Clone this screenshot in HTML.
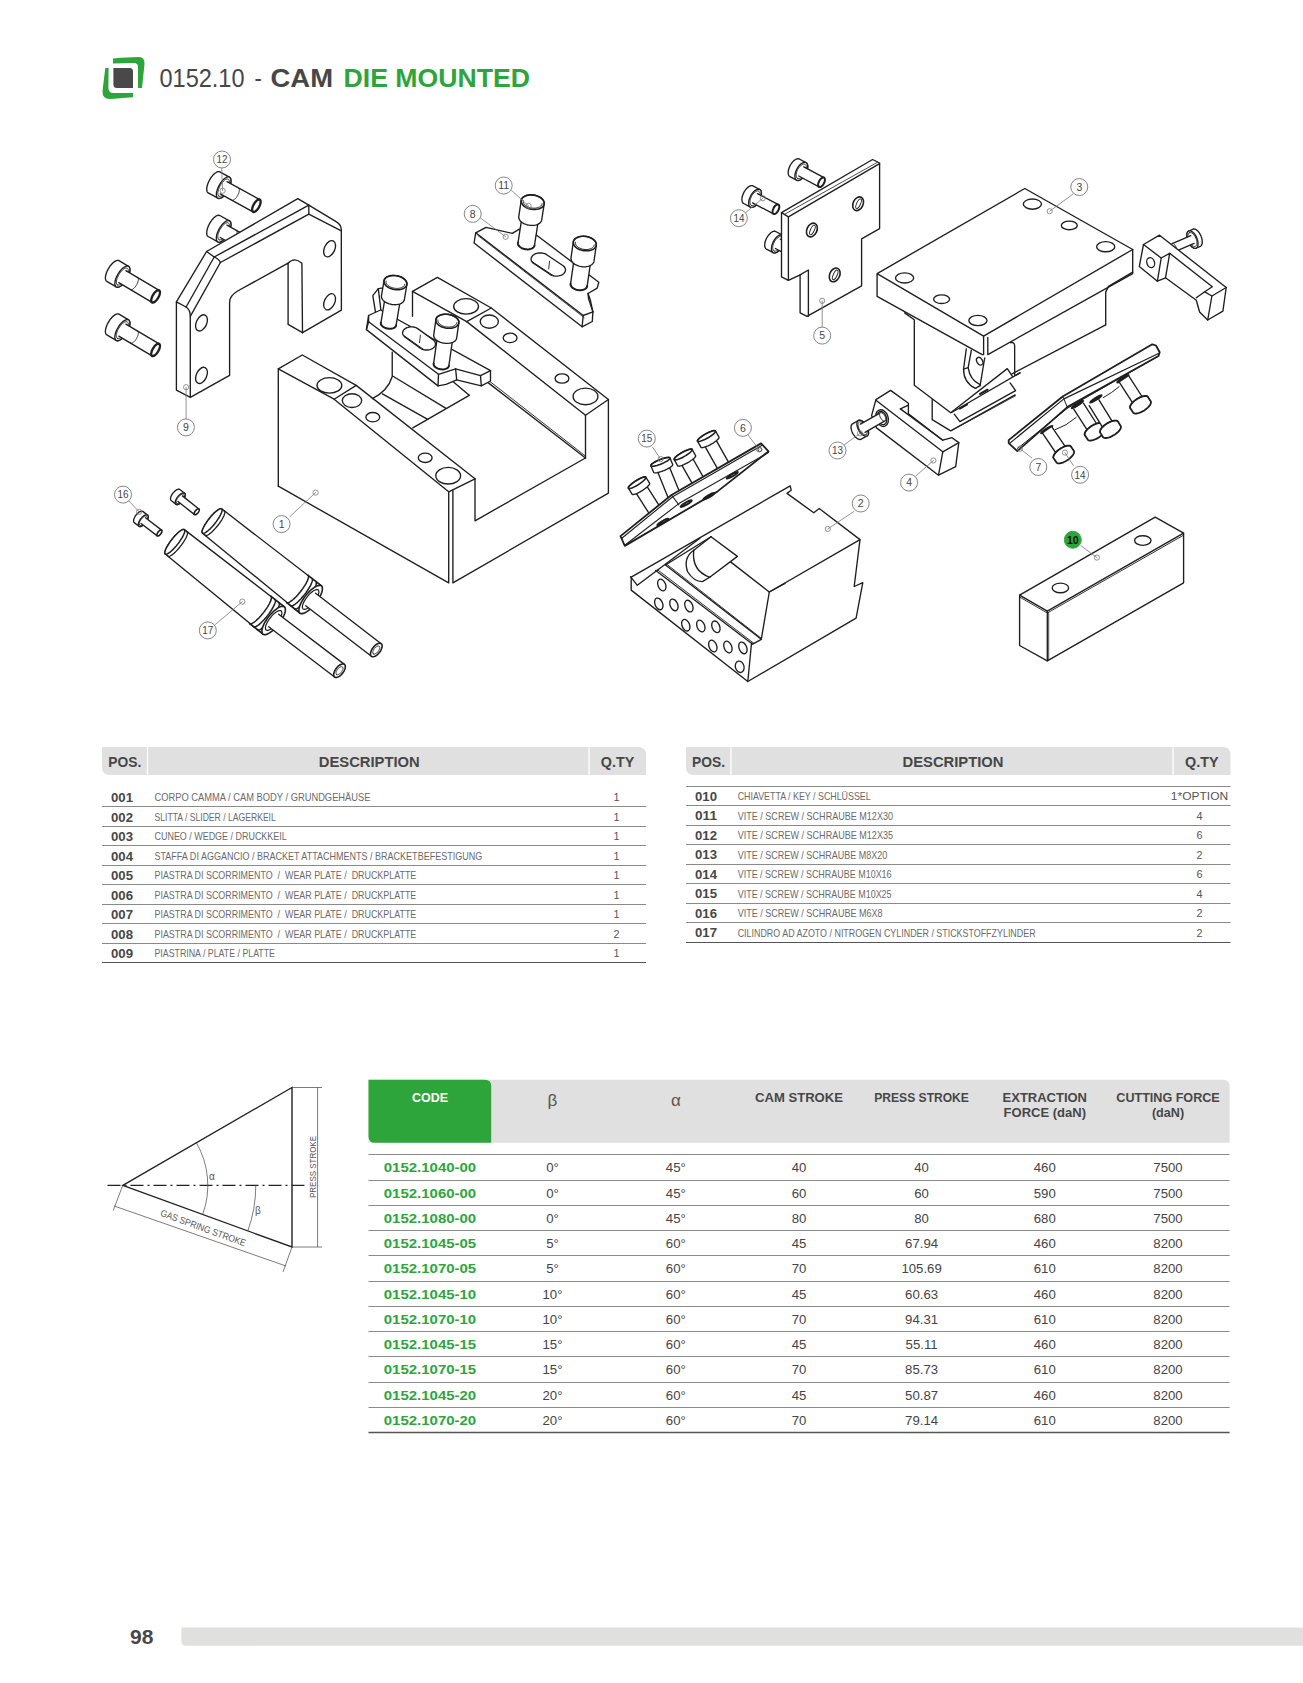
<!DOCTYPE html>
<html><head><meta charset="utf-8"><style>
html,body{margin:0;padding:0;background:#fff;}
svg{display:block;font-family:"Liberation Sans",sans-serif;}
</style></head><body>
<svg width="1303" height="1683" viewBox="0 0 1303 1683">
<g>
<path d="M105.3,68 L108.6,68 L108.4,88 Q108.6,93 113.5,93 L133,93 L133,97.3 Q118,98.5 110,99 Q102.3,99.2 102.5,91 Z" fill="#2ea53b"/>
<path d="M113,58.5 Q128,57 139,57 Q144.8,57 144.5,64 L142,88 L138,88 L138,67 Q138,63 134,63 L113,63.5 Z" fill="#2ea53b"/>
<path d="M113.4,68 L130,68 Q133,68 133,71.5 L133,88 L117,88 Q113.4,88 113.4,84.5 Z" fill="#494949"/>
</g><text xml:space="preserve" x="159.5" y="86.5" font-size="26" font-weight="normal" fill="#474747" text-anchor="start" textLength="85" lengthAdjust="spacingAndGlyphs" >0152.10</text><text xml:space="preserve" x="254.4" y="86.5" font-size="26" font-weight="normal" fill="#474747" text-anchor="start" textLength="7.3" lengthAdjust="spacingAndGlyphs" >-</text><text xml:space="preserve" x="270.5" y="86.5" font-size="26" font-weight="bold" fill="#474747" text-anchor="start" textLength="62.5" lengthAdjust="spacingAndGlyphs" >CAM</text><text xml:space="preserve" x="343.5" y="86.5" font-size="26" font-weight="bold" fill="#2ea53b" text-anchor="start" textLength="186.5" lengthAdjust="spacingAndGlyphs" >DIE MOUNTED</text><path d="M102,747 L638,747 Q646,747 646,755 L646,775 L110,775 Q102,775 102,767 Z" fill="#e0e0e0"/><line x1="147.5" y1="747" x2="147.5" y2="775" stroke="#fff" stroke-width="1.3"/><line x1="589" y1="747" x2="589" y2="775" stroke="#fff" stroke-width="1.3"/><text xml:space="preserve" x="124.75" y="767.3" font-size="14.5" font-weight="bold" fill="#474747" text-anchor="middle" textLength="33" lengthAdjust="spacingAndGlyphs" >POS.</text><text xml:space="preserve" x="369.25" y="767.3" font-size="14.5" font-weight="bold" fill="#474747" text-anchor="middle" textLength="101" lengthAdjust="spacingAndGlyphs" >DESCRIPTION</text><text xml:space="preserve" x="617.5" y="767.3" font-size="14.5" font-weight="bold" fill="#474747" text-anchor="middle" textLength="33.5" lengthAdjust="spacingAndGlyphs" >Q.TY</text><text xml:space="preserve" x="111" y="802.0" font-size="12.6" font-weight="bold" fill="#474747" text-anchor="start" textLength="22" lengthAdjust="spacingAndGlyphs" >001</text><text xml:space="preserve" x="154.5" y="801.4" font-size="10.6" font-weight="normal" fill="#6a6a6a" text-anchor="start" textLength="216" lengthAdjust="spacingAndGlyphs" >CORPO CAMMA / CAM BODY / GRUNDGEHÄUSE</text><text xml:space="preserve" x="616.5" y="801.4" font-size="10.8" font-weight="normal" fill="#555" text-anchor="middle" >1</text><line x1="102" y1="806.5" x2="646" y2="806.5" stroke="#8a8a8a" stroke-width="1"/><text xml:space="preserve" x="111" y="821.5" font-size="12.6" font-weight="bold" fill="#474747" text-anchor="start" textLength="22" lengthAdjust="spacingAndGlyphs" >002</text><text xml:space="preserve" x="154.5" y="820.9" font-size="10.6" font-weight="normal" fill="#6a6a6a" text-anchor="start" textLength="121.3" lengthAdjust="spacingAndGlyphs" >SLITTA / SLIDER / LAGERKEIL</text><text xml:space="preserve" x="616.5" y="820.9" font-size="10.8" font-weight="normal" fill="#555" text-anchor="middle" >1</text><line x1="102" y1="826.5" x2="646" y2="826.5" stroke="#8a8a8a" stroke-width="1"/><text xml:space="preserve" x="111" y="841.0" font-size="12.6" font-weight="bold" fill="#474747" text-anchor="start" textLength="22" lengthAdjust="spacingAndGlyphs" >003</text><text xml:space="preserve" x="154.5" y="840.4" font-size="10.6" font-weight="normal" fill="#6a6a6a" text-anchor="start" textLength="132.2" lengthAdjust="spacingAndGlyphs" >CUNEO / WEDGE / DRUCKKEIL</text><text xml:space="preserve" x="616.5" y="840.4" font-size="10.8" font-weight="normal" fill="#555" text-anchor="middle" >1</text><line x1="102" y1="845.5" x2="646" y2="845.5" stroke="#8a8a8a" stroke-width="1"/><text xml:space="preserve" x="111" y="860.5" font-size="12.6" font-weight="bold" fill="#474747" text-anchor="start" textLength="22" lengthAdjust="spacingAndGlyphs" >004</text><text xml:space="preserve" x="154.5" y="859.9" font-size="10.6" font-weight="normal" fill="#6a6a6a" text-anchor="start" textLength="327.7" lengthAdjust="spacingAndGlyphs" >STAFFA DI AGGANCIO / BRACKET ATTACHMENTS / BRACKETBEFESTIGUNG</text><text xml:space="preserve" x="616.5" y="859.9" font-size="10.8" font-weight="normal" fill="#555" text-anchor="middle" >1</text><line x1="102" y1="865.5" x2="646" y2="865.5" stroke="#8a8a8a" stroke-width="1"/><text xml:space="preserve" x="111" y="880.0" font-size="12.6" font-weight="bold" fill="#474747" text-anchor="start" textLength="22" lengthAdjust="spacingAndGlyphs" >005</text><text xml:space="preserve" x="154.5" y="879.4" font-size="10.6" font-weight="normal" fill="#6a6a6a" text-anchor="start" textLength="261.8" lengthAdjust="spacingAndGlyphs" >PIASTRA DI SCORRIMENTO  /  WEAR PLATE /  DRUCKPLATTE</text><text xml:space="preserve" x="616.5" y="879.4" font-size="10.8" font-weight="normal" fill="#555" text-anchor="middle" >1</text><line x1="102" y1="884.5" x2="646" y2="884.5" stroke="#8a8a8a" stroke-width="1"/><text xml:space="preserve" x="111" y="899.5" font-size="12.6" font-weight="bold" fill="#474747" text-anchor="start" textLength="22" lengthAdjust="spacingAndGlyphs" >006</text><text xml:space="preserve" x="154.5" y="898.9" font-size="10.6" font-weight="normal" fill="#6a6a6a" text-anchor="start" textLength="261.8" lengthAdjust="spacingAndGlyphs" >PIASTRA DI SCORRIMENTO  /  WEAR PLATE /  DRUCKPLATTE</text><text xml:space="preserve" x="616.5" y="898.9" font-size="10.8" font-weight="normal" fill="#555" text-anchor="middle" >1</text><line x1="102" y1="904.5" x2="646" y2="904.5" stroke="#8a8a8a" stroke-width="1"/><text xml:space="preserve" x="111" y="919.0" font-size="12.6" font-weight="bold" fill="#474747" text-anchor="start" textLength="22" lengthAdjust="spacingAndGlyphs" >007</text><text xml:space="preserve" x="154.5" y="918.4" font-size="10.6" font-weight="normal" fill="#6a6a6a" text-anchor="start" textLength="261.8" lengthAdjust="spacingAndGlyphs" >PIASTRA DI SCORRIMENTO  /  WEAR PLATE /  DRUCKPLATTE</text><text xml:space="preserve" x="616.5" y="918.4" font-size="10.8" font-weight="normal" fill="#555" text-anchor="middle" >1</text><line x1="102" y1="923.5" x2="646" y2="923.5" stroke="#8a8a8a" stroke-width="1"/><text xml:space="preserve" x="111" y="938.5" font-size="12.6" font-weight="bold" fill="#474747" text-anchor="start" textLength="22" lengthAdjust="spacingAndGlyphs" >008</text><text xml:space="preserve" x="154.5" y="937.9" font-size="10.6" font-weight="normal" fill="#6a6a6a" text-anchor="start" textLength="261.8" lengthAdjust="spacingAndGlyphs" >PIASTRA DI SCORRIMENTO  /  WEAR PLATE /  DRUCKPLATTE</text><text xml:space="preserve" x="616.5" y="937.9" font-size="10.8" font-weight="normal" fill="#555" text-anchor="middle" >2</text><line x1="102" y1="943.5" x2="646" y2="943.5" stroke="#8a8a8a" stroke-width="1"/><text xml:space="preserve" x="111" y="958.0" font-size="12.6" font-weight="bold" fill="#474747" text-anchor="start" textLength="22" lengthAdjust="spacingAndGlyphs" >009</text><text xml:space="preserve" x="154.5" y="957.4" font-size="10.6" font-weight="normal" fill="#6a6a6a" text-anchor="start" textLength="120.5" lengthAdjust="spacingAndGlyphs" >PIASTRINA / PLATE / PLATTE</text><text xml:space="preserve" x="616.5" y="957.4" font-size="10.8" font-weight="normal" fill="#555" text-anchor="middle" >1</text><line x1="102" y1="962.5" x2="646" y2="962.5" stroke="#555" stroke-width="1.2"/><path d="M686,747 L1222.5,747 Q1230.5,747 1230.5,755 L1230.5,775 L694,775 Q686,775 686,767 Z" fill="#e0e0e0"/><line x1="731" y1="747" x2="731" y2="775" stroke="#fff" stroke-width="1.3"/><line x1="1173" y1="747" x2="1173" y2="775" stroke="#fff" stroke-width="1.3"/><text xml:space="preserve" x="708.5" y="767.3" font-size="14.5" font-weight="bold" fill="#474747" text-anchor="middle" textLength="33" lengthAdjust="spacingAndGlyphs" >POS.</text><text xml:space="preserve" x="953.0" y="767.3" font-size="14.5" font-weight="bold" fill="#474747" text-anchor="middle" textLength="101" lengthAdjust="spacingAndGlyphs" >DESCRIPTION</text><text xml:space="preserve" x="1201.75" y="767.3" font-size="14.5" font-weight="bold" fill="#474747" text-anchor="middle" textLength="33.5" lengthAdjust="spacingAndGlyphs" >Q.TY</text><line x1="686" y1="786.5" x2="1230.5" y2="786.5" stroke="#8a8a8a" stroke-width="1"/><text xml:space="preserve" x="695" y="800.9" font-size="12.6" font-weight="bold" fill="#474747" text-anchor="start" textLength="22" lengthAdjust="spacingAndGlyphs" >010</text><text xml:space="preserve" x="737.7" y="800.3" font-size="10.6" font-weight="normal" fill="#6a6a6a" text-anchor="start" textLength="133" lengthAdjust="spacingAndGlyphs" >CHIAVETTA / KEY / SCHLÜSSEL</text><text xml:space="preserve" x="1199.5" y="800.3" font-size="10.8" font-weight="normal" fill="#555" text-anchor="middle" textLength="57.3" lengthAdjust="spacingAndGlyphs" >1*OPTION</text><line x1="686" y1="805.5" x2="1230.5" y2="805.5" stroke="#8a8a8a" stroke-width="1"/><text xml:space="preserve" x="695" y="820.4" font-size="12.6" font-weight="bold" fill="#474747" text-anchor="start" textLength="22" lengthAdjust="spacingAndGlyphs" >011</text><text xml:space="preserve" x="737.7" y="819.8" font-size="10.6" font-weight="normal" fill="#6a6a6a" text-anchor="start" textLength="155.3" lengthAdjust="spacingAndGlyphs" >VITE / SCREW / SCHRAUBE M12X30</text><text xml:space="preserve" x="1199.5" y="819.8" font-size="10.8" font-weight="normal" fill="#555" text-anchor="middle" >4</text><line x1="686" y1="825.5" x2="1230.5" y2="825.5" stroke="#8a8a8a" stroke-width="1"/><text xml:space="preserve" x="695" y="839.9" font-size="12.6" font-weight="bold" fill="#474747" text-anchor="start" textLength="22" lengthAdjust="spacingAndGlyphs" >012</text><text xml:space="preserve" x="737.7" y="839.3" font-size="10.6" font-weight="normal" fill="#6a6a6a" text-anchor="start" textLength="155.3" lengthAdjust="spacingAndGlyphs" >VITE / SCREW / SCHRAUBE M12X35</text><text xml:space="preserve" x="1199.5" y="839.3" font-size="10.8" font-weight="normal" fill="#555" text-anchor="middle" >6</text><line x1="686" y1="844.5" x2="1230.5" y2="844.5" stroke="#8a8a8a" stroke-width="1"/><text xml:space="preserve" x="695" y="859.4" font-size="12.6" font-weight="bold" fill="#474747" text-anchor="start" textLength="22" lengthAdjust="spacingAndGlyphs" >013</text><text xml:space="preserve" x="737.7" y="858.8" font-size="10.6" font-weight="normal" fill="#6a6a6a" text-anchor="start" textLength="149.6" lengthAdjust="spacingAndGlyphs" >VITE / SCREW / SCHRAUBE M8X20</text><text xml:space="preserve" x="1199.5" y="858.8" font-size="10.8" font-weight="normal" fill="#555" text-anchor="middle" >2</text><line x1="686" y1="864.5" x2="1230.5" y2="864.5" stroke="#8a8a8a" stroke-width="1"/><text xml:space="preserve" x="695" y="878.9" font-size="12.6" font-weight="bold" fill="#474747" text-anchor="start" textLength="22" lengthAdjust="spacingAndGlyphs" >014</text><text xml:space="preserve" x="737.7" y="878.3" font-size="10.6" font-weight="normal" fill="#6a6a6a" text-anchor="start" textLength="153.9" lengthAdjust="spacingAndGlyphs" >VITE / SCREW / SCHRAUBE M10X16</text><text xml:space="preserve" x="1199.5" y="878.3" font-size="10.8" font-weight="normal" fill="#555" text-anchor="middle" >6</text><line x1="686" y1="883.5" x2="1230.5" y2="883.5" stroke="#8a8a8a" stroke-width="1"/><text xml:space="preserve" x="695" y="898.4" font-size="12.6" font-weight="bold" fill="#474747" text-anchor="start" textLength="22" lengthAdjust="spacingAndGlyphs" >015</text><text xml:space="preserve" x="737.7" y="897.8" font-size="10.6" font-weight="normal" fill="#6a6a6a" text-anchor="start" textLength="153.9" lengthAdjust="spacingAndGlyphs" >VITE / SCREW / SCHRAUBE M10X25</text><text xml:space="preserve" x="1199.5" y="897.8" font-size="10.8" font-weight="normal" fill="#555" text-anchor="middle" >4</text><line x1="686" y1="903.5" x2="1230.5" y2="903.5" stroke="#8a8a8a" stroke-width="1"/><text xml:space="preserve" x="695" y="917.9" font-size="12.6" font-weight="bold" fill="#474747" text-anchor="start" textLength="22" lengthAdjust="spacingAndGlyphs" >016</text><text xml:space="preserve" x="737.7" y="917.3" font-size="10.6" font-weight="normal" fill="#6a6a6a" text-anchor="start" textLength="144.8" lengthAdjust="spacingAndGlyphs" >VITE / SCREW / SCHRAUBE M6X8</text><text xml:space="preserve" x="1199.5" y="917.3" font-size="10.8" font-weight="normal" fill="#555" text-anchor="middle" >2</text><line x1="686" y1="922.5" x2="1230.5" y2="922.5" stroke="#8a8a8a" stroke-width="1"/><text xml:space="preserve" x="695" y="937.4" font-size="12.6" font-weight="bold" fill="#474747" text-anchor="start" textLength="22" lengthAdjust="spacingAndGlyphs" >017</text><text xml:space="preserve" x="737.7" y="936.8" font-size="10.6" font-weight="normal" fill="#6a6a6a" text-anchor="start" textLength="297.9" lengthAdjust="spacingAndGlyphs" >CILINDRO AD AZOTO / NITROGEN CYLINDER / STICKSTOFFZYLINDER</text><text xml:space="preserve" x="1199.5" y="936.8" font-size="10.8" font-weight="normal" fill="#555" text-anchor="middle" >2</text><line x1="686" y1="942.5" x2="1230.5" y2="942.5" stroke="#555" stroke-width="1.2"/><path d="M368.5,1079.7 L1223.5,1079.7 Q1229.6,1079.7 1229.6,1085.7 L1229.6,1142.8 L368.5,1142.8 Z" fill="#e0e0e0"/><path d="M368.5,1079.7 L485,1079.7 Q491.2,1079.7 491.2,1086 L491.2,1142.8 L375,1142.8 Q368.5,1142.8 368.5,1136.5 Z" fill="#2ea53b"/><text xml:space="preserve" x="430" y="1101.8" font-size="12.6" font-weight="bold" fill="#fff" text-anchor="middle" textLength="36" lengthAdjust="spacingAndGlyphs" >CODE</text><text xml:space="preserve" x="552.5" y="1106" font-size="17" font-weight="normal" fill="#555" text-anchor="middle" >β</text><text xml:space="preserve" x="675.8" y="1106" font-size="17" font-weight="normal" fill="#555" text-anchor="middle" >α</text><text xml:space="preserve" x="799" y="1102" font-size="12.6" font-weight="bold" fill="#474747" text-anchor="middle" textLength="88" lengthAdjust="spacingAndGlyphs" >CAM STROKE</text><text xml:space="preserve" x="921.6" y="1102" font-size="12.6" font-weight="bold" fill="#474747" text-anchor="middle" textLength="94.6" lengthAdjust="spacingAndGlyphs" >PRESS STROKE</text><text xml:space="preserve" x="1044.8" y="1102" font-size="12.6" font-weight="bold" fill="#474747" text-anchor="middle" textLength="84.4" lengthAdjust="spacingAndGlyphs" >EXTRACTION</text><text xml:space="preserve" x="1044.8" y="1117.3" font-size="12.6" font-weight="bold" fill="#474747" text-anchor="middle" textLength="82.4" lengthAdjust="spacingAndGlyphs" >FORCE (daN)</text><text xml:space="preserve" x="1168" y="1102" font-size="12.6" font-weight="bold" fill="#474747" text-anchor="middle" textLength="103.4" lengthAdjust="spacingAndGlyphs" >CUTTING FORCE</text><text xml:space="preserve" x="1168" y="1117.3" font-size="12.6" font-weight="bold" fill="#474747" text-anchor="middle" >(daN)</text><line x1="368.5" y1="1154.5" x2="1229.6" y2="1154.5" stroke="#8a8a8a" stroke-width="1"/><text xml:space="preserve" x="430" y="1172.4" font-size="13" font-weight="bold" fill="#2ea53b" text-anchor="middle" textLength="92.4" lengthAdjust="spacingAndGlyphs" >0152.1040-00</text><text xml:space="preserve" x="552.5" y="1172.4" font-size="13.2" font-weight="normal" fill="#444" text-anchor="middle" >0°</text><text xml:space="preserve" x="675.8" y="1172.4" font-size="13.2" font-weight="normal" fill="#444" text-anchor="middle" >45°</text><text xml:space="preserve" x="799" y="1172.4" font-size="13.2" font-weight="normal" fill="#444" text-anchor="middle" >40</text><text xml:space="preserve" x="921.6" y="1172.4" font-size="13.2" font-weight="normal" fill="#444" text-anchor="middle" >40</text><text xml:space="preserve" x="1044.8" y="1172.4" font-size="13.2" font-weight="normal" fill="#444" text-anchor="middle" >460</text><text xml:space="preserve" x="1168" y="1172.4" font-size="13.2" font-weight="normal" fill="#444" text-anchor="middle" >7500</text><line x1="368.5" y1="1180.5" x2="1229.6" y2="1180.5" stroke="#8a8a8a" stroke-width="1"/><text xml:space="preserve" x="430" y="1197.65" font-size="13" font-weight="bold" fill="#2ea53b" text-anchor="middle" textLength="92.4" lengthAdjust="spacingAndGlyphs" >0152.1060-00</text><text xml:space="preserve" x="552.5" y="1197.65" font-size="13.2" font-weight="normal" fill="#444" text-anchor="middle" >0°</text><text xml:space="preserve" x="675.8" y="1197.65" font-size="13.2" font-weight="normal" fill="#444" text-anchor="middle" >45°</text><text xml:space="preserve" x="799" y="1197.65" font-size="13.2" font-weight="normal" fill="#444" text-anchor="middle" >60</text><text xml:space="preserve" x="921.6" y="1197.65" font-size="13.2" font-weight="normal" fill="#444" text-anchor="middle" >60</text><text xml:space="preserve" x="1044.8" y="1197.65" font-size="13.2" font-weight="normal" fill="#444" text-anchor="middle" >590</text><text xml:space="preserve" x="1168" y="1197.65" font-size="13.2" font-weight="normal" fill="#444" text-anchor="middle" >7500</text><line x1="368.5" y1="1205.5" x2="1229.6" y2="1205.5" stroke="#8a8a8a" stroke-width="1"/><text xml:space="preserve" x="430" y="1222.9" font-size="13" font-weight="bold" fill="#2ea53b" text-anchor="middle" textLength="92.4" lengthAdjust="spacingAndGlyphs" >0152.1080-00</text><text xml:space="preserve" x="552.5" y="1222.9" font-size="13.2" font-weight="normal" fill="#444" text-anchor="middle" >0°</text><text xml:space="preserve" x="675.8" y="1222.9" font-size="13.2" font-weight="normal" fill="#444" text-anchor="middle" >45°</text><text xml:space="preserve" x="799" y="1222.9" font-size="13.2" font-weight="normal" fill="#444" text-anchor="middle" >80</text><text xml:space="preserve" x="921.6" y="1222.9" font-size="13.2" font-weight="normal" fill="#444" text-anchor="middle" >80</text><text xml:space="preserve" x="1044.8" y="1222.9" font-size="13.2" font-weight="normal" fill="#444" text-anchor="middle" >680</text><text xml:space="preserve" x="1168" y="1222.9" font-size="13.2" font-weight="normal" fill="#444" text-anchor="middle" >7500</text><line x1="368.5" y1="1230.5" x2="1229.6" y2="1230.5" stroke="#8a8a8a" stroke-width="1"/><text xml:space="preserve" x="430" y="1248.15" font-size="13" font-weight="bold" fill="#2ea53b" text-anchor="middle" textLength="92.4" lengthAdjust="spacingAndGlyphs" >0152.1045-05</text><text xml:space="preserve" x="552.5" y="1248.15" font-size="13.2" font-weight="normal" fill="#444" text-anchor="middle" >5°</text><text xml:space="preserve" x="675.8" y="1248.15" font-size="13.2" font-weight="normal" fill="#444" text-anchor="middle" >60°</text><text xml:space="preserve" x="799" y="1248.15" font-size="13.2" font-weight="normal" fill="#444" text-anchor="middle" >45</text><text xml:space="preserve" x="921.6" y="1248.15" font-size="13.2" font-weight="normal" fill="#444" text-anchor="middle" >67.94</text><text xml:space="preserve" x="1044.8" y="1248.15" font-size="13.2" font-weight="normal" fill="#444" text-anchor="middle" >460</text><text xml:space="preserve" x="1168" y="1248.15" font-size="13.2" font-weight="normal" fill="#444" text-anchor="middle" >8200</text><line x1="368.5" y1="1255.5" x2="1229.6" y2="1255.5" stroke="#8a8a8a" stroke-width="1"/><text xml:space="preserve" x="430" y="1273.4" font-size="13" font-weight="bold" fill="#2ea53b" text-anchor="middle" textLength="92.4" lengthAdjust="spacingAndGlyphs" >0152.1070-05</text><text xml:space="preserve" x="552.5" y="1273.4" font-size="13.2" font-weight="normal" fill="#444" text-anchor="middle" >5°</text><text xml:space="preserve" x="675.8" y="1273.4" font-size="13.2" font-weight="normal" fill="#444" text-anchor="middle" >60°</text><text xml:space="preserve" x="799" y="1273.4" font-size="13.2" font-weight="normal" fill="#444" text-anchor="middle" >70</text><text xml:space="preserve" x="921.6" y="1273.4" font-size="13.2" font-weight="normal" fill="#444" text-anchor="middle" >105.69</text><text xml:space="preserve" x="1044.8" y="1273.4" font-size="13.2" font-weight="normal" fill="#444" text-anchor="middle" >610</text><text xml:space="preserve" x="1168" y="1273.4" font-size="13.2" font-weight="normal" fill="#444" text-anchor="middle" >8200</text><line x1="368.5" y1="1281.5" x2="1229.6" y2="1281.5" stroke="#8a8a8a" stroke-width="1"/><text xml:space="preserve" x="430" y="1298.65" font-size="13" font-weight="bold" fill="#2ea53b" text-anchor="middle" textLength="92.4" lengthAdjust="spacingAndGlyphs" >0152.1045-10</text><text xml:space="preserve" x="552.5" y="1298.65" font-size="13.2" font-weight="normal" fill="#444" text-anchor="middle" >10°</text><text xml:space="preserve" x="675.8" y="1298.65" font-size="13.2" font-weight="normal" fill="#444" text-anchor="middle" >60°</text><text xml:space="preserve" x="799" y="1298.65" font-size="13.2" font-weight="normal" fill="#444" text-anchor="middle" >45</text><text xml:space="preserve" x="921.6" y="1298.65" font-size="13.2" font-weight="normal" fill="#444" text-anchor="middle" >60.63</text><text xml:space="preserve" x="1044.8" y="1298.65" font-size="13.2" font-weight="normal" fill="#444" text-anchor="middle" >460</text><text xml:space="preserve" x="1168" y="1298.65" font-size="13.2" font-weight="normal" fill="#444" text-anchor="middle" >8200</text><line x1="368.5" y1="1306.5" x2="1229.6" y2="1306.5" stroke="#8a8a8a" stroke-width="1"/><text xml:space="preserve" x="430" y="1323.9" font-size="13" font-weight="bold" fill="#2ea53b" text-anchor="middle" textLength="92.4" lengthAdjust="spacingAndGlyphs" >0152.1070-10</text><text xml:space="preserve" x="552.5" y="1323.9" font-size="13.2" font-weight="normal" fill="#444" text-anchor="middle" >10°</text><text xml:space="preserve" x="675.8" y="1323.9" font-size="13.2" font-weight="normal" fill="#444" text-anchor="middle" >60°</text><text xml:space="preserve" x="799" y="1323.9" font-size="13.2" font-weight="normal" fill="#444" text-anchor="middle" >70</text><text xml:space="preserve" x="921.6" y="1323.9" font-size="13.2" font-weight="normal" fill="#444" text-anchor="middle" >94.31</text><text xml:space="preserve" x="1044.8" y="1323.9" font-size="13.2" font-weight="normal" fill="#444" text-anchor="middle" >610</text><text xml:space="preserve" x="1168" y="1323.9" font-size="13.2" font-weight="normal" fill="#444" text-anchor="middle" >8200</text><line x1="368.5" y1="1331.5" x2="1229.6" y2="1331.5" stroke="#8a8a8a" stroke-width="1"/><text xml:space="preserve" x="430" y="1349.15" font-size="13" font-weight="bold" fill="#2ea53b" text-anchor="middle" textLength="92.4" lengthAdjust="spacingAndGlyphs" >0152.1045-15</text><text xml:space="preserve" x="552.5" y="1349.15" font-size="13.2" font-weight="normal" fill="#444" text-anchor="middle" >15°</text><text xml:space="preserve" x="675.8" y="1349.15" font-size="13.2" font-weight="normal" fill="#444" text-anchor="middle" >60°</text><text xml:space="preserve" x="799" y="1349.15" font-size="13.2" font-weight="normal" fill="#444" text-anchor="middle" >45</text><text xml:space="preserve" x="921.6" y="1349.15" font-size="13.2" font-weight="normal" fill="#444" text-anchor="middle" >55.11</text><text xml:space="preserve" x="1044.8" y="1349.15" font-size="13.2" font-weight="normal" fill="#444" text-anchor="middle" >460</text><text xml:space="preserve" x="1168" y="1349.15" font-size="13.2" font-weight="normal" fill="#444" text-anchor="middle" >8200</text><line x1="368.5" y1="1356.5" x2="1229.6" y2="1356.5" stroke="#8a8a8a" stroke-width="1"/><text xml:space="preserve" x="430" y="1374.4" font-size="13" font-weight="bold" fill="#2ea53b" text-anchor="middle" textLength="92.4" lengthAdjust="spacingAndGlyphs" >0152.1070-15</text><text xml:space="preserve" x="552.5" y="1374.4" font-size="13.2" font-weight="normal" fill="#444" text-anchor="middle" >15°</text><text xml:space="preserve" x="675.8" y="1374.4" font-size="13.2" font-weight="normal" fill="#444" text-anchor="middle" >60°</text><text xml:space="preserve" x="799" y="1374.4" font-size="13.2" font-weight="normal" fill="#444" text-anchor="middle" >70</text><text xml:space="preserve" x="921.6" y="1374.4" font-size="13.2" font-weight="normal" fill="#444" text-anchor="middle" >85.73</text><text xml:space="preserve" x="1044.8" y="1374.4" font-size="13.2" font-weight="normal" fill="#444" text-anchor="middle" >610</text><text xml:space="preserve" x="1168" y="1374.4" font-size="13.2" font-weight="normal" fill="#444" text-anchor="middle" >8200</text><line x1="368.5" y1="1382.5" x2="1229.6" y2="1382.5" stroke="#8a8a8a" stroke-width="1"/><text xml:space="preserve" x="430" y="1399.65" font-size="13" font-weight="bold" fill="#2ea53b" text-anchor="middle" textLength="92.4" lengthAdjust="spacingAndGlyphs" >0152.1045-20</text><text xml:space="preserve" x="552.5" y="1399.65" font-size="13.2" font-weight="normal" fill="#444" text-anchor="middle" >20°</text><text xml:space="preserve" x="675.8" y="1399.65" font-size="13.2" font-weight="normal" fill="#444" text-anchor="middle" >60°</text><text xml:space="preserve" x="799" y="1399.65" font-size="13.2" font-weight="normal" fill="#444" text-anchor="middle" >45</text><text xml:space="preserve" x="921.6" y="1399.65" font-size="13.2" font-weight="normal" fill="#444" text-anchor="middle" >50.87</text><text xml:space="preserve" x="1044.8" y="1399.65" font-size="13.2" font-weight="normal" fill="#444" text-anchor="middle" >460</text><text xml:space="preserve" x="1168" y="1399.65" font-size="13.2" font-weight="normal" fill="#444" text-anchor="middle" >8200</text><line x1="368.5" y1="1407.5" x2="1229.6" y2="1407.5" stroke="#8a8a8a" stroke-width="1"/><text xml:space="preserve" x="430" y="1424.9" font-size="13" font-weight="bold" fill="#2ea53b" text-anchor="middle" textLength="92.4" lengthAdjust="spacingAndGlyphs" >0152.1070-20</text><text xml:space="preserve" x="552.5" y="1424.9" font-size="13.2" font-weight="normal" fill="#444" text-anchor="middle" >20°</text><text xml:space="preserve" x="675.8" y="1424.9" font-size="13.2" font-weight="normal" fill="#444" text-anchor="middle" >60°</text><text xml:space="preserve" x="799" y="1424.9" font-size="13.2" font-weight="normal" fill="#444" text-anchor="middle" >70</text><text xml:space="preserve" x="921.6" y="1424.9" font-size="13.2" font-weight="normal" fill="#444" text-anchor="middle" >79.14</text><text xml:space="preserve" x="1044.8" y="1424.9" font-size="13.2" font-weight="normal" fill="#444" text-anchor="middle" >610</text><text xml:space="preserve" x="1168" y="1424.9" font-size="13.2" font-weight="normal" fill="#444" text-anchor="middle" >8200</text><line x1="368.5" y1="1432.5" x2="1229.6" y2="1432.5" stroke="#555" stroke-width="1.3"/><text xml:space="preserve" x="130" y="1644" font-size="21" font-weight="bold" fill="#474747" text-anchor="start" textLength="23.4" lengthAdjust="spacingAndGlyphs" >98</text><path d="M181.4,1627.5 L1303,1627.5 L1303,1645.7 L186,1645.7 Q181.4,1645.7 181.4,1641 Z" fill="#e0e0df"/><g stroke="#222" fill="none"><path d="M292,1087.5 L122.8,1185.3 L292,1247 Z" stroke-width="1.4"/><line x1="107.5" y1="1185.3" x2="306" y2="1185.3" stroke-width="1.2" stroke-dasharray="13,4,2,4"/></g><g stroke="#444" fill="none" stroke-width="0.7"><line x1="292" y1="1087.5" x2="322" y2="1087.5"/><line x1="292" y1="1247" x2="322" y2="1247"/><line x1="317.6" y1="1087.5" x2="317.6" y2="1247"/><line x1="122.8" y1="1185.3" x2="113.2" y2="1210.5"/><line x1="292" y1="1247" x2="283" y2="1272"/><line x1="114.2" y1="1206" x2="286" y2="1266"/><path d="M196.4,1142.8 A85,85 0 0 1 202.7,1214.4"/><path d="M255.8,1185.3 A133,133 0 0 1 247.8,1230.9"/></g><text xml:space="preserve" x="212" y="1180" font-size="10" font-weight="normal" fill="#555" text-anchor="middle" >α</text><text xml:space="preserve" x="258" y="1214" font-size="10" font-weight="normal" fill="#555" text-anchor="middle" >β</text><text x="0" y="0" font-size="9.5" fill="#555" text-anchor="middle" textLength="62" lengthAdjust="spacingAndGlyphs" transform="translate(316,1167) rotate(-90)">PRESS STROKE</text><text x="0" y="0" font-size="9.5" fill="#555" text-anchor="middle" textLength="90" lengthAdjust="spacingAndGlyphs" transform="translate(202,1231) rotate(20.03)">GAS SPRING STROKE</text>
<g><path d="M208.2,236.5 L207.7,236.1 L207.3,235.7 L207.0,235.1 L206.8,234.4 L206.7,233.6 L206.7,232.7 L206.8,231.7 L206.9,230.6 L207.2,229.5 L207.5,228.3 L207.9,227.2 L208.4,225.9 L209.0,224.7 L209.6,223.6 L210.3,222.4 L211.0,221.3 L211.8,220.2 L212.6,219.2 L213.4,218.3 L214.2,217.5 L215.0,216.9 L215.8,216.3 L216.6,215.8 L217.3,215.5 L218.0,215.3 L218.7,215.2 L219.3,215.3 L219.8,215.5 L229.4,220.9 L229.9,221.2 L230.3,221.7 L230.6,222.2 L230.8,223.0 L230.9,223.8 L230.9,224.7 L230.9,225.7 L230.7,226.7 L230.4,227.8 L230.1,229.0 L229.7,230.2 L229.2,231.4 L228.6,232.6 L228.0,233.8 L227.3,234.9 L226.6,236.1 L225.8,237.1 L225.1,238.1 L224.2,239.0 L223.4,239.8 L222.6,240.5 L221.8,241.1 L221.0,241.5 L220.3,241.9 L219.6,242.1 L218.9,242.1 L218.3,242.0 L217.8,241.8 Z" fill="#fff" stroke="#1e1e1e" stroke-width="1.35" stroke-linejoin="round" stroke-linecap="round"/>
<path d="M217.8,241.8 L218.5,242.1 L219.4,242.1 L220.4,241.8 L221.5,241.3 L222.6,240.5 L223.8,239.5 L224.9,238.3 L226.0,236.9 L227.1,235.4 L228.0,233.8 L228.9,232.1 L229.6,230.4 L230.2,228.8 L230.6,227.2 L230.9,225.7 L230.9,224.3 L230.8,223.1 L230.5,222.1 L230.1,221.4 L229.4,220.9 L228.7,220.6 L227.8,220.6 L226.8,220.9 L225.7,221.4 L224.6,222.2 L223.5,223.2 L222.3,224.4 L221.2,225.8 L220.2,227.3 L219.2,228.9 L218.4,230.6 L217.6,232.3 L217.0,233.9 L216.6,235.5 L216.4,237.0 L216.3,238.4 L216.4,239.6 L216.7,240.6 L217.2,241.3 L217.8,241.8 Z" fill="#fff" stroke="#1e1e1e" stroke-width="1.35" stroke-linejoin="round" stroke-linecap="round"/>
<path d="M219.0,239.7 L219.6,239.9 L220.3,239.9 L221.1,239.7 L221.9,239.3 L222.8,238.7 L223.7,237.9 L224.6,236.9 L225.5,235.8 L226.4,234.6 L227.1,233.3 L227.8,232.0 L228.4,230.6 L228.9,229.3 L229.2,228.0 L229.4,226.8 L229.5,225.7 L229.4,224.8 L229.1,224.0 L228.8,223.4 L228.3,223.0 L227.7,222.7 L227.0,222.8 L226.2,223.0 L225.3,223.4 L224.4,224.0 L223.5,224.8 L222.6,225.8 L221.7,226.9 L220.9,228.1 L220.1,229.4 L219.4,230.7 L218.8,232.1 L218.4,233.4 L218.0,234.7 L217.8,235.9 L217.8,237.0 L217.9,237.9 L218.1,238.7 L218.5,239.3 L219.0,239.7 Z" fill="none" stroke="#1e1e1e" stroke-width="0.9" stroke-linejoin="round" stroke-linecap="round"/>
<path d="M220.2,237.5 L246.6,252.1 L253.4,239.9 L227.0,225.2 Z" fill="#fff" stroke="#fff" stroke-width="0.01" stroke-linejoin="round" stroke-linecap="round"/>
<path d="M220.2,237.5 L246.6,252.1" fill="none" stroke="#1e1e1e" stroke-width="1.35" stroke-linejoin="round" stroke-linecap="round"/>
<path d="M227.0,225.2 L253.4,239.9" fill="none" stroke="#1e1e1e" stroke-width="1.35" stroke-linejoin="round" stroke-linecap="round"/>
<path d="M229.5,242.6 L229.8,242.7 L230.1,242.8 L230.5,242.7 L230.9,242.6 L231.3,242.4 L231.8,242.1 L232.3,241.8 L232.7,241.4 L233.2,240.9 L233.7,240.4 L234.2,239.8 L234.6,239.2 L235.0,238.6 L235.4,237.9 L235.8,237.2 L236.1,236.5 L236.4,235.8 L236.6,235.1 L236.8,234.4 L237.0,233.8 L237.1,233.2 L237.1,232.6 L237.1,232.1 L237.0,231.6 L236.9,231.2 L236.7,230.8 L236.5,230.6 L236.2,230.4" fill="none" stroke="#1e1e1e" stroke-width="0.9" stroke-linejoin="round" stroke-linecap="round"/>
<path d="M246.6,252.1 L247.0,252.3 L247.6,252.3 L248.1,252.1 L248.8,251.8 L249.4,251.3 L250.1,250.8 L250.7,250.1 L251.4,249.2 L252.0,248.4 L252.6,247.4 L253.1,246.5 L253.5,245.5 L253.8,244.5 L254.1,243.6 L254.2,242.7 L254.3,241.9 L254.2,241.2 L254.0,240.6 L253.8,240.2 L253.4,239.9 L253.0,239.7 L252.4,239.7 L251.9,239.9 L251.2,240.2 L250.6,240.7 L249.9,241.2 L249.3,241.9 L248.6,242.8 L248.0,243.6 L247.4,244.6 L246.9,245.5 L246.5,246.5 L246.2,247.5 L245.9,248.4 L245.8,249.3 L245.7,250.1 L245.8,250.8 L246.0,251.4 L246.2,251.8 L246.6,252.1 Z" fill="#fff" stroke="#1e1e1e" stroke-width="2.3" stroke-linejoin="round" stroke-linecap="round"/>
<path d="M106.8,281.3 L106.3,281.0 L106.0,280.5 L105.7,279.9 L105.5,279.2 L105.4,278.4 L105.4,277.5 L105.5,276.5 L105.7,275.4 L106.0,274.3 L106.3,273.2 L106.8,272.0 L107.3,270.8 L107.9,269.6 L108.6,268.4 L109.3,267.3 L110.0,266.2 L110.8,265.2 L111.7,264.2 L112.5,263.3 L113.3,262.6 L114.2,261.9 L115.0,261.3 L115.8,260.9 L116.5,260.6 L117.3,260.4 L117.9,260.4 L118.5,260.5 L119.0,260.7 L128.5,266.3 L128.9,266.7 L129.3,267.1 L129.6,267.7 L129.8,268.4 L129.9,269.3 L129.9,270.2 L129.8,271.2 L129.6,272.2 L129.3,273.3 L128.9,274.5 L128.5,275.6 L127.9,276.8 L127.3,278.0 L126.7,279.2 L126.0,280.3 L125.2,281.4 L124.4,282.5 L123.6,283.4 L122.8,284.3 L121.9,285.1 L121.1,285.7 L120.3,286.3 L119.5,286.7 L118.7,287.0 L118.0,287.2 L117.3,287.3 L116.7,287.2 L116.2,286.9 Z" fill="#fff" stroke="#1e1e1e" stroke-width="1.35" stroke-linejoin="round" stroke-linecap="round"/>
<path d="M116.2,286.9 L117.0,287.2 L117.9,287.2 L118.9,287.0 L119.9,286.5 L121.1,285.7 L122.3,284.8 L123.4,283.6 L124.6,282.3 L125.7,280.8 L126.7,279.2 L127.6,277.6 L128.4,275.9 L129.0,274.2 L129.5,272.6 L129.8,271.2 L129.9,269.8 L129.8,268.6 L129.5,267.6 L129.1,266.8 L128.5,266.3 L127.7,266.0 L126.8,266.0 L125.9,266.3 L124.8,266.8 L123.6,267.5 L122.5,268.5 L121.3,269.6 L120.1,271.0 L119.0,272.5 L118.0,274.0 L117.1,275.7 L116.3,277.4 L115.7,279.0 L115.2,280.6 L115.0,282.1 L114.8,283.5 L114.9,284.6 L115.2,285.6 L115.6,286.4 L116.2,286.9 Z" fill="#fff" stroke="#1e1e1e" stroke-width="1.35" stroke-linejoin="round" stroke-linecap="round"/>
<path d="M117.4,284.9 L118.0,285.1 L118.8,285.1 L119.6,284.9 L120.4,284.5 L121.3,283.9 L122.3,283.1 L123.2,282.2 L124.1,281.1 L125.0,280.0 L125.8,278.7 L126.5,277.4 L127.2,276.0 L127.7,274.7 L128.0,273.4 L128.3,272.2 L128.4,271.2 L128.3,270.2 L128.1,269.4 L127.7,268.8 L127.3,268.4 L126.7,268.2 L126.0,268.1 L125.2,268.3 L124.3,268.7 L123.4,269.3 L122.4,270.1 L121.5,271.0 L120.6,272.1 L119.7,273.3 L118.9,274.6 L118.2,275.9 L117.5,277.2 L117.0,278.5 L116.7,279.8 L116.4,281.0 L116.3,282.1 L116.4,283.0 L116.6,283.8 L117.0,284.5 L117.4,284.9 Z" fill="none" stroke="#1e1e1e" stroke-width="0.9" stroke-linejoin="round" stroke-linecap="round"/>
<path d="M118.8,282.6 L152.0,302.4 L159.2,290.4 L125.9,270.6 Z" fill="#fff" stroke="#fff" stroke-width="0.01" stroke-linejoin="round" stroke-linecap="round"/>
<path d="M118.8,282.6 L152.0,302.4" fill="none" stroke="#1e1e1e" stroke-width="1.35" stroke-linejoin="round" stroke-linecap="round"/>
<path d="M125.9,270.6 L159.2,290.4" fill="none" stroke="#1e1e1e" stroke-width="1.35" stroke-linejoin="round" stroke-linecap="round"/>
<path d="M130.4,289.6 L130.7,289.7 L131.1,289.7 L131.4,289.7 L131.9,289.6 L132.3,289.4 L132.8,289.2 L133.2,288.9 L133.7,288.5 L134.2,288.0 L134.7,287.5 L135.2,287.0 L135.7,286.3 L136.1,285.7 L136.5,285.0 L136.9,284.4 L137.2,283.7 L137.6,283.0 L137.8,282.3 L138.0,281.6 L138.2,281.0 L138.3,280.4 L138.4,279.8 L138.4,279.3 L138.3,278.8 L138.2,278.4 L138.0,278.0 L137.8,277.7 L137.6,277.5" fill="none" stroke="#1e1e1e" stroke-width="0.9" stroke-linejoin="round" stroke-linecap="round"/>
<path d="M152.0,302.4 L152.5,302.6 L153.0,302.6 L153.6,302.4 L154.2,302.2 L154.9,301.7 L155.5,301.2 L156.2,300.5 L156.9,299.7 L157.5,298.8 L158.1,297.9 L158.7,296.9 L159.1,296.0 L159.5,295.0 L159.7,294.1 L159.9,293.2 L160.0,292.4 L159.9,291.7 L159.8,291.1 L159.5,290.7 L159.2,290.4 L158.7,290.2 L158.2,290.2 L157.6,290.4 L157.0,290.6 L156.3,291.1 L155.7,291.6 L155.0,292.3 L154.3,293.1 L153.7,294.0 L153.1,294.9 L152.5,295.9 L152.1,296.8 L151.7,297.8 L151.5,298.7 L151.3,299.6 L151.2,300.4 L151.3,301.1 L151.4,301.7 L151.7,302.1 L152.0,302.4 Z" fill="#fff" stroke="#1e1e1e" stroke-width="2.3" stroke-linejoin="round" stroke-linecap="round"/>
<path d="M106.8,334.8 L106.3,334.5 L106.0,334.0 L105.7,333.4 L105.5,332.7 L105.4,331.9 L105.4,331.0 L105.5,330.0 L105.7,328.9 L106.0,327.8 L106.3,326.7 L106.8,325.5 L107.3,324.3 L107.9,323.1 L108.6,321.9 L109.3,320.8 L110.0,319.7 L110.8,318.7 L111.7,317.7 L112.5,316.8 L113.3,316.1 L114.2,315.4 L115.0,314.8 L115.8,314.4 L116.5,314.1 L117.3,313.9 L117.9,313.9 L118.5,314.0 L119.0,314.2 L128.5,319.8 L128.9,320.2 L129.3,320.6 L129.6,321.2 L129.8,321.9 L129.9,322.8 L129.9,323.7 L129.8,324.7 L129.6,325.7 L129.3,326.8 L128.9,328.0 L128.5,329.1 L127.9,330.3 L127.3,331.5 L126.7,332.7 L126.0,333.8 L125.2,334.9 L124.4,336.0 L123.6,336.9 L122.8,337.8 L121.9,338.6 L121.1,339.2 L120.3,339.8 L119.5,340.2 L118.7,340.5 L118.0,340.7 L117.3,340.8 L116.7,340.7 L116.2,340.4 Z" fill="#fff" stroke="#1e1e1e" stroke-width="1.35" stroke-linejoin="round" stroke-linecap="round"/>
<path d="M116.2,340.4 L117.0,340.7 L117.9,340.7 L118.9,340.5 L119.9,340.0 L121.1,339.2 L122.3,338.3 L123.4,337.1 L124.6,335.8 L125.7,334.3 L126.7,332.7 L127.6,331.1 L128.4,329.4 L129.0,327.7 L129.5,326.1 L129.8,324.7 L129.9,323.3 L129.8,322.1 L129.5,321.1 L129.1,320.3 L128.5,319.8 L127.7,319.5 L126.8,319.5 L125.9,319.8 L124.8,320.3 L123.6,321.0 L122.5,322.0 L121.3,323.1 L120.1,324.5 L119.0,326.0 L118.0,327.5 L117.1,329.2 L116.3,330.9 L115.7,332.5 L115.2,334.1 L115.0,335.6 L114.8,337.0 L114.9,338.1 L115.2,339.1 L115.6,339.9 L116.2,340.4 Z" fill="#fff" stroke="#1e1e1e" stroke-width="1.35" stroke-linejoin="round" stroke-linecap="round"/>
<path d="M117.4,338.4 L118.0,338.6 L118.8,338.6 L119.6,338.4 L120.4,338.0 L121.3,337.4 L122.3,336.6 L123.2,335.7 L124.1,334.6 L125.0,333.5 L125.8,332.2 L126.5,330.9 L127.2,329.5 L127.7,328.2 L128.0,326.9 L128.3,325.7 L128.4,324.7 L128.3,323.7 L128.1,322.9 L127.7,322.3 L127.3,321.9 L126.7,321.7 L126.0,321.6 L125.2,321.8 L124.3,322.2 L123.4,322.8 L122.4,323.6 L121.5,324.5 L120.6,325.6 L119.7,326.8 L118.9,328.1 L118.2,329.4 L117.5,330.7 L117.0,332.0 L116.7,333.3 L116.4,334.5 L116.3,335.6 L116.4,336.5 L116.6,337.3 L117.0,338.0 L117.4,338.4 Z" fill="none" stroke="#1e1e1e" stroke-width="0.9" stroke-linejoin="round" stroke-linecap="round"/>
<path d="M118.8,336.1 L152.0,355.9 L159.2,343.9 L125.9,324.1 Z" fill="#fff" stroke="#fff" stroke-width="0.01" stroke-linejoin="round" stroke-linecap="round"/>
<path d="M118.8,336.1 L152.0,355.9" fill="none" stroke="#1e1e1e" stroke-width="1.35" stroke-linejoin="round" stroke-linecap="round"/>
<path d="M125.9,324.1 L159.2,343.9" fill="none" stroke="#1e1e1e" stroke-width="1.35" stroke-linejoin="round" stroke-linecap="round"/>
<path d="M130.4,343.1 L130.7,343.2 L131.1,343.2 L131.4,343.2 L131.9,343.1 L132.3,342.9 L132.8,342.7 L133.2,342.4 L133.7,342.0 L134.2,341.5 L134.7,341.0 L135.2,340.5 L135.7,339.8 L136.1,339.2 L136.5,338.5 L136.9,337.9 L137.2,337.2 L137.6,336.5 L137.8,335.8 L138.0,335.1 L138.2,334.5 L138.3,333.9 L138.4,333.3 L138.4,332.8 L138.3,332.3 L138.2,331.9 L138.0,331.5 L137.8,331.2 L137.6,331.0" fill="none" stroke="#1e1e1e" stroke-width="0.9" stroke-linejoin="round" stroke-linecap="round"/>
<path d="M152.0,355.9 L152.5,356.1 L153.0,356.1 L153.6,355.9 L154.2,355.7 L154.9,355.2 L155.5,354.7 L156.2,354.0 L156.9,353.2 L157.5,352.3 L158.1,351.4 L158.7,350.4 L159.1,349.5 L159.5,348.5 L159.7,347.6 L159.9,346.7 L160.0,345.9 L159.9,345.2 L159.8,344.6 L159.5,344.2 L159.2,343.9 L158.7,343.7 L158.2,343.7 L157.6,343.9 L157.0,344.1 L156.3,344.6 L155.7,345.1 L155.0,345.8 L154.3,346.6 L153.7,347.5 L153.1,348.4 L152.5,349.4 L152.1,350.3 L151.7,351.3 L151.5,352.2 L151.3,353.1 L151.2,353.9 L151.3,354.6 L151.4,355.2 L151.7,355.6 L152.0,355.9 Z" fill="#fff" stroke="#1e1e1e" stroke-width="2.3" stroke-linejoin="round" stroke-linecap="round"/>
<path d="M208.2,192.9 L207.8,192.6 L207.4,192.1 L207.1,191.5 L206.9,190.8 L206.8,190.0 L206.7,189.1 L206.8,188.1 L206.9,187.1 L207.2,185.9 L207.5,184.8 L207.9,183.6 L208.4,182.4 L209.0,181.2 L209.6,180.0 L210.3,178.8 L211.0,177.7 L211.7,176.6 L212.5,175.7 L213.3,174.7 L214.1,173.9 L215.0,173.2 L215.8,172.7 L216.5,172.2 L217.3,171.9 L218.0,171.7 L218.7,171.6 L219.2,171.7 L219.8,171.9 L229.4,177.2 L229.9,177.5 L230.3,178.0 L230.6,178.6 L230.8,179.3 L230.9,180.1 L230.9,181.0 L230.9,182.0 L230.7,183.0 L230.5,184.2 L230.1,185.3 L229.7,186.5 L229.2,187.7 L228.7,188.9 L228.1,190.1 L227.4,191.3 L226.7,192.4 L225.9,193.5 L225.1,194.4 L224.3,195.3 L223.5,196.2 L222.7,196.9 L221.9,197.4 L221.1,197.9 L220.3,198.2 L219.6,198.4 L219.0,198.5 L218.4,198.4 L217.9,198.2 Z" fill="#fff" stroke="#1e1e1e" stroke-width="1.35" stroke-linejoin="round" stroke-linecap="round"/>
<path d="M217.9,198.2 L218.6,198.5 L219.5,198.4 L220.5,198.2 L221.6,197.6 L222.7,196.9 L223.8,195.8 L225.0,194.6 L226.1,193.3 L227.1,191.7 L228.1,190.1 L228.9,188.4 L229.6,186.8 L230.2,185.1 L230.6,183.5 L230.9,182.0 L230.9,180.6 L230.8,179.4 L230.5,178.4 L230.0,177.7 L229.4,177.2 L228.7,176.9 L227.8,176.9 L226.8,177.2 L225.7,177.8 L224.6,178.5 L223.5,179.6 L222.3,180.8 L221.2,182.1 L220.2,183.7 L219.2,185.3 L218.4,186.9 L217.7,188.6 L217.1,190.3 L216.7,191.9 L216.4,193.4 L216.4,194.8 L216.5,196.0 L216.8,196.9 L217.2,197.7 L217.9,198.2 Z" fill="#fff" stroke="#1e1e1e" stroke-width="1.35" stroke-linejoin="round" stroke-linecap="round"/>
<path d="M219.0,196.1 L219.6,196.3 L220.3,196.3 L221.1,196.1 L222.0,195.6 L222.9,195.0 L223.8,194.2 L224.7,193.2 L225.6,192.1 L226.4,190.9 L227.2,189.6 L227.9,188.3 L228.4,186.9 L228.9,185.6 L229.2,184.3 L229.4,183.1 L229.5,182.0 L229.4,181.1 L229.1,180.3 L228.8,179.7 L228.3,179.3 L227.7,179.1 L226.9,179.1 L226.2,179.3 L225.3,179.7 L224.4,180.4 L223.5,181.2 L222.6,182.1 L221.7,183.3 L220.9,184.5 L220.1,185.8 L219.4,187.1 L218.9,188.5 L218.4,189.8 L218.1,191.1 L217.9,192.3 L217.8,193.4 L217.9,194.3 L218.2,195.1 L218.5,195.7 L219.0,196.1 Z" fill="none" stroke="#1e1e1e" stroke-width="0.9" stroke-linejoin="round" stroke-linecap="round"/>
<path d="M220.3,193.8 L253.0,211.8 L259.8,199.6 L227.0,181.6 Z" fill="#fff" stroke="#fff" stroke-width="0.01" stroke-linejoin="round" stroke-linecap="round"/>
<path d="M220.3,193.8 L253.0,211.8" fill="none" stroke="#1e1e1e" stroke-width="1.35" stroke-linejoin="round" stroke-linecap="round"/>
<path d="M227.0,181.6 L259.8,199.6" fill="none" stroke="#1e1e1e" stroke-width="1.35" stroke-linejoin="round" stroke-linecap="round"/>
<path d="M231.7,200.1 L232.0,200.3 L232.4,200.3 L232.8,200.3 L233.2,200.1 L233.6,199.9 L234.1,199.7 L234.5,199.3 L235.0,198.9 L235.5,198.5 L236.0,197.9 L236.4,197.4 L236.9,196.7 L237.3,196.1 L237.7,195.4 L238.0,194.7 L238.4,194.0 L238.7,193.3 L238.9,192.6 L239.1,191.9 L239.2,191.3 L239.3,190.7 L239.3,190.1 L239.3,189.6 L239.3,189.1 L239.1,188.7 L239.0,188.3 L238.7,188.1 L238.5,187.9" fill="none" stroke="#1e1e1e" stroke-width="0.9" stroke-linejoin="round" stroke-linecap="round"/>
<path d="M253.0,211.8 L253.5,212.0 L254.0,212.0 L254.6,211.8 L255.2,211.5 L255.8,211.0 L256.5,210.5 L257.2,209.7 L257.8,208.9 L258.4,208.1 L259.0,207.1 L259.5,206.1 L259.9,205.2 L260.2,204.2 L260.5,203.2 L260.6,202.4 L260.6,201.6 L260.6,200.9 L260.4,200.3 L260.1,199.9 L259.8,199.6 L259.3,199.4 L258.8,199.4 L258.2,199.6 L257.6,199.9 L257.0,200.4 L256.3,200.9 L255.6,201.7 L255.0,202.5 L254.4,203.3 L253.8,204.3 L253.3,205.3 L252.9,206.2 L252.6,207.2 L252.3,208.2 L252.2,209.0 L252.2,209.8 L252.2,210.5 L252.4,211.1 L252.7,211.5 L253.0,211.8 Z" fill="#fff" stroke="#1e1e1e" stroke-width="2.3" stroke-linejoin="round" stroke-linecap="round"/>
<path d="M176.4,301.9 L206.6,251.5 L297.8,198.6 L308.8,205.2 L336.5,221.8 Q341.3,224.5 341.3,230.1 L341.4,310.1 L302.5,332.7 L288.1,324.4 L288.1,263.2 L237.6,291 Q229.6,296 229.6,301.9 L229.6,375.4 L190.3,397.3 L176.4,390.2 Z" fill="#fff" stroke="#1e1e1e" stroke-width="1.35" stroke-linejoin="round" stroke-linecap="round"/>
<path d="M206.6,251.5 L214.2,257.0 L308.8,205.2" fill="none" stroke="#1e1e1e" stroke-width="1.35" stroke-linejoin="round" stroke-linecap="round"/>
<path d="M214.2,257 Q219.5,259.5 220.4,262.5" fill="none" stroke="#1e1e1e" stroke-width="1.35" stroke-linejoin="round" stroke-linecap="round"/>
<path d="M220.4,262.5 L308.8,214.2 L341.3,230.8" fill="none" stroke="#1e1e1e" stroke-width="1.35" stroke-linejoin="round" stroke-linecap="round"/>
<path d="M308.8,205.2 L308.8,214.2" fill="none" stroke="#1e1e1e" stroke-width="1.35" stroke-linejoin="round" stroke-linecap="round"/>
<path d="M176.4,301.9 L186.1,307.0" fill="none" stroke="#1e1e1e" stroke-width="1.35" stroke-linejoin="round" stroke-linecap="round"/>
<path d="M186.1,307 Q190.3,310 190.3,316.3 L190.3,397.3" fill="none" stroke="#1e1e1e" stroke-width="1.35" stroke-linejoin="round" stroke-linecap="round"/>
<path d="M186.1,307.0 L214.2,257.0" fill="none" stroke="#1e1e1e" stroke-width="1.35" stroke-linejoin="round" stroke-linecap="round"/>
<path d="M190.3,316.3 L220.4,262.5" fill="none" stroke="#1e1e1e" stroke-width="1.35" stroke-linejoin="round" stroke-linecap="round"/>
<path d="M288.1,263.2 Q294.3,256.5 301.9,263.2 L302.5,332.7" fill="none" stroke="#1e1e1e" stroke-width="1.35" stroke-linejoin="round" stroke-linecap="round"/>
<ellipse cx="201.5" cy="322.9" rx="5.2" ry="8.6" transform="rotate(25 201.5 322.9)" fill="none" stroke="#1e1e1e" stroke-width="1.35"/>
<ellipse cx="201.5" cy="375.4" rx="5.2" ry="8.6" transform="rotate(25 201.5 375.4)" fill="none" stroke="#1e1e1e" stroke-width="1.35"/>
<ellipse cx="329.6" cy="248.7" rx="5.2" ry="8.6" transform="rotate(25 329.6 248.7)" fill="none" stroke="#1e1e1e" stroke-width="1.35"/>
<ellipse cx="329.6" cy="301.8" rx="5.2" ry="8.6" transform="rotate(25 329.6 301.8)" fill="none" stroke="#1e1e1e" stroke-width="1.35"/>
<path d="M278.3,368.8 L302.3,355.0 L372.2,398.6 L392.1,376.5 L392.1,352.2 L412.5,319.1 L412.5,291.4 L437.4,277.4 L608.4,399.5 L608.4,493.1 L452.9,582.9 L448.7,582.9 L278.3,486.2 Z" fill="#fff" stroke="#fff" stroke-width="0.01" stroke-linejoin="round" stroke-linecap="round"/>
<path d="M278.3,486.2 L278.3,368.8 L302.3,355.0 L356.2,385.4 L475.0,478.8" fill="none" stroke="#1e1e1e" stroke-width="1.35" stroke-linejoin="round" stroke-linecap="round"/>
<path d="M278.3,368.8 L334.1,399.2 L448.7,491.8 L475.0,478.8" fill="none" stroke="#1e1e1e" stroke-width="1.35" stroke-linejoin="round" stroke-linecap="round"/>
<path d="M448.7,491.8 L448.7,582.9 L278.3,486.2" fill="none" stroke="#1e1e1e" stroke-width="1.35" stroke-linejoin="round" stroke-linecap="round"/>
<path d="M452.9,490.4 L452.9,582.9 L608.4,493.1 L608.4,399.5" fill="none" stroke="#1e1e1e" stroke-width="1.35" stroke-linejoin="round" stroke-linecap="round"/>
<path d="M475.0,478.8 L475.0,520.8 L585.5,458.0" fill="none" stroke="#1e1e1e" stroke-width="1.35" stroke-linejoin="round" stroke-linecap="round"/>
<path d="M412.5,316.3 L412.5,291.4 L437.4,277.4 L491.3,308.0 L608.4,399.5" fill="none" stroke="#1e1e1e" stroke-width="1.35" stroke-linejoin="round" stroke-linecap="round"/>
<path d="M412.5,291.4 L466.7,321.6 L585.5,415.2 L608.4,399.5" fill="none" stroke="#1e1e1e" stroke-width="1.35" stroke-linejoin="round" stroke-linecap="round"/>
<path d="M585.5,415.2 L585.5,458.0" fill="none" stroke="#1e1e1e" stroke-width="1.35" stroke-linejoin="round" stroke-linecap="round"/>
<path d="M334.1,399.2 L356.2,385.4" fill="none" stroke="#1e1e1e" stroke-width="1.35" stroke-linejoin="round" stroke-linecap="round"/>
<path d="M466.7,321.6 L491.3,308.0" fill="none" stroke="#1e1e1e" stroke-width="1.35" stroke-linejoin="round" stroke-linecap="round"/>
<path d="M487.4,382.1 L585.5,458.0" fill="none" stroke="#1e1e1e" stroke-width="1.35" stroke-linejoin="round" stroke-linecap="round"/>
<path d="M489.3,381.0 L585.5,456.1" fill="none" stroke="#1e1e1e" stroke-width="0.9" stroke-linejoin="round" stroke-linecap="round"/>
<path d="M392.2310327678621,352.22688843454716 L392.2310327678621,376.5403105487097 Q387.9485550091175,390.9073327070785 372.33823285627454,398.6434215615848" fill="none" stroke="#1e1e1e" stroke-width="1.35" stroke-linejoin="round" stroke-linecap="round"/>
<path d="M392.6,376.0 L446.0,408.3" fill="none" stroke="#1e1e1e" stroke-width="1.35" stroke-linejoin="round" stroke-linecap="round"/>
<path d="M382.4,393.9 L427.7,419.4" fill="none" stroke="#1e1e1e" stroke-width="1.35" stroke-linejoin="round" stroke-linecap="round"/>
<path d="M412.8,427.9 L469.2,395.3" fill="none" stroke="#1e1e1e" stroke-width="1.35" stroke-linejoin="round" stroke-linecap="round"/>
<path d="M452.9,381.5 L469.2,395.3" fill="none" stroke="#1e1e1e" stroke-width="1.35" stroke-linejoin="round" stroke-linecap="round"/>
<ellipse cx="329.4" cy="385.4" rx="12.4" ry="7.7" transform="rotate(0 329.4 385.4)" fill="none" stroke="#1e1e1e" stroke-width="1.35"/>
<ellipse cx="352.0" cy="400.6" rx="9.7" ry="6.9" transform="rotate(0 352.0 400.6)" fill="none" stroke="#1e1e1e" stroke-width="1.35"/>
<ellipse cx="372.8" cy="417.2" rx="6.9" ry="4.7" transform="rotate(0 372.8 417.2)" fill="none" stroke="#1e1e1e" stroke-width="1.35"/>
<ellipse cx="425.2" cy="457.8" rx="6.9" ry="4.7" transform="rotate(0 425.2 457.8)" fill="none" stroke="#1e1e1e" stroke-width="1.35"/>
<ellipse cx="448.2" cy="475.7" rx="12.4" ry="8.3" transform="rotate(0 448.2 475.7)" fill="none" stroke="#1e1e1e" stroke-width="1.35"/>
<ellipse cx="466.1" cy="306.4" rx="12.4" ry="7.7" transform="rotate(0 466.1 306.4)" fill="none" stroke="#1e1e1e" stroke-width="1.35"/>
<ellipse cx="489.3" cy="321.6" rx="9.1" ry="6.6" transform="rotate(0 489.3 321.6)" fill="none" stroke="#1e1e1e" stroke-width="1.35"/>
<ellipse cx="510.1" cy="337.9" rx="6.9" ry="4.7" transform="rotate(0 510.1 337.9)" fill="none" stroke="#1e1e1e" stroke-width="1.35"/>
<ellipse cx="562.0" cy="378.5" rx="6.9" ry="4.7" transform="rotate(0 562.0 378.5)" fill="none" stroke="#1e1e1e" stroke-width="1.35"/>
<ellipse cx="585.5" cy="396.4" rx="12.4" ry="8.3" transform="rotate(0 585.5 396.4)" fill="none" stroke="#1e1e1e" stroke-width="1.35"/>
<path d="M375.5,312.2 L372.8,295.6 L378.3,288.7 L386.6,287.3 L387.9,312.2 Z" fill="#fff" stroke="#1e1e1e" stroke-width="1.35" stroke-linejoin="round" stroke-linecap="round"/>
<path d="M378.3,288.7 L381.0,310.8" fill="none" stroke="#1e1e1e" stroke-width="1.35" stroke-linejoin="round" stroke-linecap="round"/>
<path d="M366.4,329.6 L368.6,315.5 L380.5,310.0 L490.5,370.7 L490.5,381.0 L481.3,385.9 L456.7,379.9 L446.0,384.3 L438.0,385.9 Z" fill="#fff" stroke="#1e1e1e" stroke-width="1.35" stroke-linejoin="round" stroke-linecap="round"/>
<path d="M368.6,315.5 L368.6,321.8 L438.5,374.3 L455.6,368.8 L480.5,375.7 L490.5,370.7" fill="none" stroke="#1e1e1e" stroke-width="1.35" stroke-linejoin="round" stroke-linecap="round"/>
<path d="M438.5,374.3 L438.0,385.9" fill="none" stroke="#1e1e1e" stroke-width="1.35" stroke-linejoin="round" stroke-linecap="round"/>
<path d="M455.6,368.8 L456.7,379.9" fill="none" stroke="#1e1e1e" stroke-width="1.35" stroke-linejoin="round" stroke-linecap="round"/>
<path d="M480.5,375.7 L481.3,385.9" fill="none" stroke="#1e1e1e" stroke-width="1.35" stroke-linejoin="round" stroke-linecap="round"/>
<path d="M366.4,329.6 L368.6,321.8" fill="none" stroke="#1e1e1e" stroke-width="1.35" stroke-linejoin="round" stroke-linecap="round"/>
<path d="M402.6,332.9 L402.7,332.1 L402.9,331.3 L403.3,330.6 L403.8,329.9 L404.4,329.2 L405.2,328.6 L406.1,328.1 L407.0,327.6 L408.1,327.3 L409.1,327.0 L410.3,326.9 L411.4,326.8 L412.6,326.9 L413.7,327.0 L414.8,327.3 L415.9,327.6 L416.8,328.1 L417.7,328.6 L432.9,339.6 L433.6,340.2 L434.3,340.9 L434.8,341.6 L435.2,342.4 L435.4,343.1 L435.5,343.9 L435.4,344.7 L435.2,345.5 L434.8,346.3 L434.3,347.0 L433.6,347.6 L432.9,348.2 L432.0,348.8 L431.1,349.2 L430.0,349.6 L428.9,349.8 L427.8,350.0 L426.6,350.0 L425.5,350.0 L424.3,349.8 L423.2,349.6 L422.2,349.2 L421.2,348.8 L420.4,348.2 L405.2,337.2 L404.4,336.6 L403.8,335.9 L403.3,335.2 L402.9,334.5 L402.7,333.7 Z" fill="#fff" stroke="#1e1e1e" stroke-width="1.35" stroke-linejoin="round" stroke-linecap="round"/>
<path d="M403.9,335.6 L424.0,349.7" fill="none" stroke="#1e1e1e" stroke-width="1.0" stroke-linejoin="round" stroke-linecap="round"/>
<path d="M420.4,335.1 L419.5,342.7" fill="none" stroke="#1e1e1e" stroke-width="0.9" stroke-linejoin="round" stroke-linecap="round"/>
<path d="M385.3,296.3 L380.9,322.8 L380.9,322.8 L380.8,323.3 L380.9,323.8 L381.0,324.4 L381.3,324.9 L381.6,325.4 L382.1,325.9 L382.6,326.4 L383.1,326.8 L383.8,327.2 L384.5,327.6 L385.3,327.9 L386.1,328.2 L386.9,328.5 L387.7,328.6 L388.6,328.7 L389.5,328.8 L390.3,328.8 L391.1,328.7 L391.9,328.6 L392.7,328.4 L393.4,328.2 L394.0,327.9 L394.6,327.6 L395.0,327.2 L395.5,326.8 L395.8,326.3 L396.0,325.8 L396.1,325.3 L396.1,325.3 L400.5,298.9" fill="#fff" stroke="#fff" stroke-width="0.01" stroke-linejoin="round" stroke-linecap="round"/>
<path d="M385.3,296.3 L380.9,322.8 L396.1,325.3 L400.5,298.9 Z" fill="#fff" stroke="#fff" stroke-width="0.01" stroke-linejoin="round" stroke-linecap="round"/>
<path d="M385.3,296.3 L380.9,322.8" fill="none" stroke="#1e1e1e" stroke-width="1.35" stroke-linejoin="round" stroke-linecap="round"/>
<path d="M400.5,298.9 L396.1,325.3" fill="none" stroke="#1e1e1e" stroke-width="1.35" stroke-linejoin="round" stroke-linecap="round"/>
<path d="M380.9,322.8 L380.8,323.3 L380.9,323.8 L381.0,324.4 L381.3,324.9 L381.6,325.4 L382.1,325.9 L382.6,326.4 L383.1,326.8 L383.8,327.2 L384.5,327.6 L385.3,327.9 L386.1,328.2 L386.9,328.5 L387.7,328.6 L388.6,328.7 L389.5,328.8 L390.3,328.8 L391.1,328.7 L391.9,328.6 L392.7,328.4 L393.4,328.2 L394.0,327.9 L394.6,327.6 L395.0,327.2 L395.5,326.8 L395.8,326.3 L396.0,325.8 L396.1,325.3" fill="none" stroke="#1e1e1e" stroke-width="2.0" stroke-linejoin="round" stroke-linecap="round"/>
<path d="M384.0,280.7 L384.2,279.9 L384.5,279.2 L385.0,278.5 L385.6,277.9 L386.3,277.3 L387.2,276.8 L388.1,276.4 L389.2,276.0 L390.3,275.8 L391.5,275.6 L392.7,275.5 L394.0,275.5 L395.3,275.6 L396.6,275.7 L397.8,276.0 L399.1,276.3 L400.3,276.7 L401.4,277.2 L402.5,277.8 L403.4,278.4 L404.3,279.1 L405.1,279.8 L405.7,280.6 L406.2,281.3 L406.6,282.1 L406.8,282.9 L406.9,283.7 L406.9,284.5 L404.4,299.5 L404.2,300.3 L403.8,301.0 L403.3,301.7 L402.7,302.3 L402.0,302.9 L401.1,303.4 L400.2,303.8 L399.2,304.2 L398.0,304.4 L396.8,304.6 L395.6,304.7 L394.3,304.7 L393.1,304.6 L391.8,304.5 L390.5,304.2 L389.2,303.9 L388.0,303.4 L386.9,303.0 L385.9,302.4 L384.9,301.8 L384.0,301.1 L383.2,300.4 L382.6,299.6 L382.1,298.9 L381.7,298.1 L381.5,297.3 L381.4,296.5 L381.5,295.7 Z" fill="#fff" stroke="#1e1e1e" stroke-width="1.35" stroke-linejoin="round" stroke-linecap="round"/>
<path d="M384.0,280.7 L383.9,281.8 L384.2,282.9 L384.7,284.0 L385.5,285.1 L386.5,286.1 L387.8,287.0 L389.2,287.9 L390.8,288.5 L392.5,289.1 L394.3,289.5 L396.1,289.7 L397.9,289.7 L399.6,289.6 L401.2,289.3 L402.7,288.8 L404.0,288.2 L405.1,287.4 L405.9,286.5 L406.5,285.6 L406.9,284.5 L406.9,283.4 L406.6,282.3 L406.1,281.2 L405.3,280.1 L404.3,279.1 L403.1,278.2 L401.6,277.3 L400.0,276.7 L398.3,276.1 L396.6,275.7 L394.7,275.5 L393.0,275.5 L391.2,275.6 L389.6,275.9 L388.1,276.4 L386.8,277.0 L385.7,277.8 L384.9,278.7 L384.3,279.6 L384.0,280.7 Z" fill="none" stroke="#1e1e1e" stroke-width="1.6" stroke-linejoin="round" stroke-linecap="round"/>
<path d="M386.0,281.0 L386.0,281.7 L386.0,282.3 L386.2,283.0 L386.5,283.6 L387.0,284.3 L387.5,284.9 L388.1,285.5 L388.8,286.0 L389.6,286.5 L390.5,287.0 L391.4,287.4 L392.4,287.7 L393.4,288.0 L394.5,288.2 L395.5,288.4 L396.6,288.4 L397.6,288.4 L398.6,288.4 L399.6,288.2 L400.5,288.0 L401.4,287.7 L402.2,287.3 L402.9,286.9 L403.5,286.5 L404.0,285.9 L404.4,285.4 L404.6,284.8 L404.8,284.2" fill="none" stroke="#1e1e1e" stroke-width="1.0" stroke-linejoin="round" stroke-linecap="round"/>
<path d="M437.6,335.3 L433.6,363.6 L433.6,363.6 L433.6,364.1 L433.7,364.6 L433.8,365.2 L434.1,365.7 L434.4,366.2 L434.9,366.7 L435.4,367.2 L436.0,367.6 L436.7,368.0 L437.4,368.3 L438.1,368.6 L438.9,368.9 L439.8,369.1 L440.6,369.3 L441.5,369.3 L442.3,369.4 L443.2,369.4 L444.0,369.3 L444.8,369.1 L445.5,368.9 L446.2,368.7 L446.9,368.4 L447.4,368.0 L447.9,367.6 L448.3,367.2 L448.6,366.7 L448.8,366.2 L448.9,365.7 L448.9,365.7 L452.9,337.4" fill="#fff" stroke="#fff" stroke-width="0.01" stroke-linejoin="round" stroke-linecap="round"/>
<path d="M437.6,335.3 L433.6,363.6 L448.9,365.7 L452.9,337.4 Z" fill="#fff" stroke="#fff" stroke-width="0.01" stroke-linejoin="round" stroke-linecap="round"/>
<path d="M437.6,335.3 L433.6,363.6" fill="none" stroke="#1e1e1e" stroke-width="1.35" stroke-linejoin="round" stroke-linecap="round"/>
<path d="M452.9,337.4 L448.9,365.7" fill="none" stroke="#1e1e1e" stroke-width="1.35" stroke-linejoin="round" stroke-linecap="round"/>
<path d="M433.6,363.6 L433.6,364.1 L433.7,364.6 L433.8,365.2 L434.1,365.7 L434.4,366.2 L434.9,366.7 L435.4,367.2 L436.0,367.6 L436.7,368.0 L437.4,368.3 L438.1,368.6 L438.9,368.9 L439.8,369.1 L440.6,369.3 L441.5,369.3 L442.3,369.4 L443.2,369.4 L444.0,369.3 L444.8,369.1 L445.5,368.9 L446.2,368.7 L446.9,368.4 L447.4,368.0 L447.9,367.6 L448.3,367.2 L448.6,366.7 L448.8,366.2 L448.9,365.7" fill="none" stroke="#1e1e1e" stroke-width="2.0" stroke-linejoin="round" stroke-linecap="round"/>
<path d="M435.9,319.7 L436.0,318.9 L436.4,318.2 L436.8,317.5 L437.4,316.8 L438.1,316.3 L439.0,315.7 L439.9,315.3 L440.9,314.9 L442.1,314.6 L443.2,314.4 L444.5,314.2 L445.7,314.2 L447.0,314.3 L448.3,314.4 L449.6,314.6 L450.8,314.9 L452.1,315.3 L453.2,315.8 L454.3,316.3 L455.3,316.9 L456.2,317.5 L456.9,318.2 L457.6,319.0 L458.1,319.7 L458.5,320.5 L458.8,321.3 L458.9,322.1 L458.8,322.9 L456.7,337.9 L456.6,338.7 L456.2,339.4 L455.8,340.1 L455.2,340.8 L454.5,341.4 L453.6,341.9 L452.7,342.3 L451.7,342.7 L450.5,343.0 L449.4,343.2 L448.1,343.4 L446.9,343.4 L445.6,343.4 L444.3,343.2 L443.0,343.0 L441.7,342.7 L440.5,342.3 L439.4,341.8 L438.3,341.3 L437.3,340.7 L436.4,340.1 L435.7,339.4 L435.0,338.6 L434.5,337.9 L434.1,337.1 L433.8,336.3 L433.7,335.5 L433.8,334.7 Z" fill="#fff" stroke="#1e1e1e" stroke-width="1.35" stroke-linejoin="round" stroke-linecap="round"/>
<path d="M435.9,319.7 L435.8,320.8 L436.1,321.9 L436.7,323.0 L437.5,324.0 L438.5,325.0 L439.8,325.9 L441.3,326.7 L442.9,327.3 L444.6,327.8 L446.4,328.2 L448.2,328.3 L450.0,328.3 L451.7,328.2 L453.3,327.8 L454.8,327.3 L456.1,326.6 L457.2,325.8 L458.0,324.9 L458.5,324.0 L458.8,322.9 L458.9,321.8 L458.6,320.7 L458.0,319.6 L457.2,318.5 L456.2,317.5 L454.9,316.7 L453.4,315.9 L451.8,315.2 L450.1,314.7 L448.3,314.4 L446.5,314.2 L444.7,314.2 L443.0,314.4 L441.4,314.8 L439.9,315.3 L438.6,315.9 L437.5,316.7 L436.7,317.6 L436.2,318.6 L435.9,319.7 Z" fill="none" stroke="#1e1e1e" stroke-width="1.6" stroke-linejoin="round" stroke-linecap="round"/>
<path d="M437.9,320.0 L437.9,320.6 L438.0,321.3 L438.2,321.9 L438.5,322.5 L439.0,323.2 L439.5,323.8 L440.1,324.3 L440.9,324.9 L441.7,325.4 L442.5,325.8 L443.5,326.2 L444.5,326.5 L445.5,326.8 L446.6,326.9 L447.6,327.0 L448.7,327.1 L449.7,327.1 L450.7,326.9 L451.7,326.8 L452.6,326.5 L453.5,326.2 L454.2,325.8 L454.9,325.4 L455.5,324.9 L456.0,324.4 L456.4,323.8 L456.6,323.2 L456.8,322.6" fill="none" stroke="#1e1e1e" stroke-width="1.0" stroke-linejoin="round" stroke-linecap="round"/>
<path d="M486.0,227.4 L475.7,232.8 L474.1,243.0 L582.1,326.8 L592.3,321.5 L592.9,311.8 L588.6,298.9 L588.0,293.5 L597.2,288.1 L598.8,282.2 L537.0,235.5 L519.3,229.1 L512.3,233.4 Z" fill="#fff" stroke="#1e1e1e" stroke-width="1.35" stroke-linejoin="round" stroke-linecap="round"/>
<path d="M475.7,232.8 L583.2,315.5 L592.9,311.8" fill="none" stroke="#1e1e1e" stroke-width="1.35" stroke-linejoin="round" stroke-linecap="round"/>
<path d="M477.9,235.5 L584.3,317.7" fill="none" stroke="#1e1e1e" stroke-width="0.8" stroke-linejoin="round" stroke-linecap="round"/>
<path d="M583.2,315.5 L582.1,326.8" fill="none" stroke="#1e1e1e" stroke-width="1.35" stroke-linejoin="round" stroke-linecap="round"/>
<path d="M588.0,293.5 L590.2,299.4 L592.9,311.8" fill="none" stroke="#1e1e1e" stroke-width="1.35" stroke-linejoin="round" stroke-linecap="round"/>
<path d="M531.1,259.1 L531.2,258.3 L531.4,257.5 L531.8,256.8 L532.3,256.0 L533.0,255.3 L533.8,254.7 L534.6,254.2 L535.6,253.7 L536.7,253.4 L537.9,253.1 L539.0,253.0 L540.2,252.9 L541.4,253.0 L542.6,253.1 L543.7,253.4 L544.8,253.7 L545.8,254.2 L546.7,254.7 L562.8,265.5 L563.6,266.1 L564.2,266.8 L564.8,267.5 L565.1,268.3 L565.4,269.1 L565.5,269.9 L565.4,270.7 L565.1,271.5 L564.8,272.3 L564.2,273.0 L563.6,273.7 L562.8,274.3 L561.9,274.8 L560.9,275.3 L559.8,275.6 L558.7,275.9 L557.5,276.1 L556.3,276.1 L555.1,276.1 L554.0,275.9 L552.8,275.6 L551.8,275.3 L550.8,274.8 L549.9,274.3 L533.8,263.5 L533.0,262.9 L532.3,262.2 L531.8,261.5 L531.4,260.8 L531.2,259.9 Z" fill="#fff" stroke="#1e1e1e" stroke-width="1.35" stroke-linejoin="round" stroke-linecap="round"/>
<path d="M532.4,261.9 L553.6,275.8" fill="none" stroke="#1e1e1e" stroke-width="1.0" stroke-linejoin="round" stroke-linecap="round"/>
<path d="M549.6,261.1 L548.7,268.9" fill="none" stroke="#1e1e1e" stroke-width="0.9" stroke-linejoin="round" stroke-linecap="round"/>
<path d="M522.0,216.8 L518.0,242.8 L518.0,242.8 L517.9,243.4 L518.0,244.0 L518.2,244.6 L518.4,245.2 L518.8,245.7 L519.3,246.3 L519.8,246.8 L520.5,247.3 L521.2,247.8 L521.9,248.2 L522.8,248.5 L523.6,248.8 L524.5,249.1 L525.5,249.2 L526.4,249.3 L527.3,249.4 L528.2,249.4 L529.1,249.3 L530.0,249.1 L530.8,248.9 L531.5,248.6 L532.2,248.3 L532.8,247.9 L533.4,247.5 L533.8,247.0 L534.1,246.5 L534.4,245.9 L534.5,245.4 L534.5,245.4 L538.5,219.4" fill="#fff" stroke="#fff" stroke-width="0.01" stroke-linejoin="round" stroke-linecap="round"/>
<path d="M522.0,216.8 L518.0,242.8 L534.5,245.4 L538.5,219.4 Z" fill="#fff" stroke="#fff" stroke-width="0.01" stroke-linejoin="round" stroke-linecap="round"/>
<path d="M522.0,216.8 L518.0,242.8" fill="none" stroke="#1e1e1e" stroke-width="1.35" stroke-linejoin="round" stroke-linecap="round"/>
<path d="M538.5,219.4 L534.5,245.4" fill="none" stroke="#1e1e1e" stroke-width="1.35" stroke-linejoin="round" stroke-linecap="round"/>
<path d="M518.0,242.8 L517.9,243.4 L518.0,244.0 L518.2,244.6 L518.4,245.2 L518.8,245.7 L519.3,246.3 L519.8,246.8 L520.5,247.3 L521.2,247.8 L521.9,248.2 L522.8,248.5 L523.6,248.8 L524.5,249.1 L525.5,249.2 L526.4,249.3 L527.3,249.4 L528.2,249.4 L529.1,249.3 L530.0,249.1 L530.8,248.9 L531.5,248.6 L532.2,248.3 L532.8,247.9 L533.4,247.5 L533.8,247.0 L534.1,246.5 L534.4,245.9 L534.5,245.4" fill="none" stroke="#1e1e1e" stroke-width="2.0" stroke-linejoin="round" stroke-linecap="round"/>
<path d="M521.2,200.4 L521.4,199.6 L521.8,198.9 L522.2,198.2 L522.8,197.5 L523.6,196.9 L524.4,196.4 L525.4,195.9 L526.4,195.5 L527.5,195.2 L528.7,195.0 L529.9,194.9 L531.2,194.9 L532.5,194.9 L533.8,195.1 L535.1,195.3 L536.3,195.7 L537.5,196.1 L538.7,196.6 L539.7,197.1 L540.7,197.7 L541.6,198.4 L542.3,199.1 L543.0,199.9 L543.5,200.7 L543.9,201.5 L544.1,202.3 L544.2,203.1 L544.2,204.0 L541.7,219.9 L541.5,220.7 L541.2,221.4 L540.7,222.1 L540.1,222.8 L539.4,223.4 L538.5,223.9 L537.6,224.4 L536.5,224.8 L535.4,225.1 L534.2,225.3 L533.0,225.4 L531.7,225.4 L530.4,225.4 L529.1,225.2 L527.9,225.0 L526.6,224.7 L525.4,224.2 L524.3,223.8 L523.2,223.2 L522.2,222.6 L521.4,221.9 L520.6,221.2 L519.9,220.4 L519.4,219.6 L519.1,218.8 L518.8,218.0 L518.7,217.2 L518.8,216.4 Z" fill="#fff" stroke="#1e1e1e" stroke-width="1.35" stroke-linejoin="round" stroke-linecap="round"/>
<path d="M521.2,200.4 L521.2,201.6 L521.4,202.7 L522.0,203.8 L522.8,204.9 L523.8,206.0 L525.1,206.9 L526.5,207.7 L528.1,208.4 L529.8,208.9 L531.6,209.3 L533.4,209.5 L535.2,209.5 L536.9,209.3 L538.5,209.0 L540.0,208.5 L541.3,207.8 L542.4,207.0 L543.3,206.1 L543.8,205.0 L544.2,204.0 L544.2,202.8 L543.9,201.7 L543.4,200.5 L542.6,199.4 L541.6,198.4 L540.3,197.5 L538.9,196.7 L537.3,196.0 L535.6,195.4 L533.8,195.1 L532.0,194.9 L530.2,194.9 L528.5,195.1 L526.8,195.4 L525.4,195.9 L524.1,196.6 L523.0,197.4 L522.1,198.3 L521.5,199.3 L521.2,200.4 Z" fill="none" stroke="#1e1e1e" stroke-width="1.6" stroke-linejoin="round" stroke-linecap="round"/>
<path d="M523.3,200.7 L523.2,201.4 L523.3,202.1 L523.5,202.8 L523.8,203.4 L524.3,204.1 L524.8,204.7 L525.4,205.3 L526.1,205.8 L526.9,206.4 L527.8,206.8 L528.7,207.2 L529.7,207.6 L530.7,207.8 L531.8,208.0 L532.9,208.1 L533.9,208.2 L535.0,208.2 L536.0,208.1 L536.9,207.9 L537.9,207.7 L538.7,207.3 L539.5,207.0 L540.2,206.5 L540.8,206.0 L541.3,205.5 L541.7,204.9 L541.9,204.3 L542.1,203.6" fill="none" stroke="#1e1e1e" stroke-width="1.0" stroke-linejoin="round" stroke-linecap="round"/>
<path d="M574.2,258.3 L570.6,283.7 L570.6,283.7 L570.6,284.3 L570.6,284.9 L570.8,285.5 L571.1,286.1 L571.5,286.7 L571.9,287.2 L572.5,287.7 L573.1,288.2 L573.9,288.6 L574.6,289.0 L575.5,289.4 L576.3,289.7 L577.2,289.9 L578.2,290.1 L579.1,290.2 L580.0,290.2 L580.9,290.2 L581.8,290.1 L582.7,289.9 L583.5,289.7 L584.2,289.4 L584.9,289.1 L585.5,288.7 L586.0,288.2 L586.5,287.7 L586.8,287.2 L587.1,286.7 L587.2,286.1 L587.2,286.1 L590.8,260.7" fill="#fff" stroke="#fff" stroke-width="0.01" stroke-linejoin="round" stroke-linecap="round"/>
<path d="M574.2,258.3 L570.6,283.7 L587.2,286.1 L590.8,260.7 Z" fill="#fff" stroke="#fff" stroke-width="0.01" stroke-linejoin="round" stroke-linecap="round"/>
<path d="M574.2,258.3 L570.6,283.7" fill="none" stroke="#1e1e1e" stroke-width="1.35" stroke-linejoin="round" stroke-linecap="round"/>
<path d="M590.8,260.7 L587.2,286.1" fill="none" stroke="#1e1e1e" stroke-width="1.35" stroke-linejoin="round" stroke-linecap="round"/>
<path d="M570.6,283.7 L570.6,284.3 L570.6,284.9 L570.8,285.5 L571.1,286.1 L571.5,286.7 L571.9,287.2 L572.5,287.7 L573.1,288.2 L573.9,288.6 L574.6,289.0 L575.5,289.4 L576.3,289.7 L577.2,289.9 L578.2,290.1 L579.1,290.2 L580.0,290.2 L580.9,290.2 L581.8,290.1 L582.7,289.9 L583.5,289.7 L584.2,289.4 L584.9,289.1 L585.5,288.7 L586.0,288.2 L586.5,287.7 L586.8,287.2 L587.1,286.7 L587.2,286.1" fill="none" stroke="#1e1e1e" stroke-width="2.0" stroke-linejoin="round" stroke-linecap="round"/>
<path d="M573.3,241.9 L573.5,241.1 L573.8,240.4 L574.3,239.7 L574.9,239.0 L575.6,238.4 L576.5,237.8 L577.4,237.4 L578.4,237.0 L579.6,236.7 L580.7,236.4 L582.0,236.3 L583.2,236.2 L584.5,236.3 L585.8,236.4 L587.1,236.7 L588.4,237.0 L589.6,237.4 L590.7,237.9 L591.8,238.4 L592.8,239.0 L593.6,239.7 L594.4,240.4 L595.1,241.2 L595.6,241.9 L596.0,242.8 L596.2,243.6 L596.3,244.4 L596.3,245.2 L594.0,261.2 L593.8,261.9 L593.5,262.7 L593.0,263.4 L592.4,264.1 L591.7,264.7 L590.9,265.2 L589.9,265.7 L588.9,266.1 L587.8,266.4 L586.6,266.6 L585.4,266.8 L584.1,266.8 L582.8,266.8 L581.5,266.6 L580.2,266.4 L579.0,266.1 L577.8,265.7 L576.6,265.2 L575.5,264.7 L574.6,264.1 L573.7,263.4 L572.9,262.7 L572.3,261.9 L571.7,261.1 L571.3,260.3 L571.1,259.5 L571.0,258.7 L571.0,257.9 Z" fill="#fff" stroke="#1e1e1e" stroke-width="1.35" stroke-linejoin="round" stroke-linecap="round"/>
<path d="M573.3,241.9 L573.3,243.1 L573.6,244.2 L574.1,245.3 L574.9,246.4 L576.0,247.4 L577.2,248.4 L578.7,249.2 L580.3,249.8 L582.0,250.3 L583.8,250.7 L585.6,250.8 L587.4,250.8 L589.1,250.6 L590.7,250.3 L592.2,249.8 L593.5,249.1 L594.6,248.3 L595.4,247.3 L596.0,246.3 L596.3,245.2 L596.3,244.1 L596.0,242.9 L595.5,241.8 L594.7,240.7 L593.6,239.7 L592.4,238.8 L590.9,238.0 L589.3,237.3 L587.6,236.8 L585.8,236.4 L584.0,236.3 L582.2,236.3 L580.5,236.5 L578.9,236.8 L577.4,237.4 L576.1,238.0 L575.0,238.9 L574.2,239.8 L573.6,240.8 L573.3,241.9 Z" fill="none" stroke="#1e1e1e" stroke-width="1.6" stroke-linejoin="round" stroke-linecap="round"/>
<path d="M575.4,242.2 L575.3,242.9 L575.4,243.5 L575.6,244.2 L576.0,244.9 L576.4,245.5 L576.9,246.1 L577.6,246.7 L578.3,247.3 L579.1,247.8 L580.0,248.2 L580.9,248.6 L581.9,249.0 L582.9,249.2 L584.0,249.4 L585.0,249.5 L586.1,249.6 L587.1,249.5 L588.1,249.4 L589.1,249.2 L590.0,249.0 L590.9,248.6 L591.6,248.3 L592.3,247.8 L592.9,247.3 L593.4,246.8 L593.8,246.2 L594.1,245.5 L594.2,244.9" fill="none" stroke="#1e1e1e" stroke-width="1.0" stroke-linejoin="round" stroke-linecap="round"/>
<path d="M202.5,533.2 L202.3,532.9 L202.1,532.4 L202.1,531.7 L202.2,531.0 L202.4,530.1 L202.8,529.1 L203.3,528.0 L203.8,526.8 L204.5,525.5 L205.3,524.2 L206.2,522.9 L207.1,521.5 L208.1,520.1 L209.2,518.7 L210.3,517.4 L211.4,516.0 L212.5,514.8 L213.6,513.6 L214.7,512.6 L215.8,511.6 L216.8,510.8 L217.8,510.0 L218.7,509.5 L219.5,509.0 L220.2,508.7 L220.8,508.6 L221.3,508.6 L221.7,508.8 L321.4,585.8 L321.7,586.2 L321.8,586.7 L321.9,587.4 L321.7,588.3 L321.5,589.3 L321.1,590.4 L320.5,591.6 L319.9,593.0 L319.1,594.4 L318.3,595.9 L317.3,597.4 L316.2,598.9 L315.1,600.5 L313.9,602.0 L312.7,603.6 L311.5,605.0 L310.2,606.4 L308.9,607.7 L307.7,608.9 L306.5,610.0 L305.4,610.9 L304.3,611.7 L303.3,612.4 L302.4,612.9 L301.6,613.2 L300.9,613.4 L300.4,613.3 L299.9,613.1 Z" fill="#fff" stroke="#1e1e1e" stroke-width="1.35" stroke-linejoin="round" stroke-linecap="round"/>
<path d="M202.5,533.2 L203.1,533.4 L203.9,533.3 L204.9,532.9 L206.1,532.2 L207.4,531.2 L208.8,530.0 L210.4,528.6 L211.9,527.0 L213.5,525.2 L215.0,523.3 L216.5,521.4 L217.8,519.4 L219.1,517.5 L220.1,515.7 L220.9,514.0 L221.6,512.5 L222.0,511.2 L222.1,510.1 L222.0,509.3 L221.7,508.8 L221.1,508.6 L220.3,508.7 L219.3,509.1 L218.1,509.8 L216.8,510.8 L215.4,512.0 L213.8,513.4 L212.3,515.0 L210.7,516.8 L209.2,518.7 L207.7,520.6 L206.4,522.6 L205.1,524.5 L204.1,526.3 L203.3,528.0 L202.6,529.5 L202.2,530.8 L202.1,531.9 L202.2,532.7 L202.5,533.2 Z" fill="#fff" stroke="#1e1e1e" stroke-width="1.5" stroke-linejoin="round" stroke-linecap="round"/>
<path d="M204.9,534.7 L205.1,535.1 L205.4,535.5 L206.0,535.6 L206.6,535.5 L207.4,535.2 L208.3,534.7 L209.3,534.1 L210.4,533.2 L211.6,532.2 L212.8,531.1 L214.0,529.8 L215.3,528.4 L216.5,527.0 L217.8,525.5 L219.0,523.9 L220.1,522.3 L221.1,520.8 L222.1,519.3 L222.9,517.8 L223.6,516.4 L224.1,515.2 L224.5,514.0 L224.8,513.1 L224.9,512.2 L224.8,511.6 L224.6,511.1 L224.2,510.8 L223.7,510.8" fill="none" stroke="#1e1e1e" stroke-width="1.3" stroke-linejoin="round" stroke-linecap="round"/>
<path d="M286.6,602.6 L287.0,602.8 L287.6,602.9 L288.2,602.7 L289.0,602.4 L289.9,601.9 L290.9,601.2 L292.0,600.4 L293.2,599.5 L294.3,598.4 L295.6,597.2 L296.8,595.9 L298.1,594.5 L299.3,593.1 L300.6,591.5 L301.7,590.0 L302.9,588.4 L303.9,586.9 L304.9,585.4 L305.8,583.9 L306.5,582.5 L307.2,581.1 L307.7,579.9 L308.1,578.8 L308.4,577.8 L308.5,576.9 L308.5,576.2 L308.3,575.7 L308.0,575.3" fill="none" stroke="#1e1e1e" stroke-width="1.5" stroke-linejoin="round" stroke-linecap="round"/>
<path d="M290.5,605.7 L290.9,605.9 L291.5,605.9 L292.2,605.8 L293.0,605.5 L293.9,605.0 L294.9,604.3 L295.9,603.5 L297.1,602.6 L298.3,601.5 L299.5,600.3 L300.8,599.0 L302.0,597.6 L303.3,596.1 L304.5,594.6 L305.7,593.1 L306.8,591.5 L307.8,590.0 L308.8,588.5 L309.7,587.0 L310.5,585.6 L311.1,584.2 L311.6,583.0 L312.0,581.9 L312.3,580.9 L312.4,580.0 L312.4,579.3 L312.2,578.8 L311.9,578.4" fill="none" stroke="#1e1e1e" stroke-width="1.5" stroke-linejoin="round" stroke-linecap="round"/>
<path d="M294.4,608.8 L294.9,609.0 L295.4,609.0 L296.1,608.9 L296.9,608.6 L297.8,608.1 L298.8,607.4 L299.9,606.6 L301.0,605.7 L302.2,604.6 L303.4,603.4 L304.7,602.1 L305.9,600.7 L307.2,599.2 L308.4,597.7 L309.6,596.2 L310.7,594.6 L311.8,593.1 L312.7,591.5 L313.6,590.1 L314.4,588.6 L315.0,587.3 L315.6,586.1 L316.0,585.0 L316.2,584.0 L316.3,583.1 L316.3,582.4 L316.2,581.9 L315.9,581.5" fill="none" stroke="#1e1e1e" stroke-width="1.5" stroke-linejoin="round" stroke-linecap="round"/>
<path d="M286.6,602.6 L299.9,613.1" fill="none" stroke="#1e1e1e" stroke-width="1.35" stroke-linejoin="round" stroke-linecap="round"/>
<path d="M308.0,575.3 L321.4,585.8" fill="none" stroke="#1e1e1e" stroke-width="1.35" stroke-linejoin="round" stroke-linecap="round"/>
<path d="M299.9,613.1 L300.8,613.6 L302.0,613.6 L303.3,613.4 L304.9,612.8 L306.5,611.9 L308.3,610.6 L310.2,609.1 L312.0,607.4 L313.8,605.4 L315.6,603.3 L317.2,601.1 L318.6,598.9 L319.9,596.7 L320.9,594.6 L321.7,592.5 L322.2,590.7 L322.4,589.1 L322.4,587.7 L322.0,586.6 L321.4,585.8 L320.5,585.4 L319.3,585.3 L318.0,585.6 L316.4,586.2 L314.8,587.1 L313.0,588.3 L311.1,589.8 L309.3,591.6 L307.5,593.5 L305.7,595.6 L304.1,597.8 L302.7,600.0 L301.4,602.2 L300.4,604.4 L299.6,606.4 L299.1,608.2 L298.9,609.9 L298.9,611.3 L299.3,612.4 L299.9,613.1 Z" fill="#fff" stroke="#1e1e1e" stroke-width="1.6" stroke-linejoin="round" stroke-linecap="round"/>
<path d="M303.1,609.0 L303.8,609.3 L304.6,609.4 L305.5,609.2 L306.6,608.8 L307.8,608.1 L309.0,607.3 L310.3,606.2 L311.6,605.0 L312.9,603.6 L314.1,602.2 L315.2,600.6 L316.2,599.1 L317.1,597.5 L317.8,596.0 L318.4,594.6 L318.7,593.3 L318.9,592.2 L318.8,591.2 L318.6,590.5 L318.2,589.9 L317.5,589.6 L316.7,589.5 L315.8,589.7 L314.7,590.2 L313.5,590.8 L312.3,591.7 L311.0,592.7 L309.7,593.9 L308.4,595.3 L307.2,596.8 L306.1,598.3 L305.1,599.9 L304.2,601.4 L303.4,602.9 L302.9,604.3 L302.5,605.6 L302.4,606.8 L302.4,607.7 L302.7,608.5 L303.1,609.0 Z" fill="none" stroke="#1e1e1e" stroke-width="1.2" stroke-linejoin="round" stroke-linecap="round"/>
<path d="M305.7,605.8 L371.4,656.3 L381.2,643.7 L315.6,593.2 Z" fill="#fff" stroke="#fff" stroke-width="0.01" stroke-linejoin="round" stroke-linecap="round"/>
<path d="M305.7,605.8 L371.4,656.3" fill="none" stroke="#1e1e1e" stroke-width="1.35" stroke-linejoin="round" stroke-linecap="round"/>
<path d="M315.6,593.2 L381.2,643.7" fill="none" stroke="#1e1e1e" stroke-width="1.35" stroke-linejoin="round" stroke-linecap="round"/>
<path d="M371.4,656.3 L371.9,656.6 L372.6,656.7 L373.3,656.7 L374.2,656.5 L375.0,656.2 L375.9,655.7 L376.9,655.1 L377.8,654.3 L378.6,653.4 L379.4,652.5 L380.2,651.5 L380.8,650.4 L381.3,649.3 L381.7,648.3 L382.0,647.3 L382.1,646.4 L382.1,645.5 L382.0,644.8 L381.7,644.2 L381.2,643.7 L380.7,643.4 L380.0,643.3 L379.3,643.3 L378.4,643.5 L377.6,643.8 L376.7,644.3 L375.7,644.9 L374.8,645.7 L374.0,646.6 L373.2,647.5 L372.4,648.5 L371.8,649.6 L371.3,650.7 L370.9,651.7 L370.6,652.7 L370.5,653.6 L370.5,654.5 L370.6,655.2 L370.9,655.8 L371.4,656.3 Z" fill="#fff" stroke="#1e1e1e" stroke-width="1.6" stroke-linejoin="round" stroke-linecap="round"/>
<path d="M373.3,653.8 L373.7,654.0 L374.1,654.0 L374.5,654.0 L375.0,653.9 L375.5,653.7 L376.1,653.4 L376.6,653.0 L377.2,652.6 L377.7,652.1 L378.2,651.5 L378.6,650.9 L379.0,650.2 L379.3,649.6 L379.6,649.0 L379.7,648.4 L379.8,647.8 L379.8,647.3 L379.7,646.9 L379.5,646.5 L379.3,646.2 L378.9,646.0 L378.5,646.0 L378.1,646.0 L377.6,646.1 L377.1,646.3 L376.5,646.6 L376.0,647.0 L375.4,647.4 L374.9,647.9 L374.4,648.5 L374.0,649.1 L373.6,649.8 L373.3,650.4 L373.0,651.0 L372.9,651.6 L372.8,652.2 L372.8,652.7 L372.9,653.1 L373.1,653.5 L373.3,653.8 Z" fill="none" stroke="#1e1e1e" stroke-width="0.9" stroke-linejoin="round" stroke-linecap="round"/>
<path d="M165.2,554.0 L165.0,553.7 L164.8,553.2 L164.8,552.6 L164.9,551.8 L165.2,550.9 L165.5,549.9 L166.0,548.8 L166.6,547.6 L167.2,546.4 L168.0,545.0 L168.9,543.7 L169.8,542.3 L170.8,540.9 L171.9,539.5 L173.0,538.2 L174.1,536.8 L175.2,535.6 L176.3,534.4 L177.4,533.4 L178.5,532.4 L179.5,531.5 L180.4,530.8 L181.3,530.2 L182.1,529.8 L182.8,529.5 L183.5,529.4 L184.0,529.4 L184.4,529.6 L284.3,606.8 L284.6,607.2 L284.8,607.7 L284.8,608.4 L284.7,609.3 L284.5,610.3 L284.1,611.4 L283.5,612.6 L282.9,613.9 L282.1,615.4 L281.2,616.8 L280.3,618.4 L279.2,619.9 L278.1,621.5 L276.9,623.0 L275.7,624.5 L274.5,626.0 L273.2,627.4 L272.0,628.7 L270.7,629.9 L269.5,631.0 L268.4,631.9 L267.3,632.8 L266.3,633.4 L265.4,633.9 L264.6,634.2 L263.9,634.4 L263.4,634.3 L263.0,634.1 Z" fill="#fff" stroke="#1e1e1e" stroke-width="1.35" stroke-linejoin="round" stroke-linecap="round"/>
<path d="M165.2,554.0 L165.8,554.2 L166.6,554.1 L167.6,553.7 L168.8,553.0 L170.1,552.1 L171.6,550.8 L173.1,549.4 L174.6,547.8 L176.2,546.0 L177.7,544.1 L179.2,542.2 L180.5,540.2 L181.7,538.3 L182.8,536.5 L183.6,534.8 L184.3,533.3 L184.6,532.0 L184.8,530.9 L184.7,530.1 L184.4,529.6 L183.8,529.4 L183.0,529.5 L182.0,529.9 L180.8,530.6 L179.5,531.5 L178.0,532.8 L176.5,534.2 L175.0,535.8 L173.4,537.6 L171.9,539.5 L170.4,541.4 L169.1,543.4 L167.9,545.3 L166.8,547.1 L166.0,548.8 L165.3,550.3 L165.0,551.6 L164.8,552.7 L164.9,553.5 L165.2,554.0 Z" fill="#fff" stroke="#1e1e1e" stroke-width="1.5" stroke-linejoin="round" stroke-linecap="round"/>
<path d="M167.6,555.5 L167.8,556.0 L168.2,556.3 L168.7,556.4 L169.3,556.3 L170.1,556.0 L171.0,555.5 L172.0,554.9 L173.1,554.0 L174.3,553.0 L175.5,551.9 L176.7,550.6 L178.0,549.2 L179.3,547.8 L180.5,546.2 L181.7,544.7 L182.8,543.1 L183.8,541.6 L184.7,540.0 L185.6,538.6 L186.3,537.2 L186.8,536.0 L187.2,534.8 L187.5,533.8 L187.5,533.0 L187.5,532.4 L187.3,531.9 L186.9,531.6 L186.3,531.5" fill="none" stroke="#1e1e1e" stroke-width="1.3" stroke-linejoin="round" stroke-linecap="round"/>
<path d="M249.6,623.7 L250.0,623.9 L250.6,623.9 L251.2,623.7 L252.0,623.4 L252.9,622.9 L253.9,622.3 L255.0,621.5 L256.2,620.5 L257.3,619.4 L258.6,618.2 L259.8,616.9 L261.1,615.5 L262.3,614.1 L263.5,612.6 L264.7,611.0 L265.8,609.4 L266.9,607.9 L267.9,606.4 L268.7,604.9 L269.5,603.5 L270.1,602.1 L270.7,600.9 L271.1,599.8 L271.3,598.8 L271.4,597.9 L271.4,597.2 L271.3,596.7 L271.0,596.3" fill="none" stroke="#1e1e1e" stroke-width="1.5" stroke-linejoin="round" stroke-linecap="round"/>
<path d="M253.5,626.7 L253.9,626.9 L254.5,627.0 L255.2,626.8 L256.0,626.5 L256.9,626.0 L257.9,625.4 L259.0,624.6 L260.1,623.6 L261.3,622.5 L262.5,621.3 L263.8,620.0 L265.0,618.6 L266.3,617.2 L267.5,615.6 L268.7,614.1 L269.8,612.5 L270.8,611.0 L271.8,609.5 L272.7,608.0 L273.4,606.6 L274.1,605.2 L274.6,604.0 L275.0,602.9 L275.3,601.9 L275.4,601.0 L275.4,600.3 L275.2,599.8 L274.9,599.4" fill="none" stroke="#1e1e1e" stroke-width="1.5" stroke-linejoin="round" stroke-linecap="round"/>
<path d="M257.4,629.8 L257.9,630.0 L258.4,630.1 L259.1,629.9 L259.9,629.6 L260.8,629.1 L261.8,628.4 L262.9,627.6 L264.0,626.7 L265.2,625.6 L266.5,624.4 L267.7,623.1 L269.0,621.7 L270.2,620.2 L271.4,618.7 L272.6,617.2 L273.7,615.6 L274.8,614.1 L275.7,612.5 L276.6,611.1 L277.4,609.6 L278.0,608.3 L278.5,607.1 L278.9,605.9 L279.2,604.9 L279.3,604.1 L279.3,603.4 L279.1,602.9 L278.8,602.5" fill="none" stroke="#1e1e1e" stroke-width="1.5" stroke-linejoin="round" stroke-linecap="round"/>
<path d="M249.6,623.7 L263.0,634.1" fill="none" stroke="#1e1e1e" stroke-width="1.35" stroke-linejoin="round" stroke-linecap="round"/>
<path d="M271.0,596.3 L284.3,606.8" fill="none" stroke="#1e1e1e" stroke-width="1.35" stroke-linejoin="round" stroke-linecap="round"/>
<path d="M263.0,634.1 L263.9,634.6 L265.0,634.7 L266.4,634.4 L267.9,633.8 L269.6,632.9 L271.3,631.6 L273.2,630.1 L275.0,628.4 L276.8,626.4 L278.6,624.3 L280.2,622.1 L281.6,619.9 L282.9,617.7 L283.9,615.5 L284.7,613.5 L285.2,611.7 L285.4,610.0 L285.3,608.7 L285.0,607.6 L284.3,606.8 L283.4,606.4 L282.3,606.3 L280.9,606.5 L279.4,607.1 L277.7,608.1 L276.0,609.3 L274.1,610.8 L272.3,612.6 L270.5,614.5 L268.7,616.6 L267.1,618.8 L265.7,621.0 L264.4,623.2 L263.4,625.4 L262.6,627.4 L262.1,629.3 L261.9,630.9 L262.0,632.3 L262.3,633.4 L263.0,634.1 Z" fill="#fff" stroke="#1e1e1e" stroke-width="1.6" stroke-linejoin="round" stroke-linecap="round"/>
<path d="M266.2,630.0 L266.8,630.3 L267.6,630.4 L268.5,630.2 L269.6,629.8 L270.8,629.1 L272.0,628.3 L273.3,627.2 L274.6,626.0 L275.9,624.6 L277.1,623.2 L278.2,621.6 L279.2,620.1 L280.1,618.5 L280.8,617.0 L281.4,615.6 L281.7,614.3 L281.9,613.2 L281.8,612.2 L281.6,611.4 L281.1,610.9 L280.5,610.6 L279.7,610.5 L278.8,610.7 L277.7,611.1 L276.5,611.8 L275.3,612.7 L274.0,613.7 L272.7,614.9 L271.4,616.3 L270.2,617.8 L269.1,619.3 L268.1,620.9 L267.2,622.4 L266.5,623.9 L265.9,625.3 L265.6,626.6 L265.4,627.8 L265.5,628.7 L265.7,629.5 L266.2,630.0 Z" fill="none" stroke="#1e1e1e" stroke-width="1.2" stroke-linejoin="round" stroke-linecap="round"/>
<path d="M268.7,626.8 L334.6,677.0 L344.4,664.4 L278.6,614.2 Z" fill="#fff" stroke="#fff" stroke-width="0.01" stroke-linejoin="round" stroke-linecap="round"/>
<path d="M268.7,626.8 L334.6,677.0" fill="none" stroke="#1e1e1e" stroke-width="1.35" stroke-linejoin="round" stroke-linecap="round"/>
<path d="M278.6,614.2 L344.4,664.4" fill="none" stroke="#1e1e1e" stroke-width="1.35" stroke-linejoin="round" stroke-linecap="round"/>
<path d="M334.6,677.0 L335.1,677.3 L335.8,677.5 L336.5,677.4 L337.4,677.2 L338.2,676.9 L339.2,676.4 L340.1,675.8 L341.0,675.0 L341.8,674.1 L342.6,673.2 L343.4,672.1 L344.0,671.1 L344.5,670.0 L344.9,669.0 L345.2,668.0 L345.3,667.1 L345.3,666.2 L345.2,665.5 L344.9,664.9 L344.4,664.4 L343.9,664.1 L343.2,663.9 L342.5,664.0 L341.6,664.2 L340.8,664.5 L339.8,665.0 L338.9,665.6 L338.0,666.4 L337.2,667.3 L336.4,668.2 L335.6,669.3 L335.0,670.3 L334.5,671.4 L334.1,672.4 L333.8,673.4 L333.7,674.3 L333.7,675.2 L333.8,675.9 L334.1,676.5 L334.6,677.0 Z" fill="#fff" stroke="#1e1e1e" stroke-width="1.6" stroke-linejoin="round" stroke-linecap="round"/>
<path d="M336.5,674.5 L336.9,674.7 L337.3,674.8 L337.7,674.7 L338.2,674.6 L338.7,674.4 L339.3,674.1 L339.8,673.7 L340.4,673.3 L340.9,672.8 L341.4,672.2 L341.8,671.6 L342.2,670.9 L342.5,670.3 L342.8,669.7 L342.9,669.1 L343.0,668.5 L343.0,668.0 L342.9,667.6 L342.7,667.2 L342.5,666.9 L342.1,666.7 L341.7,666.6 L341.3,666.7 L340.8,666.8 L340.3,667.0 L339.7,667.3 L339.2,667.7 L338.6,668.1 L338.1,668.6 L337.6,669.2 L337.2,669.8 L336.8,670.5 L336.5,671.1 L336.2,671.7 L336.1,672.3 L336.0,672.9 L336.0,673.4 L336.1,673.8 L336.3,674.2 L336.5,674.5 Z" fill="none" stroke="#1e1e1e" stroke-width="0.9" stroke-linejoin="round" stroke-linecap="round"/>
<path d="M134.2,522.6 L134.0,522.3 L133.8,522.0 L133.7,521.6 L133.6,521.2 L133.6,520.7 L133.6,520.2 L133.7,519.6 L133.9,519.0 L134.1,518.3 L134.4,517.7 L134.7,517.0 L135.1,516.4 L135.5,515.7 L136.0,515.1 L136.5,514.5 L137.0,513.9 L137.5,513.4 L138.1,512.9 L138.6,512.4 L139.2,512.0 L139.7,511.7 L140.3,511.5 L140.8,511.3 L141.2,511.2 L141.7,511.1 L142.1,511.2 L142.4,511.3 L142.8,511.4 L147.5,515.1 L147.8,515.3 L148.0,515.7 L148.1,516.0 L148.2,516.5 L148.2,517.0 L148.2,517.5 L148.0,518.1 L147.9,518.7 L147.6,519.3 L147.4,520.0 L147.0,520.6 L146.6,521.3 L146.2,521.9 L145.8,522.6 L145.3,523.2 L144.8,523.8 L144.2,524.3 L143.7,524.8 L143.1,525.2 L142.6,525.6 L142.0,525.9 L141.5,526.2 L141.0,526.4 L140.5,526.5 L140.1,526.5 L139.7,526.5 L139.3,526.4 L139.0,526.2 Z" fill="#fff" stroke="#1e1e1e" stroke-width="1.35" stroke-linejoin="round" stroke-linecap="round"/>
<path d="M139.0,526.2 L139.5,526.4 L140.0,526.5 L140.6,526.5 L141.3,526.3 L142.0,525.9 L142.8,525.5 L143.6,524.9 L144.3,524.2 L145.1,523.4 L145.8,522.6 L146.4,521.7 L147.0,520.8 L147.4,519.8 L147.8,518.9 L148.0,518.1 L148.2,517.3 L148.2,516.6 L148.1,516.0 L147.9,515.5 L147.5,515.1 L147.1,514.9 L146.5,514.8 L145.9,514.8 L145.2,515.0 L144.5,515.4 L143.7,515.8 L143.0,516.4 L142.2,517.1 L141.5,517.9 L140.8,518.7 L140.1,519.6 L139.6,520.5 L139.1,521.5 L138.7,522.4 L138.5,523.2 L138.4,524.0 L138.3,524.7 L138.4,525.3 L138.7,525.8 L139.0,526.2 Z" fill="#fff" stroke="#1e1e1e" stroke-width="1.35" stroke-linejoin="round" stroke-linecap="round"/>
<path d="M139.9,525.1 L140.2,525.3 L140.6,525.3 L141.1,525.3 L141.7,525.1 L142.3,524.9 L142.9,524.5 L143.5,524.0 L144.1,523.5 L144.7,522.9 L145.3,522.2 L145.8,521.5 L146.2,520.7 L146.6,520.0 L146.9,519.3 L147.1,518.6 L147.2,518.0 L147.2,517.4 L147.1,516.9 L146.9,516.5 L146.7,516.2 L146.3,516.0 L145.9,515.9 L145.4,516.0 L144.8,516.1 L144.3,516.4 L143.6,516.8 L143.0,517.3 L142.4,517.8 L141.8,518.4 L141.3,519.1 L140.8,519.8 L140.3,520.6 L139.9,521.3 L139.6,522.0 L139.4,522.7 L139.3,523.3 L139.3,523.9 L139.4,524.4 L139.6,524.8 L139.9,525.1 Z" fill="none" stroke="#1e1e1e" stroke-width="0.9" stroke-linejoin="round" stroke-linecap="round"/>
<path d="M141.1,523.5 L157.2,535.9 L161.6,530.1 L145.5,517.8 Z" fill="#fff" stroke="#fff" stroke-width="0.01" stroke-linejoin="round" stroke-linecap="round"/>
<path d="M141.1,523.5 L157.2,535.9" fill="none" stroke="#1e1e1e" stroke-width="1.35" stroke-linejoin="round" stroke-linecap="round"/>
<path d="M145.5,517.8 L161.6,530.1" fill="none" stroke="#1e1e1e" stroke-width="1.35" stroke-linejoin="round" stroke-linecap="round"/>
<path d="M157.2,535.9 L157.4,536.0 L157.7,536.0 L158.0,536.0 L158.4,535.9 L158.8,535.7 L159.2,535.5 L159.6,535.2 L159.9,534.8 L160.3,534.4 L160.7,534.0 L161.0,533.5 L161.3,533.1 L161.5,532.6 L161.7,532.1 L161.9,531.7 L161.9,531.3 L161.9,530.9 L161.9,530.6 L161.8,530.3 L161.6,530.1 L161.4,530.0 L161.1,530.0 L160.8,530.0 L160.4,530.1 L160.0,530.3 L159.6,530.5 L159.2,530.8 L158.9,531.2 L158.5,531.6 L158.1,532.0 L157.8,532.5 L157.5,532.9 L157.3,533.4 L157.1,533.9 L156.9,534.3 L156.9,534.7 L156.9,535.1 L156.9,535.4 L157.0,535.7 L157.2,535.9 Z" fill="#fff" stroke="#1e1e1e" stroke-width="1.6" stroke-linejoin="round" stroke-linecap="round"/>
<path d="M171.2,500.5 L170.9,500.2 L170.7,499.9 L170.6,499.5 L170.5,499.1 L170.5,498.6 L170.6,498.1 L170.7,497.5 L170.9,496.9 L171.1,496.3 L171.4,495.6 L171.7,495.0 L172.1,494.3 L172.6,493.7 L173.0,493.0 L173.5,492.4 L174.1,491.9 L174.6,491.3 L175.2,490.9 L175.7,490.4 L176.3,490.0 L176.8,489.7 L177.4,489.5 L177.9,489.3 L178.3,489.2 L178.8,489.2 L179.2,489.2 L179.5,489.3 L179.8,489.5 L184.6,493.2 L184.8,493.5 L185.0,493.8 L185.1,494.2 L185.2,494.6 L185.2,495.1 L185.1,495.7 L185.0,496.2 L184.8,496.8 L184.6,497.5 L184.3,498.1 L184.0,498.8 L183.6,499.4 L183.1,500.1 L182.7,500.7 L182.2,501.3 L181.6,501.9 L181.1,502.4 L180.5,502.9 L180.0,503.3 L179.4,503.7 L178.9,504.0 L178.3,504.2 L177.8,504.4 L177.4,504.5 L176.9,504.6 L176.5,504.5 L176.2,504.4 L175.9,504.2 Z" fill="#fff" stroke="#1e1e1e" stroke-width="1.35" stroke-linejoin="round" stroke-linecap="round"/>
<path d="M175.9,504.2 L176.3,504.5 L176.8,504.5 L177.4,504.5 L178.1,504.3 L178.9,504.0 L179.6,503.5 L180.4,503.0 L181.2,502.3 L182.0,501.5 L182.7,500.7 L183.3,499.8 L183.9,498.9 L184.4,498.0 L184.8,497.1 L185.0,496.2 L185.2,495.4 L185.2,494.7 L185.1,494.1 L184.9,493.6 L184.6,493.2 L184.1,493.0 L183.6,492.9 L183.0,493.0 L182.3,493.1 L181.5,493.5 L180.8,493.9 L180.0,494.5 L179.2,495.2 L178.4,495.9 L177.7,496.8 L177.1,497.7 L176.5,498.6 L176.0,499.5 L175.6,500.4 L175.4,501.2 L175.2,502.0 L175.2,502.7 L175.3,503.3 L175.5,503.8 L175.9,504.2 Z" fill="#fff" stroke="#1e1e1e" stroke-width="1.35" stroke-linejoin="round" stroke-linecap="round"/>
<path d="M176.7,503.1 L177.1,503.3 L177.5,503.4 L178.0,503.3 L178.5,503.2 L179.1,502.9 L179.8,502.6 L180.4,502.1 L181.0,501.6 L181.6,501.0 L182.2,500.3 L182.7,499.6 L183.2,498.9 L183.5,498.1 L183.8,497.4 L184.1,496.7 L184.2,496.1 L184.2,495.5 L184.1,495.0 L183.9,494.6 L183.7,494.3 L183.3,494.1 L182.9,494.1 L182.4,494.1 L181.9,494.3 L181.3,494.5 L180.6,494.9 L180.0,495.3 L179.4,495.9 L178.8,496.5 L178.2,497.2 L177.7,497.9 L177.2,498.6 L176.9,499.3 L176.6,500.0 L176.3,500.7 L176.2,501.4 L176.2,501.9 L176.3,502.4 L176.5,502.8 L176.7,503.1 Z" fill="none" stroke="#1e1e1e" stroke-width="0.9" stroke-linejoin="round" stroke-linecap="round"/>
<path d="M178.0,501.5 L194.5,514.6 L198.9,509.0 L182.4,495.9 Z" fill="#fff" stroke="#fff" stroke-width="0.01" stroke-linejoin="round" stroke-linecap="round"/>
<path d="M178.0,501.5 L194.5,514.6" fill="none" stroke="#1e1e1e" stroke-width="1.35" stroke-linejoin="round" stroke-linecap="round"/>
<path d="M182.4,495.9 L198.9,509.0" fill="none" stroke="#1e1e1e" stroke-width="1.35" stroke-linejoin="round" stroke-linecap="round"/>
<path d="M194.5,514.6 L194.7,514.7 L195.0,514.8 L195.3,514.8 L195.6,514.7 L196.0,514.5 L196.4,514.3 L196.8,514.0 L197.2,513.6 L197.6,513.2 L198.0,512.8 L198.3,512.4 L198.6,511.9 L198.8,511.4 L199.0,511.0 L199.2,510.5 L199.3,510.1 L199.3,509.7 L199.2,509.4 L199.1,509.2 L198.9,509.0 L198.7,508.9 L198.4,508.8 L198.1,508.8 L197.8,508.9 L197.4,509.1 L197.0,509.3 L196.6,509.6 L196.2,510.0 L195.8,510.4 L195.4,510.8 L195.1,511.2 L194.8,511.7 L194.6,512.2 L194.4,512.6 L194.2,513.1 L194.1,513.5 L194.1,513.9 L194.2,514.2 L194.3,514.4 L194.5,514.6 Z" fill="#fff" stroke="#1e1e1e" stroke-width="1.6" stroke-linejoin="round" stroke-linecap="round"/>
<path d="M789.9,176.6 L789.4,176.2 L789.0,175.8 L788.7,175.3 L788.4,174.7 L788.3,174.0 L788.2,173.2 L788.2,172.3 L788.2,171.4 L788.4,170.5 L788.6,169.5 L788.9,168.5 L789.3,167.4 L789.7,166.4 L790.2,165.4 L790.8,164.5 L791.4,163.5 L792.0,162.7 L792.7,161.9 L793.4,161.1 L794.1,160.5 L794.8,159.9 L795.6,159.5 L796.3,159.1 L796.9,158.9 L797.6,158.7 L798.2,158.7 L798.8,158.8 L799.3,159.0 L806.0,162.6 L806.5,163.0 L806.9,163.4 L807.2,163.9 L807.4,164.5 L807.6,165.2 L807.7,166.0 L807.7,166.9 L807.6,167.8 L807.5,168.7 L807.3,169.7 L807.0,170.7 L806.6,171.7 L806.2,172.8 L805.7,173.8 L805.1,174.7 L804.5,175.6 L803.9,176.5 L803.2,177.3 L802.5,178.1 L801.8,178.7 L801.0,179.3 L800.3,179.7 L799.6,180.1 L798.9,180.3 L798.3,180.4 L797.7,180.5 L797.1,180.4 L796.6,180.2 Z" fill="#fff" stroke="#1e1e1e" stroke-width="1.35" stroke-linejoin="round" stroke-linecap="round"/>
<path d="M796.6,180.2 L797.3,180.4 L798.2,180.5 L799.1,180.3 L800.0,179.9 L801.0,179.3 L802.1,178.5 L803.0,177.5 L804.0,176.3 L804.9,175.1 L805.7,173.8 L806.3,172.4 L806.9,170.9 L807.3,169.5 L807.6,168.2 L807.7,166.9 L807.7,165.7 L807.5,164.7 L807.1,163.8 L806.6,163.1 L806.0,162.6 L805.3,162.4 L804.4,162.3 L803.5,162.5 L802.5,162.9 L801.5,163.5 L800.5,164.3 L799.5,165.3 L798.6,166.4 L797.7,167.7 L796.9,169.0 L796.2,170.4 L795.7,171.9 L795.2,173.3 L795.0,174.6 L794.9,175.9 L794.9,177.1 L795.1,178.1 L795.4,179.0 L795.9,179.7 L796.6,180.2 Z" fill="#fff" stroke="#1e1e1e" stroke-width="1.35" stroke-linejoin="round" stroke-linecap="round"/>
<path d="M797.5,178.4 L798.1,178.6 L798.8,178.6 L799.5,178.5 L800.3,178.2 L801.1,177.7 L801.9,177.0 L802.7,176.3 L803.5,175.4 L804.2,174.4 L804.8,173.3 L805.3,172.2 L805.8,171.0 L806.1,169.9 L806.3,168.8 L806.4,167.8 L806.4,166.8 L806.2,166.0 L806.0,165.3 L805.6,164.8 L805.1,164.4 L804.5,164.2 L803.8,164.1 L803.1,164.3 L802.3,164.6 L801.5,165.1 L800.7,165.8 L799.9,166.5 L799.1,167.4 L798.4,168.4 L797.8,169.5 L797.2,170.6 L796.8,171.8 L796.5,172.9 L796.2,174.0 L796.1,175.0 L796.2,176.0 L796.3,176.8 L796.6,177.5 L797.0,178.0 L797.5,178.4 Z" fill="none" stroke="#1e1e1e" stroke-width="0.9" stroke-linejoin="round" stroke-linecap="round"/>
<path d="M798.8,176.0 L819.0,186.9 L824.0,177.7 L803.8,166.8 Z" fill="#fff" stroke="#fff" stroke-width="0.01" stroke-linejoin="round" stroke-linecap="round"/>
<path d="M798.8,176.0 L819.0,186.9" fill="none" stroke="#1e1e1e" stroke-width="1.35" stroke-linejoin="round" stroke-linecap="round"/>
<path d="M803.8,166.8 L824.0,177.7" fill="none" stroke="#1e1e1e" stroke-width="1.35" stroke-linejoin="round" stroke-linecap="round"/>
<path d="M819.0,186.9 L819.4,187.1 L819.9,187.1 L820.4,187.0 L820.9,186.8 L821.4,186.4 L821.9,186.0 L822.5,185.5 L823.0,184.9 L823.4,184.3 L823.8,183.5 L824.2,182.8 L824.5,182.1 L824.7,181.3 L824.9,180.6 L824.9,179.9 L824.9,179.3 L824.8,178.7 L824.6,178.3 L824.4,177.9 L824.0,177.7 L823.6,177.5 L823.2,177.5 L822.7,177.6 L822.2,177.8 L821.7,178.1 L821.1,178.6 L820.6,179.1 L820.1,179.7 L819.6,180.3 L819.2,181.1 L818.9,181.8 L818.6,182.5 L818.3,183.3 L818.2,184.0 L818.1,184.7 L818.2,185.3 L818.3,185.9 L818.5,186.3 L818.7,186.7 L819.0,186.9 Z" fill="#fff" stroke="#1e1e1e" stroke-width="2.0" stroke-linejoin="round" stroke-linecap="round"/>
<path d="M743.7,203.5 L743.2,203.2 L742.8,202.8 L742.5,202.3 L742.2,201.7 L742.1,201.0 L742.0,200.2 L741.9,199.3 L742.0,198.4 L742.1,197.5 L742.3,196.5 L742.6,195.5 L743.0,194.4 L743.4,193.4 L743.9,192.4 L744.5,191.4 L745.1,190.5 L745.7,189.6 L746.4,188.8 L747.1,188.1 L747.8,187.4 L748.5,186.9 L749.2,186.4 L749.9,186.0 L750.6,185.8 L751.2,185.7 L751.8,185.6 L752.4,185.7 L752.9,185.9 L759.7,189.5 L760.1,189.8 L760.5,190.2 L760.9,190.7 L761.1,191.3 L761.3,192.0 L761.4,192.8 L761.4,193.7 L761.4,194.6 L761.2,195.5 L761.0,196.5 L760.7,197.5 L760.4,198.6 L759.9,199.6 L759.4,200.6 L758.9,201.5 L758.3,202.5 L757.7,203.4 L757.0,204.2 L756.3,204.9 L755.6,205.6 L754.9,206.1 L754.2,206.6 L753.5,206.9 L752.8,207.2 L752.1,207.3 L751.5,207.4 L750.9,207.3 L750.4,207.1 Z" fill="#fff" stroke="#1e1e1e" stroke-width="1.35" stroke-linejoin="round" stroke-linecap="round"/>
<path d="M750.4,207.1 L751.2,207.3 L752.0,207.4 L752.9,207.2 L753.9,206.7 L754.9,206.1 L755.9,205.3 L756.9,204.3 L757.8,203.2 L758.7,201.9 L759.4,200.6 L760.1,199.2 L760.7,197.7 L761.1,196.3 L761.3,195.0 L761.4,193.7 L761.4,192.5 L761.2,191.5 L760.8,190.6 L760.3,189.9 L759.7,189.5 L758.9,189.2 L758.1,189.2 L757.2,189.4 L756.2,189.8 L755.2,190.4 L754.2,191.2 L753.2,192.2 L752.3,193.3 L751.4,194.6 L750.6,196.0 L750.0,197.4 L749.4,198.8 L749.0,200.2 L748.8,201.6 L748.7,202.9 L748.7,204.0 L748.9,205.1 L749.3,205.9 L749.8,206.6 L750.4,207.1 Z" fill="#fff" stroke="#1e1e1e" stroke-width="1.35" stroke-linejoin="round" stroke-linecap="round"/>
<path d="M751.3,205.3 L751.9,205.5 L752.6,205.5 L753.3,205.4 L754.1,205.0 L754.9,204.6 L755.7,203.9 L756.5,203.1 L757.3,202.2 L757.9,201.2 L758.6,200.1 L759.1,199.0 L759.5,197.8 L759.9,196.7 L760.1,195.6 L760.2,194.6 L760.1,193.6 L759.9,192.8 L759.7,192.1 L759.2,191.6 L758.7,191.2 L758.1,191.0 L757.5,191.0 L756.7,191.1 L756.0,191.5 L755.2,192.0 L754.4,192.6 L753.6,193.4 L752.8,194.3 L752.1,195.3 L751.5,196.4 L751.0,197.5 L750.6,198.7 L750.2,199.8 L750.0,200.9 L749.9,201.9 L750.0,202.9 L750.2,203.7 L750.4,204.4 L750.8,204.9 L751.3,205.3 Z" fill="none" stroke="#1e1e1e" stroke-width="0.9" stroke-linejoin="round" stroke-linecap="round"/>
<path d="M752.6,202.9 L773.5,213.9 L778.4,204.6 L757.5,193.6 Z" fill="#fff" stroke="#fff" stroke-width="0.01" stroke-linejoin="round" stroke-linecap="round"/>
<path d="M752.6,202.9 L773.5,213.9" fill="none" stroke="#1e1e1e" stroke-width="1.35" stroke-linejoin="round" stroke-linecap="round"/>
<path d="M757.5,193.6 L778.4,204.6" fill="none" stroke="#1e1e1e" stroke-width="1.35" stroke-linejoin="round" stroke-linecap="round"/>
<path d="M773.5,213.9 L773.9,214.0 L774.3,214.0 L774.8,213.9 L775.3,213.7 L775.9,213.4 L776.4,213.0 L776.9,212.4 L777.4,211.8 L777.9,211.2 L778.3,210.5 L778.6,209.7 L778.9,209.0 L779.1,208.2 L779.3,207.5 L779.3,206.8 L779.3,206.2 L779.2,205.6 L779.0,205.2 L778.7,204.8 L778.4,204.6 L778.0,204.5 L777.5,204.4 L777.1,204.5 L776.6,204.8 L776.0,205.1 L775.5,205.5 L775.0,206.0 L774.5,206.6 L774.0,207.3 L773.6,208.0 L773.3,208.8 L773.0,209.5 L772.8,210.3 L772.6,211.0 L772.6,211.7 L772.6,212.3 L772.7,212.8 L772.9,213.3 L773.2,213.6 L773.5,213.9 Z" fill="#fff" stroke="#1e1e1e" stroke-width="2.0" stroke-linejoin="round" stroke-linecap="round"/>
<path d="M766.5,249.1 L766.0,248.8 L765.6,248.4 L765.3,247.9 L765.0,247.2 L764.8,246.5 L764.7,245.8 L764.7,244.9 L764.8,244.0 L764.9,243.0 L765.1,242.0 L765.4,241.0 L765.8,240.0 L766.2,239.0 L766.7,238.0 L767.3,237.0 L767.9,236.1 L768.5,235.2 L769.2,234.4 L769.9,233.7 L770.6,233.0 L771.3,232.5 L772.0,232.0 L772.7,231.6 L773.4,231.4 L774.0,231.2 L774.6,231.2 L775.2,231.3 L775.7,231.5 L782.5,235.1 L782.9,235.4 L783.3,235.8 L783.7,236.3 L783.9,236.9 L784.1,237.6 L784.2,238.4 L784.2,239.3 L784.2,240.2 L784.0,241.1 L783.8,242.1 L783.5,243.1 L783.2,244.2 L782.7,245.2 L782.2,246.2 L781.7,247.1 L781.1,248.1 L780.5,248.9 L779.8,249.8 L779.1,250.5 L778.4,251.2 L777.7,251.7 L777.0,252.2 L776.3,252.5 L775.6,252.8 L774.9,252.9 L774.3,253.0 L773.7,252.9 L773.2,252.7 Z" fill="#fff" stroke="#1e1e1e" stroke-width="1.35" stroke-linejoin="round" stroke-linecap="round"/>
<path d="M773.2,252.7 L773.9,252.9 L774.8,252.9 L775.7,252.7 L776.7,252.3 L777.7,251.7 L778.7,250.9 L779.7,249.9 L780.6,248.8 L781.5,247.5 L782.2,246.2 L782.9,244.8 L783.5,243.3 L783.9,241.9 L784.1,240.6 L784.2,239.3 L784.2,238.1 L784.0,237.1 L783.6,236.2 L783.1,235.5 L782.5,235.1 L781.7,234.8 L780.9,234.8 L780.0,235.0 L779.0,235.4 L778.0,236.0 L777.0,236.8 L776.0,237.8 L775.1,238.9 L774.2,240.2 L773.4,241.5 L772.8,242.9 L772.2,244.4 L771.8,245.8 L771.6,247.2 L771.4,248.4 L771.5,249.6 L771.7,250.6 L772.1,251.5 L772.6,252.2 L773.2,252.7 Z" fill="#fff" stroke="#1e1e1e" stroke-width="1.35" stroke-linejoin="round" stroke-linecap="round"/>
<path d="M774.1,250.9 L774.7,251.1 L775.4,251.1 L776.1,251.0 L776.9,250.6 L777.7,250.1 L778.5,249.5 L779.3,248.7 L780.0,247.8 L780.7,246.8 L781.4,245.7 L781.9,244.6 L782.3,243.4 L782.7,242.3 L782.9,241.2 L782.9,240.2 L782.9,239.2 L782.7,238.4 L782.4,237.7 L782.0,237.2 L781.5,236.8 L780.9,236.6 L780.3,236.6 L779.5,236.7 L778.8,237.1 L778.0,237.6 L777.2,238.2 L776.4,239.0 L775.6,239.9 L774.9,240.9 L774.3,242.0 L773.8,243.1 L773.3,244.3 L773.0,245.4 L772.8,246.5 L772.7,247.5 L772.8,248.5 L772.9,249.3 L773.2,250.0 L773.6,250.5 L774.1,250.9 Z" fill="none" stroke="#1e1e1e" stroke-width="0.9" stroke-linejoin="round" stroke-linecap="round"/>
<path d="M775.4,248.5 L794.9,258.8 L799.8,249.5 L780.3,239.2 Z" fill="#fff" stroke="#fff" stroke-width="0.01" stroke-linejoin="round" stroke-linecap="round"/>
<path d="M775.4,248.5 L794.9,258.8" fill="none" stroke="#1e1e1e" stroke-width="1.35" stroke-linejoin="round" stroke-linecap="round"/>
<path d="M780.3,239.2 L799.8,249.5" fill="none" stroke="#1e1e1e" stroke-width="1.35" stroke-linejoin="round" stroke-linecap="round"/>
<path d="M794.9,258.8 L795.3,258.9 L795.8,258.9 L796.2,258.8 L796.7,258.6 L797.3,258.3 L797.8,257.9 L798.3,257.3 L798.8,256.7 L799.3,256.1 L799.7,255.4 L800.0,254.6 L800.3,253.9 L800.5,253.1 L800.7,252.4 L800.7,251.7 L800.7,251.1 L800.6,250.5 L800.4,250.1 L800.1,249.7 L799.8,249.5 L799.4,249.4 L799.0,249.3 L798.5,249.4 L798.0,249.7 L797.4,250.0 L796.9,250.4 L796.4,250.9 L795.9,251.5 L795.4,252.2 L795.0,252.9 L794.7,253.7 L794.4,254.4 L794.2,255.2 L794.0,255.9 L794.0,256.6 L794.0,257.2 L794.1,257.7 L794.3,258.2 L794.6,258.5 L794.9,258.8 Z" fill="#fff" stroke="#1e1e1e" stroke-width="2.0" stroke-linejoin="round" stroke-linecap="round"/>
<path d="M781.5,212.7 L872.6,159.5 L879.6,163.0 L879.6,228.6 L861.6,238.9 L861.6,285.9 L807.0,316.3 L800.1,312.8 L800.1,274.9 L788.4,280.4 L781.5,276.9 Z" fill="#fff" stroke="#1e1e1e" stroke-width="1.35" stroke-linejoin="round" stroke-linecap="round"/>
<path d="M781.5,212.7 L788.4,216.8 L879.6,163.6" fill="none" stroke="#1e1e1e" stroke-width="1.35" stroke-linejoin="round" stroke-linecap="round"/>
<path d="M784.9,214.1 L877.5,162.3" fill="none" stroke="#1e1e1e" stroke-width="0.8" stroke-linejoin="round" stroke-linecap="round"/>
<path d="M788.4,216.8 L788.4,280.4" fill="none" stroke="#1e1e1e" stroke-width="1.35" stroke-linejoin="round" stroke-linecap="round"/>
<path d="M800.1,274.9 L808.4,270.0 L808.4,316.3" fill="none" stroke="#1e1e1e" stroke-width="1.35" stroke-linejoin="round" stroke-linecap="round"/>
<ellipse cx="811.9" cy="230.0" rx="5.0" ry="7.2" transform="rotate(25 811.9 230.0)" fill="none" stroke="#1e1e1e" stroke-width="1.6"/>
<ellipse cx="812.4" cy="230.0" rx="1.9" ry="5.2" transform="rotate(25 812.4 230.0)" fill="none" stroke="#1e1e1e" stroke-width="0.9"/>
<ellipse cx="858.1" cy="203.7" rx="5.0" ry="7.2" transform="rotate(25 858.1 203.7)" fill="none" stroke="#1e1e1e" stroke-width="1.6"/>
<ellipse cx="858.6" cy="203.7" rx="1.9" ry="5.2" transform="rotate(25 858.6 203.7)" fill="none" stroke="#1e1e1e" stroke-width="0.9"/>
<ellipse cx="834.7" cy="274.9" rx="5.0" ry="7.2" transform="rotate(25 834.7 274.9)" fill="none" stroke="#1e1e1e" stroke-width="1.6"/>
<ellipse cx="835.2" cy="274.9" rx="1.9" ry="5.2" transform="rotate(25 835.2 274.9)" fill="none" stroke="#1e1e1e" stroke-width="0.9"/>
<path d="M877.1,273.6 L1024.8,188.5 L1132.7,249.5 L1132.7,272.2 L1108.5,286.4 L1105.7,292.1 L1105.7,324.8 L1013.4,375.9 L1014.8,388.7 L956.6,431.2 L932.5,422.7 L932.5,400.0 L914.0,385.8 L914.0,319.1 L905.5,313.4 L877.1,296.4 Z" fill="#fff" stroke="#fff" stroke-width="0.01" stroke-linejoin="round" stroke-linecap="round"/>
<path d="M877.1,273.6 L1024.8,188.5 L1132.7,249.5 L983.6,336.1 L877.1,273.6 L877.1,296.4 L982.2,354.6 L983.6,354.6 L983.6,336.1" fill="none" stroke="#1e1e1e" stroke-width="1.35" stroke-linejoin="round" stroke-linecap="round"/>
<path d="M987.8,337.5 L987.8,354.6 L1132.7,273.6 L1132.7,249.5" fill="none" stroke="#1e1e1e" stroke-width="1.35" stroke-linejoin="round" stroke-linecap="round"/>
<path d="M1132.7,272.2 L1108.5,286.4 L1105.7,292.1 L1105.7,324.8" fill="none" stroke="#1e1e1e" stroke-width="1.35" stroke-linejoin="round" stroke-linecap="round"/>
<path d="M904.6,312.9 L914.3,319.8 L914.3,385.2 L950.7,412.8 L1007.3,368.6 L1012.4,376.4" fill="none" stroke="#1e1e1e" stroke-width="1.35" stroke-linejoin="round" stroke-linecap="round"/>
<path d="M932.2,399.5 L932.2,419.7 L950.7,430.8 L1015.1,394.9" fill="none" stroke="#1e1e1e" stroke-width="1.35" stroke-linejoin="round" stroke-linecap="round"/>
<path d="M952.0,430.3 L1015.6,395.8" fill="none" stroke="#1e1e1e" stroke-width="0.8" stroke-linejoin="round" stroke-linecap="round"/>
<path d="M954.3,414.2 L959.9,421.6 L1015.6,390.7 L1010.1,382.9" fill="none" stroke="#1e1e1e" stroke-width="1.35" stroke-linejoin="round" stroke-linecap="round"/>
<path d="M951.6,412.5 L1020.0,372.8" fill="none" stroke="#1e1e1e" stroke-width="1.35" stroke-linejoin="round" stroke-linecap="round"/>
<path d="M1012.0,373.9 L1105.7,324.8" fill="none" stroke="#1e1e1e" stroke-width="1.35" stroke-linejoin="round" stroke-linecap="round"/>
<path d="M1020.0,372.8 L1015.6,375.3" fill="none" stroke="#1e1e1e" stroke-width="1.35" stroke-linejoin="round" stroke-linecap="round"/>
<path d="M1010.5175907165224,342.5492724258611 Q1014.662000368392,341.90458648001476 1014.662000368392,346.04899613188434 L1014.662000368392,375.5203536562903" fill="none" stroke="#1e1e1e" stroke-width="1.35" stroke-linejoin="round" stroke-linecap="round"/>
<path d="M966.3105544299134,348.8119358997974 L963.5476146620003,369.07349419782645 Q963.5476146620003,382.8881930373918 975.5203536562902,388.4140725732179 L980.1252532694787,385.6511328053048" fill="none" stroke="#1e1e1e" stroke-width="1.35" stroke-linejoin="round" stroke-linecap="round"/>
<path d="M971.3759440044207,350.1934057837539 L968.1525142751888,367.69202431387 Q969.9944741204641,380.1252532694787 979.6647633081599,384.2696629213483" fill="none" stroke="#1e1e1e" stroke-width="1.35" stroke-linejoin="round" stroke-linecap="round"/>
<path d="M963.5,369.1 L968.2,367.7" fill="none" stroke="#1e1e1e" stroke-width="1.35" stroke-linejoin="round" stroke-linecap="round"/>
<path d="M984.7,358.0 L980.1,385.7" fill="none" stroke="#1e1e1e" stroke-width="1.35" stroke-linejoin="round" stroke-linecap="round"/>
<ellipse cx="979.7" cy="361.2" rx="2.8" ry="4.1" transform="rotate(-30 979.7 361.2)" fill="none" stroke="#1e1e1e" stroke-width="1.35"/>
<path d="M980.1,393.9 L987.5,389.8" fill="none" stroke="#1e1e1e" stroke-width="2.2" stroke-linejoin="round" stroke-linecap="round"/>
<path d="M959.9,408.7 L967.2,404.5" fill="none" stroke="#1e1e1e" stroke-width="1.8" stroke-linejoin="round" stroke-linecap="round"/>
<ellipse cx="1032.4" cy="204.1" rx="9.1" ry="5.1" transform="rotate(0 1032.4 204.1)" fill="none" stroke="#1e1e1e" stroke-width="1.35"/>
<ellipse cx="1069.3" cy="225.4" rx="8.0" ry="4.3" transform="rotate(0 1069.3 225.4)" fill="none" stroke="#1e1e1e" stroke-width="1.35"/>
<ellipse cx="1105.7" cy="246.7" rx="9.1" ry="5.1" transform="rotate(0 1105.7 246.7)" fill="none" stroke="#1e1e1e" stroke-width="1.35"/>
<ellipse cx="904.6" cy="277.9" rx="9.1" ry="5.1" transform="rotate(0 904.6 277.9)" fill="none" stroke="#1e1e1e" stroke-width="1.35"/>
<ellipse cx="941.6" cy="299.2" rx="8.0" ry="4.3" transform="rotate(0 941.6 299.2)" fill="none" stroke="#1e1e1e" stroke-width="1.35"/>
<ellipse cx="977.9" cy="320.5" rx="9.1" ry="5.1" transform="rotate(0 977.9 320.5)" fill="none" stroke="#1e1e1e" stroke-width="1.35"/>
<path d="M1193.1,229.2 L1193.6,229.0 L1194.1,229.0 L1194.7,229.1 L1195.3,229.2 L1195.9,229.5 L1196.5,229.9 L1197.1,230.4 L1197.8,231.0 L1198.4,231.6 L1199.0,232.4 L1199.5,233.2 L1200.0,234.1 L1200.5,235.0 L1201.0,235.9 L1201.3,236.9 L1201.7,237.9 L1201.9,238.8 L1202.1,239.8 L1202.2,240.7 L1202.3,241.6 L1202.3,242.5 L1202.2,243.3 L1202.0,244.0 L1201.8,244.6 L1201.5,245.2 L1201.2,245.7 L1200.8,246.0 L1200.3,246.3 L1196.1,248.1 L1195.6,248.2 L1195.0,248.3 L1194.4,248.2 L1193.8,248.0 L1193.2,247.8 L1192.6,247.4 L1192.0,246.9 L1191.4,246.3 L1190.7,245.6 L1190.2,244.9 L1189.6,244.1 L1189.1,243.2 L1188.6,242.3 L1188.2,241.4 L1187.8,240.4 L1187.4,239.4 L1187.2,238.4 L1187.0,237.5 L1186.9,236.5 L1186.8,235.6 L1186.8,234.8 L1186.9,234.0 L1187.1,233.3 L1187.3,232.6 L1187.6,232.1 L1187.9,231.6 L1188.3,231.3 L1188.8,231.0 Z" fill="#fff" stroke="#1e1e1e" stroke-width="1.35" stroke-linejoin="round" stroke-linecap="round"/>
<path d="M1188.8,231.0 L1188.2,231.4 L1187.6,232.0 L1187.2,232.8 L1187.0,233.7 L1186.8,234.8 L1186.8,236.0 L1187.0,237.3 L1187.2,238.6 L1187.6,240.0 L1188.2,241.4 L1188.8,242.7 L1189.5,243.9 L1190.3,245.0 L1191.1,246.0 L1192.0,246.9 L1192.9,247.5 L1193.7,248.0 L1194.6,248.2 L1195.3,248.3 L1196.1,248.1 L1196.7,247.7 L1197.2,247.1 L1197.6,246.3 L1197.9,245.4 L1198.0,244.3 L1198.0,243.1 L1197.9,241.8 L1197.6,240.5 L1197.2,239.1 L1196.7,237.7 L1196.1,236.4 L1195.4,235.2 L1194.6,234.0 L1193.7,233.1 L1192.9,232.2 L1192.0,231.6 L1191.1,231.1 L1190.3,230.9 L1189.5,230.8 L1188.8,231.0 Z" fill="#fff" stroke="#1e1e1e" stroke-width="1.35" stroke-linejoin="round" stroke-linecap="round"/>
<path d="M1189.5,232.7 L1189.0,233.0 L1188.6,233.5 L1188.3,234.1 L1188.1,234.9 L1187.9,235.7 L1187.9,236.7 L1188.1,237.7 L1188.3,238.8 L1188.6,239.9 L1189.0,241.0 L1189.5,242.1 L1190.1,243.0 L1190.7,243.9 L1191.4,244.7 L1192.1,245.4 L1192.8,245.9 L1193.5,246.3 L1194.1,246.5 L1194.8,246.5 L1195.3,246.4 L1195.8,246.1 L1196.2,245.6 L1196.6,245.0 L1196.8,244.2 L1196.9,243.4 L1196.9,242.4 L1196.8,241.4 L1196.6,240.3 L1196.3,239.2 L1195.8,238.1 L1195.3,237.0 L1194.8,236.1 L1194.1,235.1 L1193.5,234.4 L1192.8,233.7 L1192.1,233.2 L1191.4,232.8 L1190.7,232.6 L1190.1,232.6 L1189.5,232.7 Z" fill="none" stroke="#1e1e1e" stroke-width="0.9" stroke-linejoin="round" stroke-linecap="round"/>
<path d="M1190.8,235.7 L1172.2,243.6 L1175.6,251.3 L1194.1,243.4 Z" fill="#fff" stroke="#fff" stroke-width="0.01" stroke-linejoin="round" stroke-linecap="round"/>
<path d="M1190.8,235.7 L1172.2,243.6" fill="none" stroke="#1e1e1e" stroke-width="1.35" stroke-linejoin="round" stroke-linecap="round"/>
<path d="M1194.1,243.4 L1175.6,251.3" fill="none" stroke="#1e1e1e" stroke-width="1.35" stroke-linejoin="round" stroke-linecap="round"/>
<path d="M1172.2,243.6 L1172.0,243.7 L1171.7,244.0 L1171.5,244.4 L1171.4,244.8 L1171.4,245.3 L1171.4,245.8 L1171.4,246.4 L1171.5,247.0 L1171.7,247.6 L1172.0,248.3 L1172.2,248.9 L1172.6,249.4 L1172.9,249.9 L1173.3,250.4 L1173.7,250.8 L1174.1,251.1 L1174.5,251.3 L1174.9,251.4 L1175.2,251.4 L1175.6,251.3 L1175.8,251.1 L1176.1,250.9 L1176.3,250.5 L1176.4,250.1 L1176.4,249.6 L1176.4,249.1 L1176.4,248.5 L1176.3,247.9 L1176.1,247.2 L1175.8,246.6 L1175.6,246.0 L1175.2,245.5 L1174.9,244.9 L1174.5,244.5 L1174.1,244.1 L1173.7,243.8 L1173.3,243.6 L1172.9,243.5 L1172.6,243.5 L1172.2,243.6 Z" fill="#fff" stroke="#1e1e1e" stroke-width="1.0" stroke-linejoin="round" stroke-linecap="round"/>
<path d="M1143.5,244.5 L1159.5,235.2 L1226.2,287.5 L1222.9,311.2 L1207.7,320.0 L1199.6,312.0 L1196.3,300.2 L1165.5,277.8 L1157.4,281.2 L1139.3,266.4 Z" fill="#fff" stroke="#1e1e1e" stroke-width="1.35" stroke-linejoin="round" stroke-linecap="round"/>
<path d="M1143.5,244.5 L1161.2,258.0 L1157.4,281.2" fill="none" stroke="#1e1e1e" stroke-width="1.35" stroke-linejoin="round" stroke-linecap="round"/>
<path d="M1161.2,258.0 L1169.7,253.3 L1165.5,277.8" fill="none" stroke="#1e1e1e" stroke-width="1.35" stroke-linejoin="round" stroke-linecap="round"/>
<path d="M1169.7,253.3 L1212.3,286.7 L1204.7,291.8 L1196.3,297.7" fill="none" stroke="#1e1e1e" stroke-width="1.35" stroke-linejoin="round" stroke-linecap="round"/>
<path d="M1204.7,291.8 L1211.9,296.0 L1226.2,287.5" fill="none" stroke="#1e1e1e" stroke-width="1.35" stroke-linejoin="round" stroke-linecap="round"/>
<path d="M1211.9,296.0 L1207.7,320.0" fill="none" stroke="#1e1e1e" stroke-width="1.35" stroke-linejoin="round" stroke-linecap="round"/>
<ellipse cx="1150.7" cy="262.6" rx="3.8" ry="5.1" transform="rotate(-20 1150.7 262.6)" fill="none" stroke="#1e1e1e" stroke-width="1.35"/>
<path d="M875.9,399.6 L890.6,390.4 L908.4,403.3 L908.4,413.8 L942.8,440.2 L952.0,437.7 L958.8,442.6 L955.7,466.6 L938.5,475.2 L876.5,427.9 L871.6,415.6 Z" fill="#fff" stroke="#1e1e1e" stroke-width="1.35" stroke-linejoin="round" stroke-linecap="round"/>
<path d="M875.9,400.3 L942.8,451.8 L958.8,442.6" fill="none" stroke="#1e1e1e" stroke-width="1.35" stroke-linejoin="round" stroke-linecap="round"/>
<path d="M942.8,451.8 L938.5,475.2" fill="none" stroke="#1e1e1e" stroke-width="1.35" stroke-linejoin="round" stroke-linecap="round"/>
<path d="M900.4,408.9 L908.4,405.2" fill="none" stroke="#1e1e1e" stroke-width="1.35" stroke-linejoin="round" stroke-linecap="round"/>
<path d="M900.4,408.9 L942.8,440.2" fill="none" stroke="#1e1e1e" stroke-width="1.35" stroke-linejoin="round" stroke-linecap="round"/>
<ellipse cx="882.0" cy="418.1" rx="6.1" ry="8.6" transform="rotate(-20 882.0 418.1)" fill="#fff" stroke="#1e1e1e" stroke-width="1.35"/>
<ellipse cx="882.0" cy="418.1" rx="4.4" ry="6.8" transform="rotate(-20 882.0 418.1)" fill="none" stroke="#1e1e1e" stroke-width="1.35"/>
<path d="M861.2,439.2 L860.8,439.4 L860.3,439.5 L859.7,439.5 L859.1,439.4 L858.5,439.2 L857.9,438.9 L857.2,438.6 L856.6,438.1 L855.9,437.5 L855.3,436.9 L854.7,436.2 L854.1,435.4 L853.5,434.6 L853.0,433.8 L852.5,432.9 L852.1,432.0 L851.8,431.1 L851.5,430.2 L851.3,429.3 L851.1,428.5 L851.0,427.7 L851.0,426.9 L851.1,426.2 L851.2,425.6 L851.4,425.1 L851.7,424.6 L852.0,424.2 L852.5,423.9 L858.3,420.5 L858.8,420.3 L859.3,420.2 L859.8,420.3 L860.4,420.4 L861.0,420.6 L861.7,420.9 L862.3,421.2 L863.0,421.7 L863.6,422.3 L864.3,422.9 L864.9,423.6 L865.5,424.4 L866.0,425.2 L866.5,426.0 L867.0,426.9 L867.4,427.8 L867.8,428.7 L868.1,429.6 L868.3,430.4 L868.4,431.3 L868.5,432.1 L868.5,432.9 L868.5,433.6 L868.3,434.2 L868.1,434.7 L867.8,435.2 L867.5,435.6 L867.1,435.9 Z" fill="#fff" stroke="#1e1e1e" stroke-width="1.35" stroke-linejoin="round" stroke-linecap="round"/>
<path d="M867.1,435.9 L867.6,435.5 L868.1,434.8 L868.4,434.1 L868.5,433.1 L868.5,432.1 L868.4,431.0 L868.1,429.8 L867.7,428.5 L867.2,427.3 L866.5,426.0 L865.8,424.9 L865.0,423.8 L864.1,422.8 L863.2,421.9 L862.3,421.2 L861.4,420.7 L860.5,420.4 L859.7,420.2 L859.0,420.3 L858.3,420.5 L857.8,421.0 L857.3,421.6 L857.0,422.4 L856.9,423.3 L856.9,424.3 L857.0,425.5 L857.3,426.7 L857.7,427.9 L858.2,429.2 L858.9,430.4 L859.6,431.6 L860.4,432.7 L861.3,433.7 L862.2,434.5 L863.1,435.2 L864.0,435.7 L864.9,436.1 L865.7,436.2 L866.4,436.1 L867.1,435.9 Z" fill="#fff" stroke="#1e1e1e" stroke-width="1.35" stroke-linejoin="round" stroke-linecap="round"/>
<path d="M866.2,434.4 L866.6,434.0 L867.0,433.5 L867.2,432.9 L867.3,432.2 L867.4,431.3 L867.2,430.4 L867.0,429.4 L866.7,428.5 L866.3,427.4 L865.8,426.5 L865.2,425.5 L864.5,424.7 L863.8,423.9 L863.1,423.2 L862.4,422.6 L861.7,422.2 L861.0,422.0 L860.3,421.8 L859.7,421.9 L859.2,422.1 L858.8,422.4 L858.4,422.9 L858.2,423.5 L858.1,424.3 L858.0,425.1 L858.2,426.0 L858.4,427.0 L858.7,428.0 L859.1,429.0 L859.6,430.0 L860.2,430.9 L860.9,431.8 L861.6,432.6 L862.3,433.2 L863.0,433.8 L863.7,434.2 L864.4,434.5 L865.1,434.6 L865.7,434.6 L866.2,434.4 Z" fill="none" stroke="#1e1e1e" stroke-width="0.9" stroke-linejoin="round" stroke-linecap="round"/>
<path d="M865.0,432.3 L884.9,420.9 L880.3,412.8 L860.4,424.2 Z" fill="#fff" stroke="#fff" stroke-width="0.01" stroke-linejoin="round" stroke-linecap="round"/>
<path d="M865.0,432.3 L884.9,420.9" fill="none" stroke="#1e1e1e" stroke-width="1.35" stroke-linejoin="round" stroke-linecap="round"/>
<path d="M860.4,424.2 L880.3,412.8" fill="none" stroke="#1e1e1e" stroke-width="1.35" stroke-linejoin="round" stroke-linecap="round"/>
<path d="M884.9,420.9 L885.2,420.7 L885.5,420.3 L885.6,419.9 L885.7,419.4 L885.7,418.9 L885.6,418.3 L885.5,417.6 L885.3,417.0 L885.0,416.3 L884.6,415.7 L884.3,415.1 L883.8,414.5 L883.4,414.0 L882.9,413.5 L882.4,413.2 L881.9,412.9 L881.5,412.7 L881.0,412.6 L880.7,412.7 L880.3,412.8 L880.0,413.0 L879.8,413.3 L879.6,413.8 L879.6,414.2 L879.6,414.8 L879.6,415.4 L879.8,416.0 L880.0,416.7 L880.3,417.3 L880.6,418.0 L881.0,418.6 L881.4,419.2 L881.9,419.7 L882.3,420.2 L882.8,420.5 L883.3,420.8 L883.8,421.0 L884.2,421.0 L884.6,421.0 L884.9,420.9 Z" fill="#fff" stroke="#1e1e1e" stroke-width="1.0" stroke-linejoin="round" stroke-linecap="round"/>
<path d="M1008.7,440.1 L1062.7,396.5 L1152.3,344.3 L1156.0,345.5 L1159.7,352.3 L1158.5,356.0 L1067.6,406.9 L1017.3,451.1 L1008.7,443.1 Z" fill="#fff" stroke="#1e1e1e" stroke-width="1.8" stroke-linejoin="round" stroke-linecap="round"/>
<path d="M1009.9,443.1 L1063.9,398.9 L1158.5,353.5" fill="none" stroke="#1e1e1e" stroke-width="1.2" stroke-linejoin="round" stroke-linecap="round"/>
<path d="M1017.3,448.7 L1067.6,408.1 L1158.5,356.0" fill="none" stroke="#1e1e1e" stroke-width="1.0" stroke-linejoin="round" stroke-linecap="round"/>
<path d="M1062.7,396.5 L1063.9,398.9 L1067.6,408.1" fill="none" stroke="#1e1e1e" stroke-width="1.0" stroke-linejoin="round" stroke-linecap="round"/>
<path d="M1055.3438113948919,429.63654223968564 Q1066.3948919449901,425.95284872298623 1076.2180746561885,417.3575638506876" fill="none" stroke="#1e1e1e" stroke-width="1.0" stroke-linejoin="round" stroke-linecap="round"/>
<path d="M1103.2318271119843,397.71119842829074 Q1111.827111984283,392.7996070726916 1119.1944990176817,386.6601178781925" fill="none" stroke="#1e1e1e" stroke-width="1.0" stroke-linejoin="round" stroke-linecap="round"/>
<ellipse cx="1046.7" cy="429.6" rx="6.8" ry="1.0" transform="rotate(-33 1046.7 429.6)" fill="none" stroke="#1e1e1e" stroke-width="2.0"/>
<ellipse cx="1077.4" cy="404.5" rx="6.8" ry="1.0" transform="rotate(-33 1077.4 404.5)" fill="none" stroke="#1e1e1e" stroke-width="2.0"/>
<ellipse cx="1095.9" cy="398.9" rx="6.8" ry="1.0" transform="rotate(-33 1095.9 398.9)" fill="none" stroke="#1e1e1e" stroke-width="2.0"/>
<ellipse cx="1122.9" cy="378.7" rx="6.8" ry="1.0" transform="rotate(-33 1122.9 378.7)" fill="none" stroke="#1e1e1e" stroke-width="2.0"/>
<path d="M1042.7,433.4 L1057.6,455.5 L1067.0,449.2 L1052.0,427.1 Z" fill="#fff" stroke="#fff" stroke-width="0.01" stroke-linejoin="round" stroke-linecap="round"/>
<path d="M1042.7,433.4 L1057.6,455.5" fill="none" stroke="#1e1e1e" stroke-width="1.35" stroke-linejoin="round" stroke-linecap="round"/>
<path d="M1052.0,427.1 L1067.0,449.2" fill="none" stroke="#1e1e1e" stroke-width="1.35" stroke-linejoin="round" stroke-linecap="round"/>
<path d="M1053.6,458.2 L1053.4,457.8 L1053.3,457.3 L1053.3,456.7 L1053.5,456.1 L1053.7,455.5 L1054.1,454.8 L1054.5,454.1 L1055.1,453.3 L1055.7,452.5 L1056.4,451.8 L1057.2,451.0 L1058.1,450.3 L1059.0,449.6 L1059.9,448.9 L1060.9,448.3 L1061.9,447.7 L1062.9,447.2 L1063.9,446.7 L1064.9,446.3 L1065.9,446.0 L1066.8,445.8 L1067.6,445.7 L1068.4,445.6 L1069.1,445.6 L1069.7,445.7 L1070.2,445.9 L1070.6,446.2 L1070.9,446.5 L1073.8,450.8 L1074.0,451.2 L1074.1,451.7 L1074.1,452.3 L1074.0,452.9 L1073.7,453.6 L1073.4,454.2 L1072.9,455.0 L1072.4,455.7 L1071.7,456.5 L1071.0,457.2 L1070.2,458.0 L1069.4,458.7 L1068.5,459.4 L1067.5,460.1 L1066.5,460.7 L1065.5,461.3 L1064.5,461.8 L1063.5,462.3 L1062.5,462.7 L1061.6,463.0 L1060.7,463.2 L1059.9,463.4 L1059.1,463.4 L1058.4,463.4 L1057.8,463.3 L1057.3,463.1 L1056.8,462.8 L1056.5,462.5 Z" fill="#fff" stroke="#1e1e1e" stroke-width="1.8" stroke-linejoin="round" stroke-linecap="round"/>
<path d="M1053.6,458.2 L1053.4,457.8 L1053.3,457.3 L1053.3,456.7 L1053.5,456.1 L1053.7,455.5 L1054.1,454.8 L1054.5,454.1 L1055.1,453.3 L1055.7,452.5 L1056.4,451.8 L1057.2,451.0 L1058.1,450.3 L1059.0,449.6 L1059.9,448.9 L1060.9,448.3 L1061.9,447.7 L1062.9,447.2 L1063.9,446.7 L1064.9,446.3 L1065.9,446.0 L1066.8,445.8 L1067.6,445.7 L1068.4,445.6 L1069.1,445.6 L1069.7,445.7 L1070.2,445.9 L1070.6,446.2 L1070.9,446.5" fill="none" stroke="#1e1e1e" stroke-width="1.2" stroke-linejoin="round" stroke-linecap="round"/>
<path d="M1073.9,409.4 L1088.9,432.7 L1098.4,426.5 L1083.4,403.2 Z" fill="#fff" stroke="#fff" stroke-width="0.01" stroke-linejoin="round" stroke-linecap="round"/>
<path d="M1073.9,409.4 L1088.9,432.7" fill="none" stroke="#1e1e1e" stroke-width="1.35" stroke-linejoin="round" stroke-linecap="round"/>
<path d="M1083.4,403.2 L1098.4,426.5" fill="none" stroke="#1e1e1e" stroke-width="1.35" stroke-linejoin="round" stroke-linecap="round"/>
<path d="M1084.9,435.3 L1084.7,434.8 L1084.6,434.3 L1084.7,433.8 L1084.8,433.2 L1085.1,432.5 L1085.4,431.8 L1085.9,431.1 L1086.4,430.4 L1087.1,429.6 L1087.8,428.9 L1088.7,428.2 L1089.5,427.4 L1090.5,426.7 L1091.4,426.1 L1092.4,425.5 L1093.4,424.9 L1094.4,424.4 L1095.5,424.0 L1096.4,423.6 L1097.4,423.3 L1098.3,423.1 L1099.1,423.0 L1099.9,422.9 L1100.6,423.0 L1101.2,423.1 L1101.7,423.3 L1102.1,423.6 L1102.5,423.9 L1105.3,428.3 L1105.4,428.7 L1105.5,429.2 L1105.5,429.8 L1105.4,430.4 L1105.1,431.0 L1104.7,431.7 L1104.3,432.4 L1103.7,433.2 L1103.1,433.9 L1102.3,434.6 L1101.5,435.4 L1100.6,436.1 L1099.7,436.8 L1098.7,437.4 L1097.7,438.1 L1096.7,438.6 L1095.7,439.1 L1094.7,439.5 L1093.7,439.9 L1092.8,440.2 L1091.9,440.4 L1091.0,440.5 L1090.3,440.6 L1089.6,440.6 L1088.9,440.4 L1088.4,440.2 L1088.0,439.9 L1087.7,439.6 Z" fill="#fff" stroke="#1e1e1e" stroke-width="1.8" stroke-linejoin="round" stroke-linecap="round"/>
<path d="M1084.9,435.3 L1084.7,434.8 L1084.6,434.3 L1084.7,433.8 L1084.8,433.2 L1085.1,432.5 L1085.4,431.8 L1085.9,431.1 L1086.4,430.4 L1087.1,429.6 L1087.8,428.9 L1088.7,428.2 L1089.5,427.4 L1090.5,426.7 L1091.4,426.1 L1092.4,425.5 L1093.4,424.9 L1094.4,424.4 L1095.5,424.0 L1096.4,423.6 L1097.4,423.3 L1098.3,423.1 L1099.1,423.0 L1099.9,422.9 L1100.6,423.0 L1101.2,423.1 L1101.7,423.3 L1102.1,423.6 L1102.5,423.9" fill="none" stroke="#1e1e1e" stroke-width="1.2" stroke-linejoin="round" stroke-linecap="round"/>
<path d="M1089.2,405.6 L1104.3,430.1 L1113.9,424.1 L1098.8,399.7 Z" fill="#fff" stroke="#fff" stroke-width="0.01" stroke-linejoin="round" stroke-linecap="round"/>
<path d="M1089.2,405.6 L1104.3,430.1" fill="none" stroke="#1e1e1e" stroke-width="1.35" stroke-linejoin="round" stroke-linecap="round"/>
<path d="M1098.8,399.7 L1113.9,424.1" fill="none" stroke="#1e1e1e" stroke-width="1.35" stroke-linejoin="round" stroke-linecap="round"/>
<path d="M1100.2,432.6 L1100.0,432.1 L1100.0,431.6 L1100.0,431.1 L1100.2,430.5 L1100.4,429.8 L1100.8,429.2 L1101.3,428.5 L1101.9,427.7 L1102.5,427.0 L1103.3,426.3 L1104.1,425.5 L1105.0,424.8 L1105.9,424.2 L1106.9,423.5 L1107.9,422.9 L1109.0,422.4 L1110.0,421.9 L1111.0,421.5 L1112.0,421.2 L1112.9,420.9 L1113.8,420.7 L1114.7,420.6 L1115.5,420.6 L1116.2,420.6 L1116.8,420.7 L1117.3,421.0 L1117.7,421.2 L1118.0,421.6 L1120.7,426.0 L1120.9,426.4 L1121.0,426.9 L1120.9,427.5 L1120.8,428.1 L1120.5,428.7 L1120.1,429.4 L1119.7,430.1 L1119.1,430.8 L1118.4,431.6 L1117.7,432.3 L1116.8,433.0 L1115.9,433.7 L1115.0,434.4 L1114.0,435.0 L1113.0,435.6 L1112.0,436.2 L1111.0,436.6 L1109.9,437.1 L1109.0,437.4 L1108.0,437.7 L1107.1,437.9 L1106.2,438.0 L1105.5,438.0 L1104.8,438.0 L1104.2,437.8 L1103.7,437.6 L1103.2,437.3 L1102.9,437.0 Z" fill="#fff" stroke="#1e1e1e" stroke-width="1.8" stroke-linejoin="round" stroke-linecap="round"/>
<path d="M1100.2,432.6 L1100.0,432.1 L1100.0,431.6 L1100.0,431.1 L1100.2,430.5 L1100.4,429.8 L1100.8,429.2 L1101.3,428.5 L1101.9,427.7 L1102.5,427.0 L1103.3,426.3 L1104.1,425.5 L1105.0,424.8 L1105.9,424.2 L1106.9,423.5 L1107.9,422.9 L1109.0,422.4 L1110.0,421.9 L1111.0,421.5 L1112.0,421.2 L1112.9,420.9 L1113.8,420.7 L1114.7,420.6 L1115.5,420.6 L1116.2,420.6 L1116.8,420.7 L1117.3,421.0 L1117.7,421.2 L1118.0,421.6" fill="none" stroke="#1e1e1e" stroke-width="1.2" stroke-linejoin="round" stroke-linecap="round"/>
<path d="M1119.4,382.4 L1134.4,405.6 L1143.9,399.5 L1128.9,376.2 Z" fill="#fff" stroke="#fff" stroke-width="0.01" stroke-linejoin="round" stroke-linecap="round"/>
<path d="M1119.4,382.4 L1134.4,405.6" fill="none" stroke="#1e1e1e" stroke-width="1.35" stroke-linejoin="round" stroke-linecap="round"/>
<path d="M1128.9,376.2 L1143.9,399.5" fill="none" stroke="#1e1e1e" stroke-width="1.35" stroke-linejoin="round" stroke-linecap="round"/>
<path d="M1130.3,408.2 L1130.1,407.8 L1130.1,407.3 L1130.1,406.8 L1130.2,406.2 L1130.5,405.5 L1130.8,404.8 L1131.3,404.1 L1131.9,403.4 L1132.5,402.6 L1133.3,401.9 L1134.1,401.1 L1135.0,400.4 L1135.9,399.7 L1136.9,399.1 L1137.9,398.5 L1138.9,397.9 L1139.9,397.4 L1140.9,397.0 L1141.9,396.6 L1142.8,396.3 L1143.7,396.1 L1144.6,396.0 L1145.3,395.9 L1146.0,396.0 L1146.7,396.1 L1147.2,396.3 L1147.6,396.6 L1147.9,396.9 L1150.7,401.3 L1150.9,401.7 L1151.0,402.2 L1150.9,402.7 L1150.8,403.3 L1150.5,404.0 L1150.2,404.7 L1149.7,405.4 L1149.1,406.1 L1148.5,406.9 L1147.8,407.6 L1146.9,408.4 L1146.1,409.1 L1145.1,409.8 L1144.2,410.4 L1143.2,411.0 L1142.2,411.6 L1141.1,412.1 L1140.1,412.5 L1139.2,412.9 L1138.2,413.2 L1137.3,413.4 L1136.5,413.5 L1135.7,413.6 L1135.0,413.5 L1134.4,413.4 L1133.9,413.2 L1133.4,412.9 L1133.1,412.6 Z" fill="#fff" stroke="#1e1e1e" stroke-width="1.8" stroke-linejoin="round" stroke-linecap="round"/>
<path d="M1130.3,408.2 L1130.1,407.8 L1130.1,407.3 L1130.1,406.8 L1130.2,406.2 L1130.5,405.5 L1130.8,404.8 L1131.3,404.1 L1131.9,403.4 L1132.5,402.6 L1133.3,401.9 L1134.1,401.1 L1135.0,400.4 L1135.9,399.7 L1136.9,399.1 L1137.9,398.5 L1138.9,397.9 L1139.9,397.4 L1140.9,397.0 L1141.9,396.6 L1142.8,396.3 L1143.7,396.1 L1144.6,396.0 L1145.3,395.9 L1146.0,396.0 L1146.7,396.1 L1147.2,396.3 L1147.6,396.6 L1147.9,396.9" fill="none" stroke="#1e1e1e" stroke-width="1.2" stroke-linejoin="round" stroke-linecap="round"/>
<path d="M631.2,577.2 L790.2,485.9 L791.2,490.2 L787.0,493.4 L813.8,512.8 L819.2,508.5 L860.0,539.6 L854.2,586.5 L862.8,582.6 L856.1,618.1 L747.8,681.5 L631.2,590.1 Z" fill="#fff" stroke="#fff" stroke-width="0.01" stroke-linejoin="round" stroke-linecap="round"/>
<path d="M631.2,590.1 L631.2,577.2 L790.2,485.9 L791.2,490.2 L787.0,493.4 L813.8,512.8 L819.2,508.5 L860.0,539.6 L854.2,586.5 L862.8,582.6 L856.1,618.1 L747.8,681.5 L631.2,590.1" fill="none" stroke="#1e1e1e" stroke-width="1.35" stroke-linejoin="round" stroke-linecap="round"/>
<path d="M630.5,576.7 L637.3,585.3 L699.9,538.3" fill="none" stroke="#1e1e1e" stroke-width="1.35" stroke-linejoin="round" stroke-linecap="round"/>
<path d="M655.7,570.5 L752.7,644.2 L761.3,639.3 L769.3,592.0 L785.0,583.4" fill="none" stroke="#1e1e1e" stroke-width="1.35" stroke-linejoin="round" stroke-linecap="round"/>
<path d="M657.2,569.5 L753.7,643.2" fill="none" stroke="#1e1e1e" stroke-width="0.9" stroke-linejoin="round" stroke-linecap="round"/>
<path d="M665.5,565.0 L761.3,639.3" fill="none" stroke="#1e1e1e" stroke-width="1.35" stroke-linejoin="round" stroke-linecap="round"/>
<path d="M667.0,564.4 L761.3,638.3" fill="none" stroke="#1e1e1e" stroke-width="0.9" stroke-linejoin="round" stroke-linecap="round"/>
<path d="M665.5,565.0 L711.0,536.8" fill="none" stroke="#1e1e1e" stroke-width="1.35" stroke-linejoin="round" stroke-linecap="round"/>
<path d="M751.5,643.2 L747.8,681.5" fill="none" stroke="#1e1e1e" stroke-width="1.35" stroke-linejoin="round" stroke-linecap="round"/>
<path d="M769.3,592.0 L860.0,539.6" fill="none" stroke="#1e1e1e" stroke-width="1.35" stroke-linejoin="round" stroke-linecap="round"/>
<path d="M730.6,561.9 L769.3,592.0" fill="none" stroke="#1e1e1e" stroke-width="1.35" stroke-linejoin="round" stroke-linecap="round"/>
<path d="M711.0,536.8 L737.4,556.4 L709.7,577.3" fill="none" stroke="#1e1e1e" stroke-width="1.35" stroke-linejoin="round" stroke-linecap="round"/>
<path d="M693.762278978389,550.2603143418468 Q682.7111984282908,558.2416502946954 687.62278978389,571.7485265225934 Q693.762278978389,581.5717092337918 702.3575638506876,581.5717092337918 L709.7249508840864,577.2740667976425" fill="none" stroke="#1e1e1e" stroke-width="1.35" stroke-linejoin="round" stroke-linecap="round"/>
<path d="M693.762278978389,550.2603143418468 Q691.3064833005894,570.5206286836935 709.7249508840864,577.2740667976425" fill="none" stroke="#1e1e1e" stroke-width="1.35" stroke-linejoin="round" stroke-linecap="round"/>
<path d="M693.8,550.3 L711.0,536.8" fill="none" stroke="#1e1e1e" stroke-width="1.35" stroke-linejoin="round" stroke-linecap="round"/>
<ellipse cx="661.8" cy="585.0" rx="3.8" ry="6.1" transform="rotate(-22 661.8 585.0)" fill="none" stroke="#1e1e1e" stroke-width="1.35"/>
<ellipse cx="658.8" cy="603.9" rx="3.8" ry="6.1" transform="rotate(-22 658.8 603.9)" fill="none" stroke="#1e1e1e" stroke-width="1.35"/>
<ellipse cx="673.9" cy="604.9" rx="3.8" ry="6.1" transform="rotate(-22 673.9 604.9)" fill="none" stroke="#1e1e1e" stroke-width="1.35"/>
<ellipse cx="688.9" cy="606.1" rx="3.8" ry="6.1" transform="rotate(-22 688.9 606.1)" fill="none" stroke="#1e1e1e" stroke-width="1.35"/>
<ellipse cx="685.8" cy="625.2" rx="3.8" ry="6.1" transform="rotate(-22 685.8 625.2)" fill="none" stroke="#1e1e1e" stroke-width="1.35"/>
<ellipse cx="700.8" cy="626.0" rx="3.8" ry="6.1" transform="rotate(-22 700.8 626.0)" fill="none" stroke="#1e1e1e" stroke-width="1.35"/>
<ellipse cx="715.9" cy="626.8" rx="3.8" ry="6.1" transform="rotate(-22 715.9 626.8)" fill="none" stroke="#1e1e1e" stroke-width="1.35"/>
<ellipse cx="712.8" cy="646.0" rx="3.8" ry="6.1" transform="rotate(-22 712.8 646.0)" fill="none" stroke="#1e1e1e" stroke-width="1.35"/>
<ellipse cx="727.9" cy="647.0" rx="3.8" ry="6.1" transform="rotate(-22 727.9 647.0)" fill="none" stroke="#1e1e1e" stroke-width="1.35"/>
<ellipse cx="742.9" cy="647.9" rx="3.8" ry="6.1" transform="rotate(-22 742.9 647.9)" fill="none" stroke="#1e1e1e" stroke-width="1.35"/>
<ellipse cx="739.7" cy="666.8" rx="4.3" ry="5.8" transform="rotate(-15 739.7 666.8)" fill="none" stroke="#1e1e1e" stroke-width="1.35"/>
<path d="M635.5,492.1 L648.9,513.2 L648.9,513.2 L649.0,513.3 L649.2,513.3 L649.5,513.4 L649.8,513.3 L650.1,513.3 L650.6,513.1 L651.0,513.0 L651.5,512.8 L652.1,512.6 L652.6,512.3 L653.2,512.0 L653.8,511.6 L654.4,511.3 L655.0,510.9 L655.6,510.5 L656.2,510.1 L656.8,509.7 L657.3,509.3 L657.8,508.9 L658.2,508.5 L658.6,508.1 L659.0,507.8 L659.3,507.5 L659.5,507.2 L659.6,506.9 L659.7,506.6 L659.7,506.5 L659.7,506.3 L659.7,506.3 L646.3,485.3" fill="#fff" stroke="#fff" stroke-width="0.01" stroke-linejoin="round" stroke-linecap="round"/>
<path d="M635.5,492.1 L648.9,513.2 L659.7,506.3 L646.3,485.3 Z" fill="#fff" stroke="#fff" stroke-width="0.01" stroke-linejoin="round" stroke-linecap="round"/>
<path d="M635.5,492.1 L648.9,513.2" fill="none" stroke="#1e1e1e" stroke-width="1.35" stroke-linejoin="round" stroke-linecap="round"/>
<path d="M646.3,485.3 L659.7,506.3" fill="none" stroke="#1e1e1e" stroke-width="1.35" stroke-linejoin="round" stroke-linecap="round"/>
<path d="M648.9,513.2 L649.0,513.3 L649.2,513.3 L649.5,513.4 L649.8,513.3 L650.1,513.3 L650.6,513.1 L651.0,513.0 L651.5,512.8 L652.1,512.6 L652.6,512.3 L653.2,512.0 L653.8,511.6 L654.4,511.3 L655.0,510.9 L655.6,510.5 L656.2,510.1 L656.8,509.7 L657.3,509.3 L657.8,508.9 L658.2,508.5 L658.6,508.1 L659.0,507.8 L659.3,507.5 L659.5,507.2 L659.6,506.9 L659.7,506.6 L659.7,506.5 L659.7,506.3" fill="none" stroke="#1e1e1e" stroke-width="1.0" stroke-linejoin="round" stroke-linecap="round"/>
<path d="M628.4,488.2 L628.3,488.0 L628.3,487.7 L628.5,487.3 L628.7,486.9 L629.1,486.4 L629.5,485.8 L630.1,485.3 L630.7,484.7 L631.4,484.0 L632.2,483.4 L633.1,482.7 L634.0,482.1 L634.9,481.4 L635.9,480.8 L636.9,480.2 L637.9,479.6 L638.8,479.1 L639.8,478.6 L640.7,478.1 L641.6,477.8 L642.4,477.4 L643.1,477.2 L643.8,477.0 L644.4,476.9 L644.9,476.9 L645.3,476.9 L645.6,477.0 L645.8,477.2 L649.6,483.2 L649.7,483.4 L649.7,483.7 L649.5,484.1 L649.3,484.6 L648.9,485.0 L648.5,485.6 L647.9,486.2 L647.3,486.8 L646.6,487.4 L645.8,488.0 L644.9,488.7 L644.0,489.4 L643.1,490.0 L642.1,490.6 L641.2,491.2 L640.2,491.8 L639.2,492.4 L638.2,492.8 L637.3,493.3 L636.5,493.7 L635.6,494.0 L634.9,494.2 L634.2,494.4 L633.6,494.5 L633.1,494.6 L632.7,494.5 L632.4,494.4 L632.2,494.3 Z" fill="#fff" stroke="#1e1e1e" stroke-width="1.35" stroke-linejoin="round" stroke-linecap="round"/>
<path d="M628.4,488.2 L628.7,488.5 L629.2,488.6 L629.9,488.5 L630.8,488.3 L631.8,488.0 L633.0,487.5 L634.2,486.9 L635.6,486.2 L636.9,485.5 L638.3,484.6 L639.7,483.7 L640.9,482.8 L642.1,481.9 L643.2,481.0 L644.1,480.1 L644.9,479.4 L645.4,478.6 L645.8,478.0 L645.9,477.5 L645.8,477.2 L645.5,476.9 L645.0,476.9 L644.3,476.9 L643.4,477.1 L642.4,477.4 L641.2,477.9 L640.0,478.5 L638.6,479.2 L637.3,480.0 L635.9,480.8 L634.5,481.7 L633.3,482.6 L632.1,483.5 L631.0,484.4 L630.1,485.3 L629.3,486.1 L628.8,486.8 L628.4,487.4 L628.3,487.9 L628.4,488.2 Z" fill="none" stroke="#1e1e1e" stroke-width="1.6" stroke-linejoin="round" stroke-linecap="round"/>
<path d="M657.2,470.8 L670.5,503.5 L670.5,503.5 L670.6,503.7 L670.7,503.8 L671.0,503.8 L671.3,503.9 L671.7,503.9 L672.1,503.8 L672.6,503.7 L673.1,503.6 L673.7,503.5 L674.3,503.3 L674.9,503.2 L675.6,502.9 L676.3,502.7 L676.9,502.4 L677.6,502.2 L678.2,501.9 L678.8,501.6 L679.4,501.3 L680.0,501.0 L680.5,500.6 L681.0,500.4 L681.3,500.1 L681.7,499.8 L682.0,499.5 L682.2,499.3 L682.3,499.1 L682.3,498.9 L682.3,498.7 L682.3,498.7 L669.0,466.0" fill="#fff" stroke="#fff" stroke-width="0.01" stroke-linejoin="round" stroke-linecap="round"/>
<path d="M657.2,470.8 L670.5,503.5 L682.3,498.7 L669.0,466.0 Z" fill="#fff" stroke="#fff" stroke-width="0.01" stroke-linejoin="round" stroke-linecap="round"/>
<path d="M657.2,470.8 L670.5,503.5" fill="none" stroke="#1e1e1e" stroke-width="1.35" stroke-linejoin="round" stroke-linecap="round"/>
<path d="M669.0,466.0 L682.3,498.7" fill="none" stroke="#1e1e1e" stroke-width="1.35" stroke-linejoin="round" stroke-linecap="round"/>
<path d="M670.5,503.5 L670.6,503.7 L670.7,503.8 L671.0,503.8 L671.3,503.9 L671.7,503.9 L672.1,503.8 L672.6,503.7 L673.1,503.6 L673.7,503.5 L674.3,503.3 L674.9,503.2 L675.6,502.9 L676.3,502.7 L676.9,502.4 L677.6,502.2 L678.2,501.9 L678.8,501.6 L679.4,501.3 L680.0,501.0 L680.5,500.6 L681.0,500.4 L681.3,500.1 L681.7,499.8 L682.0,499.5 L682.2,499.3 L682.3,499.1 L682.3,498.9 L682.3,498.7" fill="none" stroke="#1e1e1e" stroke-width="1.0" stroke-linejoin="round" stroke-linecap="round"/>
<path d="M650.9,465.7 L650.8,465.5 L650.9,465.2 L651.1,464.8 L651.5,464.4 L651.9,464.0 L652.4,463.6 L653.1,463.1 L653.8,462.6 L654.6,462.1 L655.5,461.6 L656.5,461.1 L657.5,460.7 L658.5,460.2 L659.6,459.7 L660.7,459.3 L661.7,458.9 L662.8,458.6 L663.8,458.3 L664.8,458.0 L665.7,457.8 L666.6,457.6 L667.4,457.5 L668.1,457.4 L668.7,457.4 L669.2,457.5 L669.6,457.6 L669.8,457.7 L670.0,458.0 L672.7,464.6 L672.7,464.8 L672.6,465.1 L672.4,465.5 L672.1,465.8 L671.7,466.3 L671.1,466.7 L670.5,467.2 L669.7,467.7 L668.9,468.1 L668.0,468.6 L667.1,469.1 L666.1,469.6 L665.0,470.1 L664.0,470.5 L662.9,471.0 L661.8,471.3 L660.8,471.7 L659.7,472.0 L658.8,472.3 L657.8,472.5 L657.0,472.7 L656.2,472.8 L655.5,472.8 L654.9,472.8 L654.4,472.8 L654.0,472.7 L653.7,472.5 L653.6,472.3 Z" fill="#fff" stroke="#1e1e1e" stroke-width="1.35" stroke-linejoin="round" stroke-linecap="round"/>
<path d="M650.9,465.7 L651.1,466.0 L651.6,466.2 L652.3,466.3 L653.2,466.2 L654.3,466.1 L655.5,465.8 L656.9,465.5 L658.3,465.0 L659.8,464.5 L661.3,463.9 L662.8,463.3 L664.2,462.6 L665.5,461.9 L666.7,461.3 L667.8,460.6 L668.7,459.9 L669.3,459.3 L669.8,458.8 L670.0,458.3 L670.0,458.0 L669.7,457.7 L669.3,457.5 L668.6,457.4 L667.7,457.5 L666.6,457.6 L665.4,457.9 L664.0,458.2 L662.6,458.6 L661.1,459.2 L659.6,459.7 L658.1,460.4 L656.7,461.0 L655.3,461.7 L654.1,462.4 L653.1,463.1 L652.2,463.7 L651.5,464.3 L651.1,464.9 L650.9,465.3 L650.9,465.7 Z" fill="none" stroke="#1e1e1e" stroke-width="1.6" stroke-linejoin="round" stroke-linecap="round"/>
<path d="M681.1,463.8 L692.9,484.6 L692.9,484.6 L693.1,484.8 L693.2,484.8 L693.5,484.9 L693.8,484.9 L694.2,484.8 L694.6,484.7 L695.1,484.6 L695.6,484.4 L696.1,484.2 L696.7,484.0 L697.3,483.7 L697.9,483.4 L698.6,483.1 L699.2,482.7 L699.8,482.3 L700.4,482.0 L701.0,481.6 L701.5,481.2 L702.0,480.8 L702.5,480.5 L702.9,480.1 L703.3,479.8 L703.6,479.5 L703.8,479.2 L704.0,478.9 L704.1,478.7 L704.1,478.5 L704.0,478.3 L704.0,478.3 L692.2,457.5" fill="#fff" stroke="#fff" stroke-width="0.01" stroke-linejoin="round" stroke-linecap="round"/>
<path d="M681.1,463.8 L692.9,484.6 L704.0,478.3 L692.2,457.5 Z" fill="#fff" stroke="#fff" stroke-width="0.01" stroke-linejoin="round" stroke-linecap="round"/>
<path d="M681.1,463.8 L692.9,484.6" fill="none" stroke="#1e1e1e" stroke-width="1.35" stroke-linejoin="round" stroke-linecap="round"/>
<path d="M692.2,457.5 L704.0,478.3" fill="none" stroke="#1e1e1e" stroke-width="1.35" stroke-linejoin="round" stroke-linecap="round"/>
<path d="M692.9,484.6 L693.1,484.8 L693.2,484.8 L693.5,484.9 L693.8,484.9 L694.2,484.8 L694.6,484.7 L695.1,484.6 L695.6,484.4 L696.1,484.2 L696.7,484.0 L697.3,483.7 L697.9,483.4 L698.6,483.1 L699.2,482.7 L699.8,482.3 L700.4,482.0 L701.0,481.6 L701.5,481.2 L702.0,480.8 L702.5,480.5 L702.9,480.1 L703.3,479.8 L703.6,479.5 L703.8,479.2 L704.0,478.9 L704.1,478.7 L704.1,478.5 L704.0,478.3" fill="none" stroke="#1e1e1e" stroke-width="1.0" stroke-linejoin="round" stroke-linecap="round"/>
<path d="M674.2,459.6 L674.1,459.3 L674.2,459.0 L674.3,458.6 L674.6,458.2 L675.0,457.7 L675.4,457.2 L676.0,456.7 L676.7,456.1 L677.4,455.5 L678.2,454.9 L679.1,454.3 L680.1,453.7 L681.0,453.1 L682.0,452.5 L683.0,451.9 L684.1,451.4 L685.1,450.9 L686.0,450.5 L687.0,450.1 L687.9,449.8 L688.7,449.5 L689.5,449.3 L690.1,449.1 L690.7,449.0 L691.2,449.0 L691.6,449.1 L691.9,449.2 L692.1,449.4 L695.6,455.6 L695.7,455.8 L695.7,456.1 L695.5,456.5 L695.2,456.9 L694.9,457.4 L694.4,457.9 L693.8,458.5 L693.1,459.0 L692.4,459.6 L691.6,460.2 L690.7,460.8 L689.8,461.5 L688.8,462.1 L687.8,462.6 L686.8,463.2 L685.8,463.7 L684.8,464.2 L683.8,464.7 L682.8,465.0 L682.0,465.4 L681.1,465.7 L680.4,465.9 L679.7,466.0 L679.1,466.1 L678.6,466.1 L678.2,466.1 L677.9,465.9 L677.7,465.8 Z" fill="#fff" stroke="#1e1e1e" stroke-width="1.35" stroke-linejoin="round" stroke-linecap="round"/>
<path d="M674.2,459.6 L674.5,459.8 L675.0,459.9 L675.7,459.9 L676.6,459.8 L677.6,459.5 L678.8,459.1 L680.1,458.5 L681.4,457.9 L682.9,457.2 L684.3,456.4 L685.7,455.6 L687.0,454.8 L688.2,453.9 L689.3,453.1 L690.3,452.3 L691.1,451.5 L691.6,450.8 L692.0,450.2 L692.2,449.7 L692.1,449.4 L691.8,449.1 L691.3,449.0 L690.6,449.0 L689.7,449.2 L688.7,449.5 L687.5,449.9 L686.2,450.4 L684.9,451.0 L683.4,451.7 L682.0,452.5 L680.6,453.3 L679.3,454.2 L678.1,455.0 L677.0,455.9 L676.0,456.7 L675.2,457.4 L674.6,458.1 L674.3,458.7 L674.1,459.2 L674.2,459.6 Z" fill="none" stroke="#1e1e1e" stroke-width="1.6" stroke-linejoin="round" stroke-linecap="round"/>
<path d="M704.4,445.4 L717.5,468.7 L717.5,468.7 L717.6,468.8 L717.8,468.8 L718.0,468.9 L718.3,468.9 L718.7,468.8 L719.1,468.7 L719.6,468.6 L720.1,468.4 L720.7,468.2 L721.3,468.0 L721.9,467.7 L722.5,467.4 L723.1,467.1 L723.7,466.7 L724.4,466.4 L725.0,466.0 L725.5,465.6 L726.1,465.3 L726.6,464.9 L727.1,464.5 L727.5,464.2 L727.8,463.8 L728.1,463.5 L728.4,463.2 L728.5,463.0 L728.6,462.7 L728.7,462.5 L728.6,462.4 L728.6,462.4 L715.5,439.1" fill="#fff" stroke="#fff" stroke-width="0.01" stroke-linejoin="round" stroke-linecap="round"/>
<path d="M704.4,445.4 L717.5,468.7 L728.6,462.4 L715.5,439.1 Z" fill="#fff" stroke="#fff" stroke-width="0.01" stroke-linejoin="round" stroke-linecap="round"/>
<path d="M704.4,445.4 L717.5,468.7" fill="none" stroke="#1e1e1e" stroke-width="1.35" stroke-linejoin="round" stroke-linecap="round"/>
<path d="M715.5,439.1 L728.6,462.4" fill="none" stroke="#1e1e1e" stroke-width="1.35" stroke-linejoin="round" stroke-linecap="round"/>
<path d="M717.5,468.7 L717.6,468.8 L717.8,468.8 L718.0,468.9 L718.3,468.9 L718.7,468.8 L719.1,468.7 L719.6,468.6 L720.1,468.4 L720.7,468.2 L721.3,468.0 L721.9,467.7 L722.5,467.4 L723.1,467.1 L723.7,466.7 L724.4,466.4 L725.0,466.0 L725.5,465.6 L726.1,465.3 L726.6,464.9 L727.1,464.5 L727.5,464.2 L727.8,463.8 L728.1,463.5 L728.4,463.2 L728.5,463.0 L728.6,462.7 L728.7,462.5 L728.6,462.4" fill="none" stroke="#1e1e1e" stroke-width="1.0" stroke-linejoin="round" stroke-linecap="round"/>
<path d="M697.5,441.1 L697.4,440.9 L697.5,440.5 L697.6,440.2 L697.9,439.7 L698.3,439.3 L698.8,438.8 L699.3,438.2 L700.0,437.7 L700.8,437.1 L701.6,436.5 L702.5,435.9 L703.4,435.2 L704.4,434.7 L705.4,434.1 L706.4,433.5 L707.4,433.0 L708.4,432.5 L709.4,432.1 L710.3,431.7 L711.2,431.4 L712.0,431.1 L712.8,430.9 L713.5,430.7 L714.1,430.6 L714.6,430.6 L715.0,430.7 L715.3,430.8 L715.5,431.0 L719.0,437.2 L719.0,437.5 L719.0,437.8 L718.8,438.1 L718.6,438.6 L718.2,439.0 L717.7,439.5 L717.1,440.1 L716.4,440.7 L715.7,441.2 L714.9,441.8 L714.0,442.5 L713.1,443.1 L712.1,443.7 L711.1,444.2 L710.1,444.8 L709.1,445.3 L708.1,445.8 L707.1,446.2 L706.1,446.6 L705.2,447.0 L704.4,447.2 L703.6,447.4 L702.9,447.6 L702.4,447.7 L701.9,447.7 L701.5,447.6 L701.2,447.5 L701.0,447.3 Z" fill="#fff" stroke="#1e1e1e" stroke-width="1.35" stroke-linejoin="round" stroke-linecap="round"/>
<path d="M697.5,441.1 L697.8,441.4 L698.3,441.5 L699.0,441.5 L699.9,441.3 L700.9,441.0 L702.1,440.6 L703.4,440.1 L704.8,439.5 L706.2,438.8 L707.6,438.0 L709.0,437.2 L710.3,436.4 L711.6,435.5 L712.7,434.7 L713.6,433.9 L714.4,433.1 L715.0,432.4 L715.4,431.9 L715.5,431.4 L715.5,431.0 L715.2,430.7 L714.7,430.6 L714.0,430.6 L713.1,430.8 L712.0,431.1 L710.9,431.5 L709.6,432.0 L708.2,432.6 L706.8,433.3 L705.4,434.1 L704.0,434.9 L702.6,435.7 L701.4,436.6 L700.3,437.4 L699.3,438.2 L698.6,439.0 L698.0,439.7 L697.6,440.2 L697.4,440.7 L697.5,441.1 Z" fill="none" stroke="#1e1e1e" stroke-width="1.6" stroke-linejoin="round" stroke-linecap="round"/>
<path d="M620.5,536.1 L671.5,495.0 L761.1,443.4 L768.5,451.4 L716.9,491.9 L624.8,545.9 Z" fill="#fff" stroke="#1e1e1e" stroke-width="1.8" stroke-linejoin="round" stroke-linecap="round"/>
<path d="M621.8,538.2 L672.7,496.8 L761.7,445.6" fill="none" stroke="#1e1e1e" stroke-width="1.1" stroke-linejoin="round" stroke-linecap="round"/>
<path d="M625.4,544.7 L678.9,503.6 L768.5,452.6" fill="none" stroke="#1e1e1e" stroke-width="1.1" stroke-linejoin="round" stroke-linecap="round"/>
<path d="M671.5,495.0 L678.9,504.8" fill="none" stroke="#1e1e1e" stroke-width="1.1" stroke-linejoin="round" stroke-linecap="round"/>
<ellipse cx="662.9" cy="522.0" rx="6.4" ry="1.1" transform="rotate(-30 662.9 522.0)" fill="none" stroke="#1e1e1e" stroke-width="2.0"/>
<ellipse cx="686.2" cy="503.6" rx="6.4" ry="1.1" transform="rotate(-30 686.2 503.6)" fill="none" stroke="#1e1e1e" stroke-width="2.0"/>
<ellipse cx="708.9" cy="496.2" rx="6.4" ry="1.1" transform="rotate(-30 708.9 496.2)" fill="none" stroke="#1e1e1e" stroke-width="2.0"/>
<ellipse cx="732.3" cy="475.3" rx="6.4" ry="1.1" transform="rotate(-30 732.3 475.3)" fill="none" stroke="#1e1e1e" stroke-width="2.0"/>
<ellipse cx="759.9" cy="449.6" rx="2.0" ry="2.0" transform="rotate(0 759.9 449.6)" fill="none" stroke="#1e1e1e" stroke-width="1.0"/>
<path d="M1019.6,595.2 L1155.2,517.2 L1183.6,533.2 L1183.6,582.8 L1047.3,660.8 L1019.6,645.5 Z" fill="#fff" stroke="#1e1e1e" stroke-width="1.35" stroke-linejoin="round" stroke-linecap="round"/>
<path d="M1019.6,595.2 L1047.3,611.2 L1183.6,533.2" fill="none" stroke="#1e1e1e" stroke-width="1.35" stroke-linejoin="round" stroke-linecap="round"/>
<path d="M1020.3,597.4 L1047.3,613.0 L1183.2,535.4" fill="none" stroke="#1e1e1e" stroke-width="0.9" stroke-linejoin="round" stroke-linecap="round"/>
<path d="M1047.3,611.2 L1047.3,660.8" fill="none" stroke="#1e1e1e" stroke-width="1.35" stroke-linejoin="round" stroke-linecap="round"/>
<path d="M1048.7,612.4 L1048.7,660.1" fill="none" stroke="#1e1e1e" stroke-width="0.8" stroke-linejoin="round" stroke-linecap="round"/>
<ellipse cx="1060.4" cy="587.9" rx="8.2" ry="4.8" transform="rotate(0 1060.4 587.9)" fill="none" stroke="#1e1e1e" stroke-width="1.35"/>
<ellipse cx="1142.8" cy="540.5" rx="8.2" ry="4.8" transform="rotate(0 1142.8 540.5)" fill="none" stroke="#1e1e1e" stroke-width="1.35"/>
<path d="M221.7,168.0 L222.6,190.7" fill="none" stroke="#777777" stroke-width="0.8" stroke-linejoin="round" stroke-linecap="round"/>
<circle cx="222.6" cy="190.7" r="2.6" fill="none" stroke="#777777" stroke-width="0.8"/>
<circle cx="222.0" cy="159.5" r="8.5" fill="#fff" stroke="#777777" stroke-width="0.9"/>
<text x="222.0" y="163.3" font-size="10.5" fill="#444" text-anchor="middle" textLength="11" lengthAdjust="spacingAndGlyphs">12</text>
<path d="M186.1,419.0 L186.1,387.2" fill="none" stroke="#777777" stroke-width="0.8" stroke-linejoin="round" stroke-linecap="round"/>
<circle cx="186.1" cy="387.2" r="2.6" fill="none" stroke="#777777" stroke-width="0.8"/>
<circle cx="185.9" cy="427.4" r="8.5" fill="#fff" stroke="#777777" stroke-width="0.9"/>
<text x="185.9" y="431.2" font-size="10.5" fill="#444" text-anchor="middle">9</text>
<path d="M289.9,516.6 L315.6,492.6" fill="none" stroke="#777777" stroke-width="0.8" stroke-linejoin="round" stroke-linecap="round"/>
<circle cx="315.6" cy="492.6" r="2.6" fill="none" stroke="#777777" stroke-width="0.8"/>
<circle cx="281.6" cy="524.1" r="8.5" fill="#fff" stroke="#777777" stroke-width="0.9"/>
<text x="281.6" y="527.9" font-size="10.5" fill="#444" text-anchor="middle">1</text>
<path d="M511.6,190.5 L528.6,205.9" fill="none" stroke="#777777" stroke-width="0.8" stroke-linejoin="round" stroke-linecap="round"/>
<circle cx="528.6" cy="205.9" r="2.6" fill="none" stroke="#777777" stroke-width="0.8"/>
<circle cx="503.7" cy="185.5" r="8.5" fill="#fff" stroke="#777777" stroke-width="0.9"/>
<text x="503.7" y="189.3" font-size="10.5" fill="#444" text-anchor="middle" textLength="11" lengthAdjust="spacingAndGlyphs">11</text>
<path d="M480.5,218.0 L505.7,236.8" fill="none" stroke="#777777" stroke-width="0.8" stroke-linejoin="round" stroke-linecap="round"/>
<circle cx="505.7" cy="236.8" r="2.6" fill="none" stroke="#777777" stroke-width="0.8"/>
<circle cx="472.7" cy="213.9" r="8.5" fill="#fff" stroke="#777777" stroke-width="0.9"/>
<text x="472.7" y="217.7" font-size="10.5" fill="#444" text-anchor="middle">8</text>
<path d="M129.0,501.0 L139.1,511.8" fill="none" stroke="#777777" stroke-width="0.8" stroke-linejoin="round" stroke-linecap="round"/>
<circle cx="139.1" cy="511.8" r="2.6" fill="none" stroke="#777777" stroke-width="0.8"/>
<circle cx="123.0" cy="494.6" r="8.5" fill="#fff" stroke="#777777" stroke-width="0.9"/>
<text x="123.0" y="498.4" font-size="10.5" fill="#444" text-anchor="middle" textLength="11" lengthAdjust="spacingAndGlyphs">16</text>
<path d="M215.1,624.7 L242.3,601.6" fill="none" stroke="#777777" stroke-width="0.8" stroke-linejoin="round" stroke-linecap="round"/>
<circle cx="242.3" cy="601.6" r="2.6" fill="none" stroke="#777777" stroke-width="0.8"/>
<circle cx="207.8" cy="630.4" r="8.5" fill="#fff" stroke="#777777" stroke-width="0.9"/>
<text x="207.8" y="634.2" font-size="10.5" fill="#444" text-anchor="middle" textLength="11" lengthAdjust="spacingAndGlyphs">17</text>
<path d="M745.6,212.7 L762.8,198.2" fill="none" stroke="#777777" stroke-width="0.8" stroke-linejoin="round" stroke-linecap="round"/>
<circle cx="762.8" cy="198.2" r="2.6" fill="none" stroke="#777777" stroke-width="0.8"/>
<circle cx="738.9" cy="218.2" r="8.5" fill="#fff" stroke="#777777" stroke-width="0.9"/>
<text x="738.9" y="222.0" font-size="10.5" fill="#444" text-anchor="middle" textLength="11" lengthAdjust="spacingAndGlyphs">14</text>
<path d="M822.2,327.1 L822.2,300.8" fill="none" stroke="#777777" stroke-width="0.8" stroke-linejoin="round" stroke-linecap="round"/>
<circle cx="822.2" cy="300.8" r="2.6" fill="none" stroke="#777777" stroke-width="0.8"/>
<circle cx="822.2" cy="335.6" r="8.5" fill="#fff" stroke="#777777" stroke-width="0.9"/>
<text x="822.2" y="339.4" font-size="10.5" fill="#444" text-anchor="middle">5</text>
<path d="M1073.0,194.1 L1049.7,211.2" fill="none" stroke="#777777" stroke-width="0.8" stroke-linejoin="round" stroke-linecap="round"/>
<circle cx="1049.7" cy="211.2" r="2.6" fill="none" stroke="#777777" stroke-width="0.8"/>
<circle cx="1079.3" cy="187.0" r="8.5" fill="#fff" stroke="#777777" stroke-width="0.9"/>
<text x="1079.3" y="190.8" font-size="10.5" fill="#444" text-anchor="middle">3</text>
<path d="M915.7,476.1 L933.4,460.5" fill="none" stroke="#777777" stroke-width="0.8" stroke-linejoin="round" stroke-linecap="round"/>
<circle cx="933.4" cy="460.5" r="2.6" fill="none" stroke="#777777" stroke-width="0.8"/>
<circle cx="909.1" cy="482.6" r="8.5" fill="#fff" stroke="#777777" stroke-width="0.9"/>
<text x="909.1" y="486.4" font-size="10.5" fill="#444" text-anchor="middle">4</text>
<path d="M1031.8,457.9 L1020.0,448.7" fill="none" stroke="#777777" stroke-width="0.8" stroke-linejoin="round" stroke-linecap="round"/>
<circle cx="1020.0" cy="448.7" r="2.6" fill="none" stroke="#777777" stroke-width="0.8"/>
<circle cx="1038.3" cy="467.0" r="8.5" fill="#fff" stroke="#777777" stroke-width="0.9"/>
<text x="1038.3" y="470.8" font-size="10.5" fill="#444" text-anchor="middle">7</text>
<path d="M1073.5,465.7 L1064.9,452.6" fill="none" stroke="#777777" stroke-width="0.8" stroke-linejoin="round" stroke-linecap="round"/>
<circle cx="1064.9" cy="452.6" r="2.6" fill="none" stroke="#777777" stroke-width="0.8"/>
<circle cx="1080.1" cy="474.8" r="8.5" fill="#fff" stroke="#777777" stroke-width="0.9"/>
<text x="1080.1" y="478.6" font-size="10.5" fill="#444" text-anchor="middle" textLength="11" lengthAdjust="spacingAndGlyphs">14</text>
<path d="M652.6,447.2 L660.6,459.1" fill="none" stroke="#777777" stroke-width="0.8" stroke-linejoin="round" stroke-linecap="round"/>
<circle cx="660.6" cy="459.1" r="2.6" fill="none" stroke="#777777" stroke-width="0.8"/>
<circle cx="646.8" cy="438.6" r="8.5" fill="#fff" stroke="#777777" stroke-width="0.9"/>
<text x="646.8" y="442.4" font-size="10.5" fill="#444" text-anchor="middle" textLength="11" lengthAdjust="spacingAndGlyphs">15</text>
<path d="M748.3,435.4 L759.0,449.4" fill="none" stroke="#777777" stroke-width="0.8" stroke-linejoin="round" stroke-linecap="round"/>
<circle cx="759.0" cy="449.4" r="2.6" fill="none" stroke="#777777" stroke-width="0.8"/>
<circle cx="742.9" cy="427.9" r="8.5" fill="#fff" stroke="#777777" stroke-width="0.9"/>
<text x="742.9" y="431.7" font-size="10.5" fill="#444" text-anchor="middle">6</text>
<path d="M853.6,511.7 L827.8,528.9" fill="none" stroke="#777777" stroke-width="0.8" stroke-linejoin="round" stroke-linecap="round"/>
<circle cx="827.8" cy="528.9" r="2.6" fill="none" stroke="#777777" stroke-width="0.8"/>
<circle cx="860.7" cy="503.5" r="8.5" fill="#fff" stroke="#777777" stroke-width="0.9"/>
<text x="860.7" y="507.3" font-size="10.5" fill="#444" text-anchor="middle">2</text>
<path d="M843.9,445.1 L860.0,433.3" fill="none" stroke="#777777" stroke-width="0.8" stroke-linejoin="round" stroke-linecap="round"/>
<circle cx="860.0" cy="433.3" r="2.6" fill="none" stroke="#777777" stroke-width="0.8"/>
<circle cx="837.5" cy="450.5" r="8.5" fill="#fff" stroke="#777777" stroke-width="0.9"/>
<text x="837.5" y="454.3" font-size="10.5" fill="#444" text-anchor="middle" textLength="11" lengthAdjust="spacingAndGlyphs">13</text>
<path d="M1080.8,545.6 L1096.9,557.6" fill="none" stroke="#777777" stroke-width="0.8" stroke-linejoin="round" stroke-linecap="round"/>
<circle cx="1096.9" cy="557.6" r="2.6" fill="none" stroke="#777777" stroke-width="0.8"/>
<circle cx="1072.8" cy="539.8" r="8.5" fill="#2ea53b" stroke="#2ea53b" stroke-width="0.9"/>
<text x="1072.8" y="543.6" font-size="10.5" font-weight="bold" fill="#111" text-anchor="middle">10</text></g>
</svg></body></html>
